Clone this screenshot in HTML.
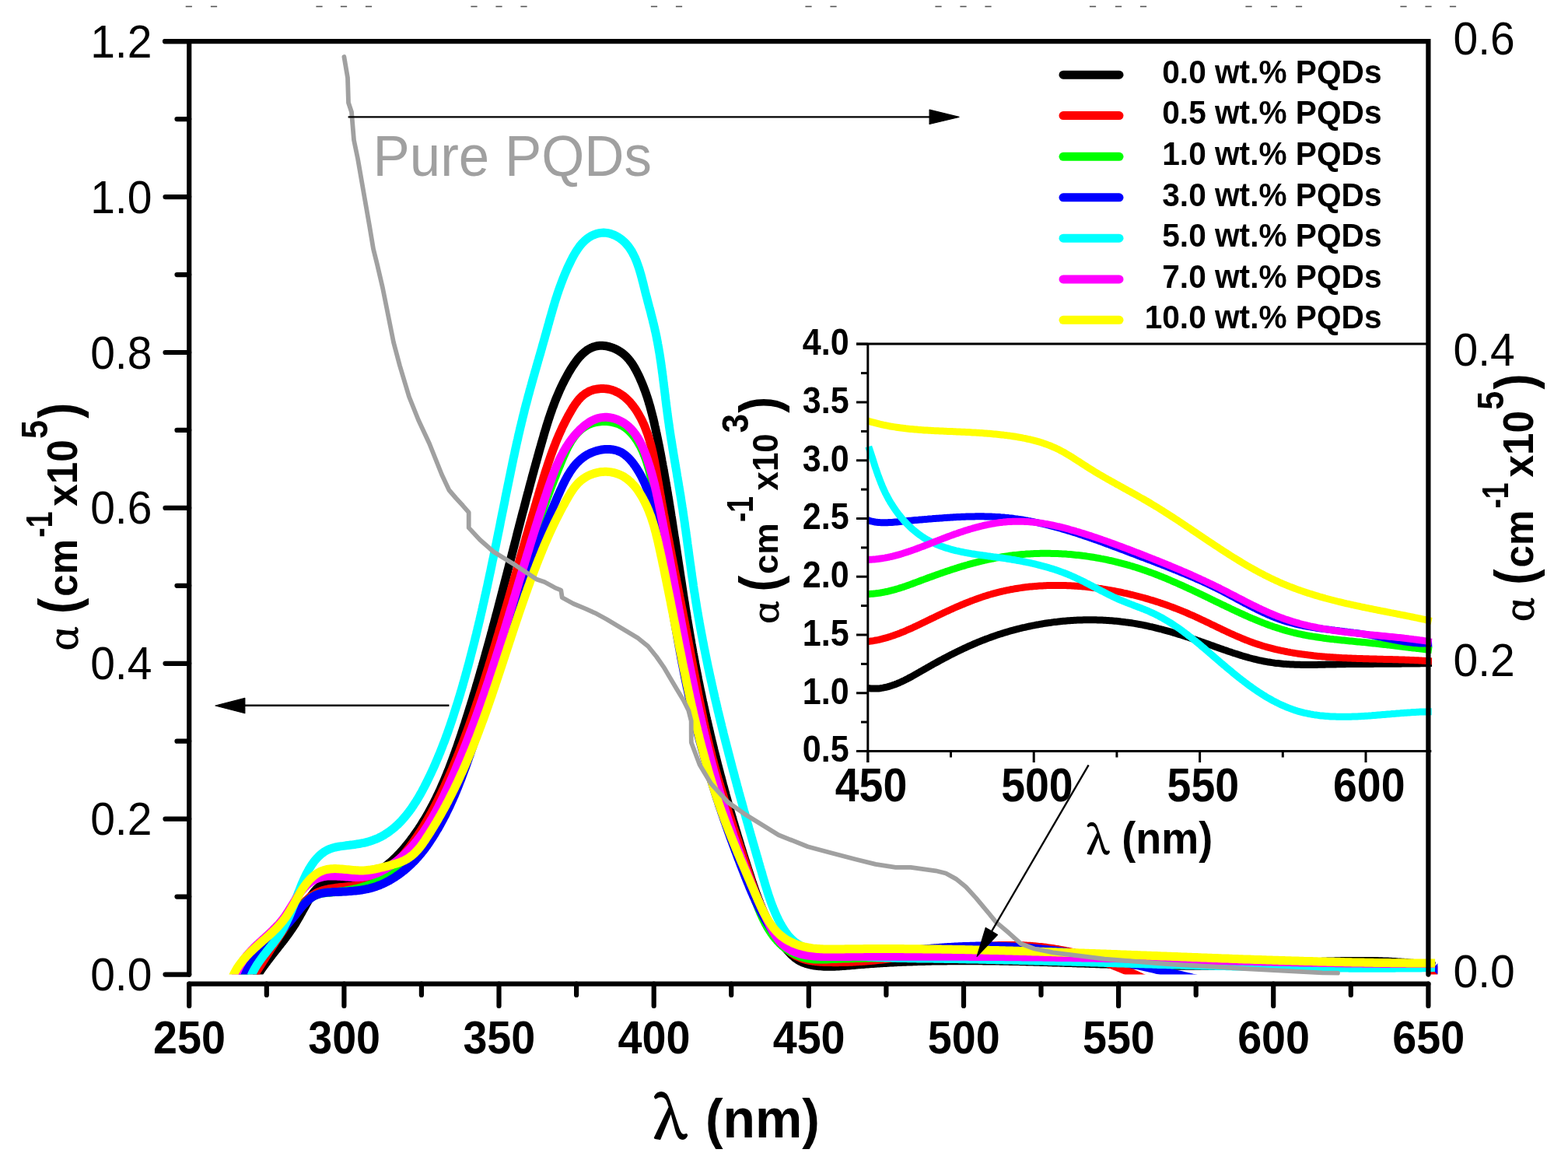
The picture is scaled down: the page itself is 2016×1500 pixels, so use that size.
<!DOCTYPE html><html><head><meta charset="utf-8"><title>Absorption coefficient</title>
<style>html,body{margin:0;padding:0;background:#fff;}svg{display:block;}text{font-family:"Liberation Sans",Arial,sans-serif;}.b{font-weight:bold;} .s{font-family:"Liberation Serif","Times New Roman",serif;font-weight:normal;}</style>
</head><body>
<svg xmlns="http://www.w3.org/2000/svg" width="2016" height="1500" viewBox="0 0 2016 1500">
<rect width="2016" height="1500" fill="#fff"/>
<defs><clipPath id="cm"><rect x="243.2" y="53.2" width="1605.2" height="1199.4"/></clipPath></defs>
<rect x="238.7" y="7.6" width="8.2" height="1.6" fill="#555"/>
<rect x="270.9" y="7.6" width="8.2" height="1.6" fill="#555"/>
<rect x="406.4" y="7.6" width="8.2" height="1.6" fill="#555"/>
<rect x="437.9" y="7.6" width="8.2" height="1.6" fill="#555"/>
<rect x="469.9" y="7.6" width="8.2" height="1.6" fill="#555"/>
<rect x="605.4" y="7.6" width="8.2" height="1.6" fill="#555"/>
<rect x="637.4" y="7.6" width="8.2" height="1.6" fill="#555"/>
<rect x="669.4" y="7.6" width="8.2" height="1.6" fill="#555"/>
<rect x="836.9" y="7.6" width="8.2" height="1.6" fill="#555"/>
<rect x="868.9" y="7.6" width="8.2" height="1.6" fill="#555"/>
<rect x="1035.4" y="7.6" width="8.2" height="1.6" fill="#555"/>
<rect x="1067.4" y="7.6" width="8.2" height="1.6" fill="#555"/>
<rect x="1202.4" y="7.6" width="8.2" height="1.6" fill="#555"/>
<rect x="1234.4" y="7.6" width="8.2" height="1.6" fill="#555"/>
<rect x="1266.4" y="7.6" width="8.2" height="1.6" fill="#555"/>
<rect x="1400.9" y="7.6" width="8.2" height="1.6" fill="#555"/>
<rect x="1433.9" y="7.6" width="8.2" height="1.6" fill="#555"/>
<rect x="1465.9" y="7.6" width="8.2" height="1.6" fill="#555"/>
<rect x="1601.4" y="7.6" width="8.2" height="1.6" fill="#555"/>
<rect x="1633.9" y="7.6" width="8.2" height="1.6" fill="#555"/>
<rect x="1665.9" y="7.6" width="8.2" height="1.6" fill="#555"/>
<rect x="1800.4" y="7.6" width="8.2" height="1.6" fill="#555"/>
<rect x="1832.4" y="7.6" width="8.2" height="1.6" fill="#555"/>
<rect x="1863.9" y="7.6" width="8.2" height="1.6" fill="#555"/>
<g clip-path="url(#cm)" fill="none" stroke-width="11" stroke-linejoin="round">
<path d="M326.1 1261.8 L327.1 1260.1 L328.1 1258.3 L329.2 1256.6 L330.2 1254.9 L331.3 1253.2 L332.4 1251.6 L333.5 1249.9 L334.6 1248.2 L335.7 1246.6 L336.8 1244.9 L338.0 1243.3 L339.1 1241.7 L340.3 1240.1 L341.5 1238.5 L342.7 1236.9 L343.9 1235.3 L345.1 1233.7 L346.3 1232.1 L347.5 1230.5 L348.7 1229.0 L349.9 1227.4 L351.2 1225.8 L352.4 1224.3 L353.6 1222.7 L354.9 1221.1 L356.1 1219.6 L357.3 1218.0 L358.6 1216.4 L359.8 1214.9 L361.0 1213.3 L362.2 1211.7 L363.4 1210.2 L364.7 1208.6 L365.9 1207.0 L367.1 1205.4 L368.3 1203.8 L369.4 1202.2 L370.6 1200.6 L371.8 1199.0 L372.9 1197.4 L374.1 1195.7 L375.2 1194.1 L376.3 1192.4 L377.4 1190.8 L378.5 1189.1 L379.5 1187.4 L380.6 1185.7 L381.6 1184.0 L382.6 1182.3 L383.7 1180.5 L384.7 1178.8 L385.6 1177.0 L386.6 1175.2 L387.6 1173.5 L388.6 1171.7 L389.6 1169.9 L390.6 1168.1 L391.6 1166.3 L392.6 1164.5 L393.6 1162.6 L394.6 1160.8 L395.7 1159.0 L396.7 1157.1 L397.8 1155.3 L398.9 1153.5 L400.0 1151.7 L401.2 1150.0 L402.4 1148.3 L403.7 1146.6 L405.0 1145.0 L406.3 1143.5 L407.7 1142.1 L409.1 1140.8 L410.6 1139.6 L412.2 1138.5 L413.8 1137.6 L415.5 1136.7 L417.3 1136.0 L419.1 1135.5 L421.0 1135.0 L422.9 1134.6 L424.9 1134.3 L426.9 1134.1 L428.9 1134.0 L431.0 1133.9 L433.0 1133.8 L435.1 1133.7 L437.2 1133.7 L439.3 1133.6 L441.4 1133.6 L443.5 1133.5 L445.6 1133.4 L447.7 1133.2 L449.7 1133.0 L451.7 1132.7 L453.7 1132.4 L455.7 1132.0 L457.6 1131.6 L459.6 1131.2 L461.5 1130.7 L463.4 1130.2 L465.3 1129.6 L467.1 1129.0 L469.0 1128.3 L470.8 1127.6 L472.6 1126.9 L474.4 1126.1 L476.2 1125.3 L477.9 1124.5 L479.7 1123.6 L481.4 1122.7 L483.1 1121.8 L484.8 1120.8 L486.4 1119.8 L488.1 1118.7 L489.7 1117.7 L491.3 1116.6 L492.9 1115.4 L494.5 1114.3 L496.0 1113.1 L497.6 1111.9 L499.1 1110.6 L500.6 1109.4 L502.1 1108.1 L503.6 1106.8 L505.1 1105.4 L506.5 1104.1 L508.0 1102.7 L509.4 1101.3 L510.8 1099.9 L512.2 1098.5 L513.6 1097.0 L514.9 1095.5 L516.3 1094.0 L517.6 1092.5 L518.9 1091.0 L520.3 1089.5 L521.5 1087.9 L522.8 1086.4 L524.1 1084.8 L525.3 1083.2 L526.6 1081.6 L527.8 1080.0 L529.0 1078.4 L530.2 1076.8 L531.4 1075.2 L532.6 1073.5 L533.7 1071.9 L534.9 1070.2 L536.0 1068.6 L537.2 1066.9 L538.3 1065.3 L539.4 1063.6 L540.5 1061.9 L541.6 1060.2 L542.6 1058.5 L543.7 1056.8 L544.7 1055.1 L545.8 1053.4 L546.8 1051.7 L547.8 1050.0 L548.8 1048.3 L549.8 1046.6 L550.8 1044.8 L551.8 1043.1 L552.7 1041.3 L553.7 1039.6 L554.6 1037.8 L555.5 1036.1 L556.5 1034.3 L557.4 1032.5 L558.3 1030.8 L559.2 1029.0 L560.1 1027.2 L561.0 1025.4 L561.8 1023.6 L562.7 1021.8 L563.6 1020.0 L564.4 1018.2 L565.2 1016.4 L566.1 1014.6 L566.9 1012.8 L567.7 1010.9 L568.5 1009.1 L569.3 1007.3 L570.1 1005.5 L570.9 1003.6 L571.7 1001.8 L572.5 999.9 L573.2 998.1 L574.0 996.3 L574.7 994.4 L575.5 992.5 L576.2 990.7 L577.0 988.8 L577.7 987.0 L578.4 985.1 L579.1 983.2 L579.8 981.4 L580.5 979.5 L581.3 977.6 L581.9 975.7 L582.6 973.9 L583.3 972.0 L584.0 970.1 L584.7 968.2 L585.4 966.3 L586.0 964.4 L586.7 962.5 L587.4 960.7 L588.0 958.8 L588.7 956.9 L589.3 955.0 L590.0 953.1 L590.6 951.2 L591.3 949.3 L591.9 947.4 L592.6 945.5 L593.2 943.6 L593.8 941.7 L594.4 939.8 L595.1 937.9 L595.7 936.0 L596.3 934.1 L596.9 932.2 L597.6 930.2 L598.2 928.3 L598.8 926.4 L599.4 924.5 L600.0 922.6 L600.6 920.7 L601.2 918.8 L601.8 916.9 L602.4 915.0 L603.0 913.1 L603.6 911.2 L604.2 909.2 L604.8 907.3 L605.4 905.4 L606.0 903.5 L606.6 901.6 L607.2 899.7 L607.8 897.8 L608.3 895.9 L608.9 893.9 L609.5 892.0 L610.1 890.1 L610.7 888.2 L611.2 886.3 L611.8 884.4 L612.4 882.4 L612.9 880.5 L613.5 878.6 L614.1 876.7 L614.6 874.8 L615.2 872.8 L615.8 870.9 L616.3 869.0 L616.9 867.1 L617.4 865.2 L618.0 863.2 L618.5 861.3 L619.1 859.4 L619.6 857.5 L620.2 855.6 L620.7 853.6 L621.3 851.7 L621.8 849.8 L622.4 847.9 L622.9 845.9 L623.5 844.0 L624.0 842.1 L624.5 840.2 L625.1 838.2 L625.6 836.3 L626.1 834.4 L626.7 832.5 L627.2 830.5 L627.7 828.6 L628.3 826.7 L628.8 824.8 L629.3 822.8 L629.9 820.9 L630.4 819.0 L630.9 817.0 L631.4 815.1 L631.9 813.2 L632.5 811.3 L633.0 809.3 L633.5 807.4 L634.0 805.5 L634.5 803.5 L635.1 801.6 L635.6 799.7 L636.1 797.7 L636.6 795.8 L637.1 793.9 L637.6 791.9 L638.1 790.0 L638.7 788.1 L639.2 786.2 L639.7 784.2 L640.2 782.3 L640.7 780.4 L641.2 778.4 L641.7 776.5 L642.2 774.6 L642.7 772.6 L643.2 770.7 L643.7 768.8 L644.2 766.8 L644.7 764.9 L645.2 763.0 L645.7 761.0 L646.2 759.1 L646.7 757.2 L647.2 755.2 L647.7 753.3 L648.2 751.4 L648.7 749.4 L649.2 747.5 L649.7 745.6 L650.2 743.6 L650.7 741.7 L651.2 739.8 L651.7 737.8 L652.2 735.9 L652.7 734.0 L653.2 732.0 L653.7 730.1 L654.2 728.2 L654.7 726.2 L655.2 724.3 L655.7 722.3 L656.2 720.4 L656.7 718.5 L657.2 716.5 L657.7 714.6 L658.2 712.7 L658.7 710.7 L659.2 708.8 L659.7 706.9 L660.2 704.9 L660.7 703.0 L661.2 701.1 L661.7 699.1 L662.2 697.2 L662.7 695.3 L663.2 693.3 L663.7 691.4 L664.2 689.5 L664.6 687.5 L665.1 685.6 L665.6 683.7 L666.1 681.7 L666.6 679.8 L667.1 677.9 L667.6 675.9 L668.1 674.0 L668.6 672.1 L669.1 670.1 L669.6 668.2 L670.1 666.3 L670.6 664.3 L671.1 662.4 L671.6 660.5 L672.1 658.5 L672.7 656.6 L673.2 654.7 L673.7 652.8 L674.2 650.8 L674.7 648.9 L675.2 647.0 L675.7 645.0 L676.2 643.1 L676.7 641.2 L677.2 639.2 L677.7 637.3 L678.2 635.4 L678.7 633.5 L679.3 631.5 L679.8 629.6 L680.3 627.7 L680.8 625.7 L681.3 623.8 L681.8 621.9 L682.3 620.0 L682.9 618.0 L683.4 616.1 L683.9 614.2 L684.4 612.2 L684.9 610.3 L685.5 608.4 L686.0 606.5 L686.5 604.5 L687.0 602.6 L687.6 600.7 L688.1 598.8 L688.6 596.8 L689.2 594.9 L689.7 593.0 L690.2 591.1 L690.8 589.2 L691.3 587.2 L691.8 585.3 L692.4 583.4 L692.9 581.5 L693.4 579.5 L694.0 577.6 L694.5 575.7 L695.1 573.8 L695.6 571.9 L696.2 569.9 L696.7 568.0 L697.3 566.1 L697.8 564.2 L698.4 562.3 L698.9 560.4 L699.5 558.4 L700.0 556.5 L700.6 554.6 L701.2 552.7 L701.8 550.8 L702.3 548.9 L702.9 547.0 L703.5 545.1 L704.1 543.2 L704.7 541.3 L705.3 539.4 L705.9 537.5 L706.6 535.6 L707.2 533.7 L707.8 531.8 L708.5 529.9 L709.2 528.0 L709.8 526.1 L710.5 524.2 L711.2 522.4 L711.9 520.5 L712.6 518.6 L713.3 516.8 L714.0 514.9 L714.8 513.0 L715.5 511.2 L716.3 509.3 L717.1 507.5 L717.9 505.6 L718.7 503.8 L719.5 501.9 L720.3 500.1 L721.2 498.3 L722.0 496.4 L722.9 494.6 L723.8 492.8 L724.7 491.0 L725.6 489.2 L726.6 487.4 L727.5 485.6 L728.5 483.8 L729.5 482.0 L730.5 480.2 L731.5 478.4 L732.6 476.6 L733.6 474.9 L734.7 473.1 L735.8 471.4 L737.0 469.7 L738.1 468.0 L739.3 466.3 L740.5 464.6 L741.7 463.0 L742.9 461.4 L744.2 459.9 L745.5 458.4 L746.9 457.0 L748.2 455.6 L749.6 454.3 L751.1 453.0 L752.5 451.9 L754.0 450.7 L755.5 449.7 L757.1 448.7 L758.7 447.8 L760.3 447.0 L762.0 446.3 L763.7 445.7 L765.5 445.2 L767.2 444.8 L769.1 444.5 L771.0 444.3 L772.9 444.2 L774.8 444.3 L776.8 444.4 L778.9 444.7 L780.9 445.1 L783.0 445.6 L785.1 446.2 L787.1 446.9 L789.2 447.7 L791.2 448.6 L793.1 449.5 L795.0 450.6 L796.9 451.7 L798.6 452.8 L800.3 454.0 L801.9 455.3 L803.5 456.7 L804.9 458.0 L806.3 459.5 L807.7 461.0 L809.0 462.5 L810.2 464.1 L811.4 465.7 L812.6 467.3 L813.7 469.0 L814.7 470.6 L815.7 472.4 L816.7 474.1 L817.7 475.9 L818.6 477.6 L819.5 479.4 L820.4 481.2 L821.3 483.0 L822.1 484.8 L822.9 486.6 L823.7 488.4 L824.5 490.2 L825.3 492.1 L826.1 493.9 L826.8 495.8 L827.5 497.6 L828.2 499.5 L828.9 501.3 L829.6 503.2 L830.3 505.1 L830.9 506.9 L831.6 508.8 L832.2 510.7 L832.8 512.6 L833.4 514.5 L834.0 516.4 L834.5 518.3 L835.1 520.2 L835.7 522.1 L836.2 524.0 L836.7 526.0 L837.2 527.9 L837.7 529.8 L838.2 531.7 L838.7 533.7 L839.2 535.6 L839.7 537.5 L840.2 539.5 L840.6 541.4 L841.1 543.4 L841.5 545.3 L841.9 547.3 L842.4 549.2 L842.8 551.2 L843.2 553.1 L843.6 555.1 L844.1 557.0 L844.5 559.0 L844.9 561.0 L845.3 562.9 L845.7 564.9 L846.1 566.8 L846.5 568.8 L846.9 570.8 L847.3 572.7 L847.7 574.7 L848.0 576.6 L848.4 578.6 L848.8 580.6 L849.2 582.5 L849.6 584.5 L849.9 586.5 L850.3 588.4 L850.7 590.4 L851.0 592.4 L851.4 594.3 L851.8 596.3 L852.1 598.3 L852.5 600.2 L852.9 602.2 L853.2 604.2 L853.6 606.1 L853.9 608.1 L854.3 610.1 L854.6 612.0 L855.0 614.0 L855.3 616.0 L855.7 618.0 L856.0 619.9 L856.3 621.9 L856.7 623.9 L857.0 625.8 L857.3 627.8 L857.7 629.8 L858.0 631.8 L858.3 633.7 L858.7 635.7 L859.0 637.7 L859.3 639.7 L859.7 641.6 L860.0 643.6 L860.3 645.6 L860.6 647.5 L860.9 649.5 L861.3 651.5 L861.6 653.5 L861.9 655.4 L862.2 657.4 L862.5 659.4 L862.8 661.4 L863.1 663.4 L863.5 665.3 L863.8 667.3 L864.1 669.3 L864.4 671.3 L864.7 673.2 L865.0 675.2 L865.3 677.2 L865.6 679.2 L865.9 681.1 L866.2 683.1 L866.5 685.1 L866.8 687.1 L867.1 689.1 L867.4 691.0 L867.8 693.0 L868.1 695.0 L868.4 697.0 L868.7 698.9 L869.0 700.9 L869.3 702.9 L869.6 704.9 L869.9 706.9 L870.2 708.8 L870.5 710.8 L870.8 712.8 L871.1 714.8 L871.4 716.7 L871.7 718.7 L872.0 720.7 L872.3 722.7 L872.6 724.7 L872.9 726.6 L873.2 728.6 L873.5 730.6 L873.8 732.6 L874.1 734.5 L874.4 736.5 L874.7 738.5 L875.0 740.5 L875.3 742.5 L875.6 744.4 L875.9 746.4 L876.2 748.4 L876.5 750.4 L876.8 752.3 L877.1 754.3 L877.4 756.3 L877.7 758.3 L878.0 760.2 L878.3 762.2 L878.6 764.2 L878.9 766.2 L879.2 768.1 L879.5 770.1 L879.8 772.1 L880.2 774.1 L880.5 776.0 L880.8 778.0 L881.1 780.0 L881.4 782.0 L881.7 783.9 L882.0 785.9 L882.4 787.9 L882.7 789.9 L883.0 791.8 L883.3 793.8 L883.6 795.8 L884.0 797.7 L884.3 799.7 L884.6 801.7 L885.0 803.7 L885.3 805.6 L885.6 807.6 L886.0 809.6 L886.3 811.5 L886.6 813.5 L887.0 815.5 L887.3 817.4 L887.6 819.4 L888.0 821.4 L888.3 823.3 L888.7 825.3 L889.0 827.3 L889.4 829.2 L889.7 831.2 L890.1 833.2 L890.4 835.1 L890.8 837.1 L891.1 839.1 L891.5 841.0 L891.9 843.0 L892.2 845.0 L892.6 846.9 L893.0 848.9 L893.3 850.8 L893.7 852.8 L894.1 854.8 L894.5 856.7 L894.8 858.7 L895.2 860.6 L895.6 862.6 L896.0 864.6 L896.4 866.5 L896.8 868.5 L897.2 870.4 L897.5 872.4 L897.9 874.3 L898.3 876.3 L898.7 878.2 L899.1 880.2 L899.5 882.2 L899.9 884.1 L900.3 886.1 L900.7 888.0 L901.1 890.0 L901.6 891.9 L902.0 893.9 L902.4 895.8 L902.8 897.8 L903.2 899.7 L903.6 901.7 L904.1 903.6 L904.5 905.6 L904.9 907.5 L905.3 909.5 L905.8 911.4 L906.2 913.4 L906.6 915.3 L907.1 917.3 L907.5 919.2 L907.9 921.2 L908.4 923.1 L908.8 925.1 L909.3 927.0 L909.7 928.9 L910.2 930.9 L910.6 932.8 L911.1 934.8 L911.5 936.7 L912.0 938.7 L912.4 940.6 L912.9 942.6 L913.3 944.5 L913.8 946.4 L914.3 948.4 L914.7 950.3 L915.2 952.3 L915.7 954.2 L916.1 956.1 L916.6 958.1 L917.1 960.0 L917.6 962.0 L918.0 963.9 L918.5 965.8 L919.0 967.8 L919.5 969.7 L920.0 971.6 L920.5 973.6 L920.9 975.5 L921.4 977.4 L921.9 979.4 L922.4 981.3 L922.9 983.3 L923.4 985.2 L923.9 987.1 L924.4 989.1 L924.9 991.0 L925.4 992.9 L925.9 994.9 L926.4 996.8 L927.0 998.7 L927.5 1000.6 L928.0 1002.6 L928.5 1004.5 L929.0 1006.4 L929.5 1008.4 L930.1 1010.3 L930.6 1012.2 L931.1 1014.2 L931.6 1016.1 L932.2 1018.0 L932.7 1019.9 L933.2 1021.9 L933.8 1023.8 L934.3 1025.7 L934.8 1027.6 L935.4 1029.6 L935.9 1031.5 L936.4 1033.4 L937.0 1035.4 L937.5 1037.3 L938.1 1039.2 L938.6 1041.1 L939.2 1043.0 L939.7 1045.0 L940.3 1046.9 L940.9 1048.8 L941.4 1050.7 L942.0 1052.7 L942.5 1054.6 L943.1 1056.5 L943.7 1058.4 L944.2 1060.3 L944.8 1062.3 L945.4 1064.2 L945.9 1066.1 L946.5 1068.0 L947.1 1069.9 L947.7 1071.9 L948.2 1073.8 L948.8 1075.7 L949.4 1077.6 L950.0 1079.5 L950.6 1081.5 L951.2 1083.4 L951.8 1085.3 L952.3 1087.2 L952.9 1089.1 L953.5 1091.0 L954.1 1092.9 L954.7 1094.9 L955.3 1096.8 L955.9 1098.7 L956.5 1100.6 L957.1 1102.5 L957.7 1104.4 L958.4 1106.3 L959.0 1108.3 L959.6 1110.2 L960.2 1112.1 L960.8 1114.0 L961.4 1115.9 L962.0 1117.8 L962.7 1119.7 L963.3 1121.6 L963.9 1123.5 L964.5 1125.5 L965.2 1127.4 L965.8 1129.3 L966.4 1131.2 L967.0 1133.1 L967.7 1135.0 L968.3 1136.9 L969.0 1138.8 L969.6 1140.7 L970.3 1142.6 L970.9 1144.5 L971.6 1146.4 L972.3 1148.3 L973.0 1150.2 L973.7 1152.0 L974.4 1153.9 L975.1 1155.8 L975.8 1157.6 L976.5 1159.5 L977.2 1161.4 L978.0 1163.2 L978.7 1165.1 L979.5 1166.9 L980.3 1168.7 L981.0 1170.6 L981.8 1172.4 L982.7 1174.2 L983.5 1176.0 L984.3 1177.8 L985.2 1179.6 L986.0 1181.4 L986.9 1183.2 L987.8 1184.9 L988.7 1186.7 L989.6 1188.4 L990.6 1190.2 L991.5 1191.9 L992.5 1193.6 L993.5 1195.3 L994.5 1197.0 L995.5 1198.7 L996.5 1200.4 L997.6 1202.1 L998.7 1203.7 L999.8 1205.4 L1000.9 1207.0 L1002.1 1208.6 L1003.2 1210.2 L1004.4 1211.8 L1005.6 1213.4 L1006.8 1215.0 L1008.1 1216.5 L1009.4 1218.1 L1010.7 1219.6 L1012.0 1221.1 L1013.3 1222.6 L1014.7 1224.1 L1016.1 1225.6 L1017.5 1227.0 L1019.0 1228.4 L1020.5 1229.7 L1022.0 1231.0 L1023.6 1232.2 L1025.2 1233.3 L1026.9 1234.4 L1028.6 1235.3 L1030.3 1236.2 L1032.1 1237.0 L1033.9 1237.7 L1035.8 1238.4 L1037.7 1238.9 L1039.6 1239.4 L1041.5 1239.9 L1043.4 1240.3 L1045.4 1240.7 L1047.3 1241.0 L1049.3 1241.3 L1051.2 1241.5 L1053.2 1241.7 L1055.2 1241.9 L1057.2 1242.1 L1059.2 1242.2 L1061.2 1242.2 L1063.2 1242.3 L1065.2 1242.3 L1067.2 1242.3 L1069.2 1242.3 L1071.2 1242.2 L1073.2 1242.2 L1075.2 1242.1 L1077.3 1242.0 L1079.3 1241.9 L1081.3 1241.7 L1083.3 1241.6 L1085.4 1241.5 L1087.4 1241.3 L1089.4 1241.1 L1091.5 1241.0 L1093.5 1240.8 L1095.5 1240.6 L1097.6 1240.4 L1099.6 1240.2 L1101.7 1240.1 L1103.7 1239.9 L1105.7 1239.7 L1107.7 1239.6 L1109.8 1239.4 L1111.8 1239.2 L1113.8 1239.1 L1115.9 1238.9 L1117.9 1238.8 L1119.9 1238.6 L1122.0 1238.5 L1124.0 1238.4 L1126.0 1238.2 L1128.0 1238.1 L1130.1 1238.0 L1132.1 1237.8 L1134.1 1237.7 L1136.1 1237.6 L1138.1 1237.5 L1140.2 1237.4 L1142.2 1237.2 L1144.2 1237.1 L1146.2 1237.0 L1148.2 1236.9 L1150.3 1236.8 L1152.3 1236.7 L1154.3 1236.6 L1156.3 1236.5 L1158.3 1236.4 L1160.3 1236.3 L1162.3 1236.3 L1164.4 1236.2 L1166.4 1236.1 L1168.4 1236.0 L1170.4 1235.9 L1172.4 1235.9 L1174.4 1235.8 L1176.4 1235.7 L1178.4 1235.7 L1180.5 1235.6 L1182.5 1235.5 L1184.5 1235.5 L1186.5 1235.4 L1188.5 1235.4 L1190.5 1235.3 L1192.5 1235.3 L1194.5 1235.2 L1196.5 1235.2 L1198.5 1235.1 L1200.5 1235.1 L1202.5 1235.1 L1204.5 1235.0 L1206.5 1235.0 L1208.5 1235.0 L1210.5 1234.9 L1212.5 1234.9 L1214.5 1234.9 L1216.5 1234.9 L1218.5 1234.8 L1220.5 1234.8 L1222.5 1234.8 L1224.5 1234.8 L1226.5 1234.8 L1228.5 1234.8 L1230.5 1234.8 L1232.5 1234.7 L1234.5 1234.7 L1236.5 1234.7 L1238.5 1234.7 L1240.5 1234.7 L1242.5 1234.7 L1244.5 1234.7 L1246.5 1234.7 L1248.5 1234.8 L1250.5 1234.8 L1252.5 1234.8 L1254.5 1234.8 L1256.5 1234.8 L1258.4 1234.8 L1260.4 1234.8 L1262.4 1234.8 L1264.4 1234.9 L1266.4 1234.9 L1268.4 1234.9 L1270.4 1234.9 L1272.4 1234.9 L1274.4 1235.0 L1276.4 1235.0 L1278.4 1235.0 L1280.3 1235.1 L1282.3 1235.1 L1284.3 1235.1 L1286.3 1235.2 L1288.3 1235.2 L1290.3 1235.2 L1292.3 1235.3 L1294.3 1235.3 L1296.2 1235.3 L1298.2 1235.4 L1300.2 1235.4 L1302.2 1235.5 L1304.2 1235.5 L1306.2 1235.6 L1308.2 1235.6 L1310.2 1235.6 L1312.1 1235.7 L1314.1 1235.7 L1316.1 1235.8 L1318.1 1235.8 L1320.1 1235.9 L1322.1 1235.9 L1324.0 1236.0 L1326.0 1236.0 L1328.0 1236.1 L1330.0 1236.2 L1332.0 1236.2 L1334.0 1236.3 L1336.0 1236.3 L1337.9 1236.4 L1339.9 1236.4 L1341.9 1236.5 L1343.9 1236.6 L1345.9 1236.6 L1347.9 1236.7 L1349.8 1236.7 L1351.8 1236.8 L1353.8 1236.9 L1355.8 1236.9 L1357.8 1237.0 L1359.8 1237.0 L1361.7 1237.1 L1363.7 1237.2 L1365.7 1237.2 L1367.7 1237.3 L1369.7 1237.4 L1371.7 1237.4 L1373.6 1237.5 L1375.6 1237.6 L1377.6 1237.6 L1379.6 1237.7 L1381.6 1237.8 L1383.6 1237.8 L1385.5 1237.9 L1387.5 1237.9 L1389.5 1238.0 L1391.5 1238.1 L1393.5 1238.1 L1395.5 1238.2 L1397.4 1238.3 L1399.4 1238.3 L1401.4 1238.4 L1403.4 1238.5 L1405.4 1238.5 L1407.4 1238.6 L1409.4 1238.7 L1411.3 1238.7 L1413.3 1238.8 L1415.3 1238.9 L1417.3 1238.9 L1419.3 1239.0 L1421.3 1239.0 L1423.2 1239.1 L1425.2 1239.2 L1427.2 1239.2 L1429.2 1239.3 L1431.2 1239.4 L1433.2 1239.4 L1435.2 1239.5 L1437.1 1239.5 L1439.1 1239.6 L1441.1 1239.7 L1443.1 1239.7 L1445.1 1239.8 L1447.1 1239.8 L1449.1 1239.9 L1451.1 1239.9 L1453.0 1240.0 L1455.0 1240.0 L1457.0 1240.1 L1459.0 1240.1 L1461.0 1240.2 L1463.0 1240.2 L1465.0 1240.3 L1467.0 1240.3 L1469.0 1240.4 L1470.9 1240.4 L1472.9 1240.5 L1474.9 1240.5 L1476.9 1240.6 L1478.9 1240.6 L1480.9 1240.7 L1482.9 1240.7 L1484.9 1240.7 L1486.9 1240.8 L1488.9 1240.8 L1490.9 1240.9 L1492.9 1240.9 L1494.9 1240.9 L1496.9 1241.0 L1498.8 1241.0 L1500.8 1241.0 L1502.8 1241.1 L1504.8 1241.1 L1506.8 1241.1 L1508.8 1241.1 L1510.8 1241.2 L1512.8 1241.2 L1514.8 1241.2 L1516.8 1241.2 L1518.8 1241.2 L1520.8 1241.3 L1522.8 1241.3 L1524.8 1241.3 L1526.8 1241.3 L1528.8 1241.3 L1530.8 1241.3 L1532.8 1241.3 L1534.8 1241.3 L1536.8 1241.3 L1538.8 1241.3 L1540.8 1241.3 L1542.8 1241.3 L1544.8 1241.3 L1546.8 1241.3 L1548.8 1241.3 L1550.8 1241.3 L1552.9 1241.3 L1554.9 1241.3 L1556.9 1241.3 L1558.9 1241.3 L1560.9 1241.3 L1562.9 1241.2 L1564.9 1241.2 L1566.9 1241.2 L1568.9 1241.2 L1570.9 1241.1 L1572.9 1241.1 L1575.0 1241.1 L1577.0 1241.0 L1579.0 1241.0 L1581.0 1241.0 L1583.0 1240.9 L1585.0 1240.9 L1587.0 1240.8 L1589.1 1240.8 L1591.1 1240.7 L1593.1 1240.7 L1595.1 1240.6 L1597.1 1240.6 L1599.1 1240.5 L1601.2 1240.5 L1603.2 1240.4 L1605.2 1240.3 L1607.2 1240.3 L1609.3 1240.2 L1611.3 1240.1 L1613.3 1240.1 L1615.3 1240.0 L1617.3 1239.9 L1619.4 1239.8 L1621.4 1239.7 L1623.4 1239.7 L1625.5 1239.6 L1627.5 1239.5 L1629.5 1239.4 L1631.5 1239.3 L1633.6 1239.2 L1635.6 1239.1 L1637.6 1239.1 L1639.6 1239.0 L1641.7 1238.9 L1643.7 1238.8 L1645.7 1238.7 L1647.8 1238.6 L1649.8 1238.5 L1651.8 1238.4 L1653.8 1238.3 L1655.9 1238.2 L1657.9 1238.1 L1659.9 1238.0 L1661.9 1237.9 L1664.0 1237.8 L1666.0 1237.8 L1668.0 1237.7 L1670.1 1237.6 L1672.1 1237.5 L1674.1 1237.4 L1676.1 1237.3 L1678.2 1237.2 L1680.2 1237.1 L1682.2 1237.0 L1684.2 1237.0 L1686.3 1236.9 L1688.3 1236.8 L1690.3 1236.7 L1692.3 1236.6 L1694.4 1236.5 L1696.4 1236.5 L1698.4 1236.4 L1700.4 1236.3 L1702.5 1236.3 L1704.5 1236.2 L1706.5 1236.1 L1708.5 1236.1 L1710.5 1236.0 L1712.6 1235.9 L1714.6 1235.9 L1716.6 1235.8 L1718.6 1235.8 L1720.6 1235.7 L1722.6 1235.7 L1724.7 1235.6 L1726.7 1235.6 L1728.7 1235.6 L1730.7 1235.5 L1732.7 1235.5 L1734.7 1235.5 L1736.7 1235.4 L1738.7 1235.4 L1740.7 1235.4 L1742.7 1235.4 L1744.7 1235.4 L1746.7 1235.4 L1748.7 1235.4 L1750.8 1235.4 L1752.8 1235.4 L1754.7 1235.4 L1756.7 1235.4 L1758.7 1235.4 L1760.7 1235.4 L1762.7 1235.5 L1764.7 1235.5 L1766.7 1235.5 L1768.7 1235.6 L1770.7 1235.6 L1772.7 1235.7 L1774.7 1235.7 L1776.7 1235.8 L1778.6 1235.9 L1780.6 1236.0 L1782.6 1236.0 L1784.6 1236.1 L1786.5 1236.2 L1788.5 1236.3 L1790.5 1236.4 L1792.5 1236.5 L1794.4 1236.6 L1796.4 1236.8 L1798.4 1236.9 L1800.3 1237.0 L1802.3 1237.2 L1804.3 1237.3 L1806.2 1237.5 L1808.2 1237.6 L1810.1 1237.8 L1812.1 1237.9 L1814.0 1238.1 L1816.0 1238.3 L1817.9 1238.5 L1819.9 1238.7 L1821.8 1238.9 L1823.8 1239.1 L1825.7 1239.4 L1827.7 1239.6 L1829.6 1239.8 L1831.5 1240.1 L1833.5 1240.3 L1835.4 1240.6 L1837.3 1240.8 L1839.2 1241.1 L1841.2 1241.4 L1843.1 1241.7 L1845.0 1242.0" stroke="#000000"/>
<path d="M321.6 1261.7 L322.7 1260.1 L323.7 1258.4 L324.8 1256.7 L325.9 1255.0 L327.0 1253.4 L328.1 1251.7 L329.1 1250.0 L330.2 1248.3 L331.3 1246.6 L332.3 1245.0 L333.4 1243.3 L334.5 1241.6 L335.5 1239.9 L336.6 1238.2 L337.7 1236.5 L338.7 1234.8 L339.8 1233.2 L340.9 1231.5 L341.9 1229.8 L343.0 1228.1 L344.1 1226.4 L345.1 1224.7 L346.2 1223.0 L347.3 1221.3 L348.3 1219.7 L349.4 1218.0 L350.5 1216.3 L351.6 1214.6 L352.6 1212.9 L353.7 1211.2 L354.8 1209.6 L355.9 1207.9 L357.0 1206.2 L358.1 1204.5 L359.2 1202.9 L360.3 1201.2 L361.4 1199.5 L362.5 1197.8 L363.7 1196.2 L364.8 1194.5 L365.9 1192.9 L367.1 1191.2 L368.2 1189.5 L369.3 1187.9 L370.5 1186.2 L371.7 1184.6 L372.8 1182.9 L374.0 1181.3 L375.2 1179.7 L376.4 1178.0 L377.6 1176.4 L378.8 1174.8 L380.0 1173.2 L381.2 1171.6 L382.5 1170.0 L383.7 1168.4 L385.0 1166.8 L386.3 1165.3 L387.6 1163.8 L388.9 1162.3 L390.2 1160.9 L391.6 1159.5 L393.0 1158.1 L394.4 1156.8 L395.9 1155.5 L397.3 1154.2 L398.9 1153.0 L400.4 1151.9 L402.0 1150.8 L403.6 1149.8 L405.2 1148.8 L406.9 1147.9 L408.6 1147.1 L410.4 1146.3 L412.2 1145.6 L414.1 1144.9 L415.9 1144.4 L417.8 1143.8 L419.8 1143.3 L421.8 1142.9 L423.7 1142.5 L425.8 1142.2 L427.8 1141.9 L429.8 1141.6 L431.9 1141.3 L434.0 1141.1 L436.0 1140.8 L438.1 1140.6 L440.2 1140.4 L442.3 1140.2 L444.3 1140.0 L446.4 1139.8 L448.5 1139.6 L450.5 1139.4 L452.6 1139.1 L454.6 1138.8 L456.6 1138.6 L458.6 1138.3 L460.6 1137.9 L462.6 1137.6 L464.6 1137.2 L466.5 1136.7 L468.4 1136.3 L470.3 1135.8 L472.2 1135.2 L474.1 1134.6 L475.9 1134.0 L477.7 1133.3 L479.5 1132.5 L481.3 1131.7 L483.0 1130.8 L484.7 1129.9 L486.4 1128.9 L488.1 1127.9 L489.7 1126.8 L491.3 1125.7 L492.9 1124.6 L494.5 1123.4 L496.0 1122.1 L497.6 1120.9 L499.1 1119.6 L500.6 1118.2 L502.0 1116.8 L503.5 1115.5 L504.9 1114.0 L506.3 1112.6 L507.7 1111.1 L509.1 1109.7 L510.5 1108.2 L511.9 1106.7 L513.2 1105.2 L514.5 1103.7 L515.9 1102.1 L517.2 1100.6 L518.5 1099.0 L519.7 1097.5 L521.0 1095.9 L522.3 1094.4 L523.5 1092.8 L524.7 1091.2 L526.0 1089.6 L527.2 1088.0 L528.4 1086.4 L529.5 1084.8 L530.7 1083.2 L531.9 1081.5 L533.0 1079.9 L534.2 1078.2 L535.3 1076.6 L536.4 1074.9 L537.5 1073.3 L538.6 1071.6 L539.7 1069.9 L540.8 1068.2 L541.9 1066.6 L542.9 1064.9 L544.0 1063.2 L545.0 1061.5 L546.0 1059.7 L547.1 1058.0 L548.1 1056.3 L549.1 1054.6 L550.1 1052.8 L551.1 1051.1 L552.1 1049.4 L553.0 1047.6 L554.0 1045.9 L555.0 1044.1 L555.9 1042.3 L556.8 1040.6 L557.8 1038.8 L558.7 1037.0 L559.6 1035.3 L560.5 1033.5 L561.4 1031.7 L562.3 1029.9 L563.2 1028.1 L564.1 1026.3 L565.0 1024.5 L565.9 1022.7 L566.7 1020.9 L567.6 1019.1 L568.5 1017.3 L569.3 1015.5 L570.2 1013.7 L571.0 1011.9 L571.9 1010.1 L572.7 1008.2 L573.5 1006.4 L574.3 1004.6 L575.2 1002.8 L576.0 1001.0 L576.8 999.1 L577.6 997.3 L578.4 995.5 L579.2 993.6 L580.0 991.8 L580.8 990.0 L581.6 988.1 L582.3 986.3 L583.1 984.4 L583.9 982.6 L584.7 980.8 L585.4 978.9 L586.2 977.1 L586.9 975.2 L587.7 973.4 L588.4 971.5 L589.2 969.7 L589.9 967.8 L590.7 966.0 L591.4 964.1 L592.1 962.2 L592.8 960.4 L593.6 958.5 L594.3 956.7 L595.0 954.8 L595.7 952.9 L596.4 951.1 L597.1 949.2 L597.8 947.3 L598.5 945.4 L599.2 943.6 L599.9 941.7 L600.6 939.8 L601.3 937.9 L602.0 936.1 L602.7 934.2 L603.3 932.3 L604.0 930.4 L604.7 928.6 L605.3 926.7 L606.0 924.8 L606.7 922.9 L607.3 921.0 L608.0 919.1 L608.6 917.2 L609.3 915.4 L609.9 913.5 L610.6 911.6 L611.2 909.7 L611.9 907.8 L612.5 905.9 L613.1 904.0 L613.8 902.1 L614.4 900.2 L615.0 898.3 L615.7 896.4 L616.3 894.5 L616.9 892.6 L617.5 890.7 L618.1 888.8 L618.8 886.9 L619.4 885.0 L620.0 883.1 L620.6 881.2 L621.2 879.3 L621.8 877.4 L622.4 875.5 L623.0 873.6 L623.6 871.7 L624.2 869.8 L624.8 867.9 L625.4 866.0 L626.0 864.0 L626.6 862.1 L627.2 860.2 L627.8 858.3 L628.4 856.4 L628.9 854.5 L629.5 852.6 L630.1 850.7 L630.7 848.8 L631.3 846.8 L631.8 844.9 L632.4 843.0 L633.0 841.1 L633.6 839.2 L634.1 837.3 L634.7 835.4 L635.3 833.4 L635.9 831.5 L636.4 829.6 L637.0 827.7 L637.6 825.8 L638.1 823.9 L638.7 821.9 L639.3 820.0 L639.8 818.1 L640.4 816.2 L641.0 814.3 L641.5 812.4 L642.1 810.4 L642.6 808.5 L643.2 806.6 L643.8 804.7 L644.3 802.8 L644.9 800.9 L645.4 798.9 L646.0 797.0 L646.6 795.1 L647.1 793.2 L647.7 791.3 L648.2 789.4 L648.8 787.4 L649.3 785.5 L649.9 783.6 L650.4 781.7 L651.0 779.8 L651.6 777.8 L652.1 775.9 L652.7 774.0 L653.2 772.1 L653.8 770.2 L654.3 768.2 L654.9 766.3 L655.4 764.4 L656.0 762.5 L656.5 760.6 L657.1 758.7 L657.6 756.7 L658.2 754.8 L658.7 752.9 L659.3 751.0 L659.8 749.1 L660.4 747.1 L660.9 745.2 L661.5 743.3 L662.0 741.4 L662.6 739.5 L663.1 737.5 L663.7 735.6 L664.2 733.7 L664.8 731.8 L665.3 729.9 L665.8 727.9 L666.4 726.0 L666.9 724.1 L667.5 722.2 L668.0 720.3 L668.6 718.3 L669.1 716.4 L669.7 714.5 L670.2 712.6 L670.8 710.7 L671.3 708.7 L671.9 706.8 L672.4 704.9 L673.0 703.0 L673.5 701.0 L674.1 699.1 L674.6 697.2 L675.2 695.3 L675.7 693.4 L676.3 691.4 L676.8 689.5 L677.4 687.6 L677.9 685.7 L678.5 683.8 L679.0 681.8 L679.6 679.9 L680.1 678.0 L680.7 676.1 L681.2 674.2 L681.8 672.2 L682.4 670.3 L682.9 668.4 L683.5 666.5 L684.0 664.6 L684.6 662.6 L685.1 660.7 L685.7 658.8 L686.3 656.9 L686.8 655.0 L687.4 653.0 L687.9 651.1 L688.5 649.2 L689.1 647.3 L689.6 645.4 L690.2 643.4 L690.7 641.5 L691.3 639.6 L691.9 637.7 L692.4 635.7 L693.0 633.8 L693.6 631.9 L694.1 630.0 L694.7 628.1 L695.3 626.1 L695.8 624.2 L696.4 622.3 L697.0 620.4 L697.6 618.5 L698.2 616.6 L698.7 614.6 L699.3 612.7 L699.9 610.8 L700.5 608.9 L701.1 607.0 L701.7 605.1 L702.3 603.2 L703.0 601.3 L703.6 599.4 L704.2 597.5 L704.8 595.6 L705.5 593.7 L706.1 591.8 L706.8 589.9 L707.4 588.0 L708.1 586.1 L708.7 584.2 L709.4 582.4 L710.1 580.5 L710.8 578.6 L711.5 576.7 L712.2 574.9 L712.9 573.0 L713.7 571.1 L714.4 569.3 L715.1 567.4 L715.9 565.6 L716.6 563.7 L717.4 561.9 L718.2 560.1 L719.0 558.2 L719.8 556.4 L720.6 554.6 L721.5 552.8 L722.3 550.9 L723.1 549.1 L724.0 547.3 L724.9 545.5 L725.8 543.7 L726.7 541.9 L727.6 540.2 L728.5 538.4 L729.5 536.6 L730.4 534.8 L731.4 533.1 L732.4 531.3 L733.4 529.6 L734.4 527.8 L735.4 526.1 L736.4 524.4 L737.5 522.6 L738.6 521.0 L739.7 519.3 L740.9 517.7 L742.1 516.1 L743.3 514.5 L744.6 513.1 L745.9 511.6 L747.3 510.2 L748.7 508.9 L750.2 507.7 L751.7 506.5 L753.3 505.4 L755.0 504.4 L756.7 503.4 L758.5 502.6 L760.4 501.9 L762.4 501.2 L764.4 500.7 L766.4 500.3 L768.5 500.0 L770.6 499.7 L772.7 499.6 L774.8 499.5 L776.9 499.6 L778.9 499.8 L780.9 500.0 L782.9 500.3 L784.8 500.8 L786.7 501.3 L788.5 501.9 L790.4 502.6 L792.1 503.4 L793.9 504.2 L795.6 505.1 L797.2 506.1 L798.8 507.1 L800.4 508.3 L802.0 509.4 L803.5 510.7 L805.0 512.0 L806.4 513.3 L807.8 514.7 L809.2 516.1 L810.6 517.6 L811.9 519.2 L813.1 520.7 L814.4 522.3 L815.6 524.0 L816.8 525.6 L817.9 527.3 L819.0 529.0 L820.1 530.8 L821.1 532.5 L822.1 534.3 L823.1 536.1 L824.1 537.9 L825.0 539.7 L825.9 541.5 L826.7 543.3 L827.6 545.2 L828.4 547.0 L829.2 548.9 L829.9 550.7 L830.6 552.6 L831.3 554.5 L832.0 556.3 L832.7 558.2 L833.3 560.1 L833.9 562.0 L834.5 563.9 L835.1 565.8 L835.6 567.8 L836.2 569.7 L836.7 571.6 L837.2 573.5 L837.7 575.5 L838.2 577.4 L838.6 579.3 L839.1 581.3 L839.5 583.2 L839.9 585.2 L840.3 587.2 L840.7 589.1 L841.1 591.1 L841.5 593.0 L841.9 595.0 L842.2 597.0 L842.6 599.0 L842.9 600.9 L843.3 602.9 L843.6 604.9 L844.0 606.9 L844.3 608.8 L844.6 610.8 L845.0 612.8 L845.3 614.8 L845.6 616.7 L846.0 618.7 L846.3 620.7 L846.7 622.7 L847.0 624.6 L847.3 626.6 L847.7 628.6 L848.0 630.5 L848.4 632.5 L848.7 634.5 L849.1 636.5 L849.4 638.4 L849.8 640.4 L850.1 642.4 L850.5 644.3 L850.8 646.3 L851.2 648.3 L851.5 650.2 L851.9 652.2 L852.3 654.2 L852.6 656.1 L853.0 658.1 L853.3 660.1 L853.7 662.0 L854.1 664.0 L854.4 666.0 L854.8 667.9 L855.1 669.9 L855.5 671.8 L855.9 673.8 L856.2 675.8 L856.6 677.7 L857.0 679.7 L857.4 681.7 L857.7 683.6 L858.1 685.6 L858.5 687.5 L858.8 689.5 L859.2 691.5 L859.6 693.4 L860.0 695.4 L860.3 697.3 L860.7 699.3 L861.1 701.3 L861.5 703.2 L861.8 705.2 L862.2 707.1 L862.6 709.1 L863.0 711.0 L863.3 713.0 L863.7 715.0 L864.1 716.9 L864.5 718.9 L864.9 720.8 L865.2 722.8 L865.6 724.8 L866.0 726.7 L866.4 728.7 L866.8 730.6 L867.1 732.6 L867.5 734.5 L867.9 736.5 L868.3 738.5 L868.7 740.4 L869.1 742.4 L869.4 744.3 L869.8 746.3 L870.2 748.3 L870.6 750.2 L871.0 752.2 L871.4 754.1 L871.7 756.1 L872.1 758.0 L872.5 760.0 L872.9 762.0 L873.3 763.9 L873.6 765.9 L874.0 767.8 L874.4 769.8 L874.8 771.8 L875.2 773.7 L875.6 775.7 L875.9 777.6 L876.3 779.6 L876.7 781.6 L877.1 783.5 L877.5 785.5 L877.9 787.4 L878.2 789.4 L878.6 791.4 L879.0 793.3 L879.4 795.3 L879.8 797.2 L880.1 799.2 L880.5 801.2 L880.9 803.1 L881.3 805.1 L881.6 807.1 L882.0 809.0 L882.4 811.0 L882.8 812.9 L883.2 814.9 L883.5 816.9 L883.9 818.8 L884.3 820.8 L884.7 822.8 L885.0 824.7 L885.4 826.7 L885.8 828.7 L886.1 830.6 L886.5 832.6 L886.9 834.5 L887.3 836.5 L887.6 838.5 L888.0 840.4 L888.4 842.4 L888.7 844.4 L889.1 846.4 L889.5 848.3 L889.8 850.3 L890.2 852.3 L890.6 854.2 L890.9 856.2 L891.3 858.2 L891.7 860.1 L892.0 862.1 L892.4 864.1 L892.8 866.0 L893.2 868.0 L893.5 870.0 L893.9 871.9 L894.3 873.9 L894.6 875.9 L895.0 877.8 L895.4 879.8 L895.8 881.8 L896.1 883.7 L896.5 885.7 L896.9 887.7 L897.3 889.6 L897.7 891.6 L898.0 893.6 L898.4 895.5 L898.8 897.5 L899.2 899.5 L899.6 901.4 L900.0 903.4 L900.4 905.4 L900.8 907.3 L901.2 909.3 L901.6 911.2 L902.0 913.2 L902.4 915.2 L902.8 917.1 L903.2 919.1 L903.6 921.0 L904.0 923.0 L904.4 925.0 L904.8 926.9 L905.2 928.9 L905.7 930.8 L906.1 932.8 L906.5 934.7 L906.9 936.7 L907.4 938.6 L907.8 940.6 L908.2 942.5 L908.7 944.5 L909.1 946.4 L909.6 948.4 L910.0 950.3 L910.5 952.3 L910.9 954.2 L911.4 956.2 L911.9 958.1 L912.3 960.0 L912.8 962.0 L913.3 963.9 L913.8 965.9 L914.3 967.8 L914.8 969.7 L915.2 971.7 L915.7 973.6 L916.2 975.5 L916.8 977.5 L917.3 979.4 L917.8 981.3 L918.3 983.3 L918.8 985.2 L919.3 987.1 L919.9 989.0 L920.4 991.0 L921.0 992.9 L921.5 994.8 L922.0 996.7 L922.6 998.6 L923.1 1000.6 L923.7 1002.5 L924.3 1004.4 L924.8 1006.3 L925.4 1008.2 L926.0 1010.1 L926.5 1012.0 L927.1 1013.9 L927.7 1015.9 L928.3 1017.8 L928.9 1019.7 L929.5 1021.6 L930.1 1023.5 L930.6 1025.4 L931.2 1027.3 L931.8 1029.2 L932.4 1031.1 L933.0 1033.0 L933.7 1034.9 L934.3 1036.8 L934.9 1038.7 L935.5 1040.6 L936.1 1042.5 L936.7 1044.4 L937.3 1046.3 L937.9 1048.2 L938.6 1050.1 L939.2 1052.0 L939.8 1053.9 L940.4 1055.8 L941.1 1057.7 L941.7 1059.6 L942.3 1061.5 L942.9 1063.4 L943.6 1065.3 L944.2 1067.2 L944.8 1069.1 L945.5 1071.0 L946.1 1072.9 L946.7 1074.8 L947.4 1076.7 L948.0 1078.6 L948.7 1080.5 L949.3 1082.4 L949.9 1084.3 L950.6 1086.2 L951.2 1088.1 L951.8 1090.0 L952.5 1091.9 L953.1 1093.8 L953.7 1095.7 L954.4 1097.6 L955.0 1099.5 L955.6 1101.4 L956.3 1103.3 L956.9 1105.2 L957.5 1107.1 L958.2 1109.0 L958.8 1110.9 L959.4 1112.8 L960.1 1114.7 L960.7 1116.6 L961.3 1118.5 L962.0 1120.4 L962.6 1122.3 L963.2 1124.2 L963.8 1126.1 L964.4 1128.0 L965.1 1129.9 L965.7 1131.8 L966.3 1133.7 L966.9 1135.6 L967.6 1137.5 L968.2 1139.4 L968.8 1141.3 L969.5 1143.2 L970.1 1145.1 L970.8 1147.0 L971.4 1148.9 L972.1 1150.8 L972.8 1152.7 L973.4 1154.6 L974.1 1156.4 L974.8 1158.3 L975.5 1160.2 L976.2 1162.0 L977.0 1163.9 L977.7 1165.7 L978.5 1167.6 L979.2 1169.4 L980.0 1171.2 L980.8 1173.1 L981.6 1174.9 L982.5 1176.7 L983.3 1178.5 L984.2 1180.3 L985.0 1182.1 L985.9 1183.8 L986.9 1185.6 L987.8 1187.4 L988.8 1189.1 L989.7 1190.8 L990.7 1192.6 L991.8 1194.3 L992.8 1196.0 L993.9 1197.7 L995.0 1199.3 L996.1 1201.0 L997.2 1202.7 L998.4 1204.3 L999.6 1205.9 L1000.8 1207.6 L1002.1 1209.2 L1003.4 1210.7 L1004.7 1212.3 L1006.0 1213.8 L1007.4 1215.3 L1008.8 1216.8 L1010.2 1218.2 L1011.7 1219.6 L1013.1 1220.9 L1014.7 1222.2 L1016.2 1223.5 L1017.8 1224.7 L1019.4 1225.8 L1021.0 1226.9 L1022.7 1227.9 L1024.4 1228.9 L1026.2 1229.7 L1027.9 1230.5 L1029.7 1231.3 L1031.6 1232.0 L1033.4 1232.6 L1035.3 1233.1 L1037.2 1233.6 L1039.1 1234.1 L1041.1 1234.5 L1043.0 1234.8 L1045.0 1235.2 L1047.0 1235.4 L1049.0 1235.7 L1051.0 1235.9 L1053.1 1236.0 L1055.1 1236.2 L1057.1 1236.3 L1059.2 1236.4 L1061.2 1236.5 L1063.2 1236.5 L1065.3 1236.6 L1067.3 1236.6 L1069.3 1236.6 L1071.3 1236.7 L1073.4 1236.7 L1075.4 1236.7 L1077.4 1236.7 L1079.4 1236.6 L1081.4 1236.6 L1083.4 1236.6 L1085.4 1236.5 L1087.4 1236.5 L1089.4 1236.4 L1091.4 1236.3 L1093.3 1236.2 L1095.3 1236.2 L1097.3 1236.1 L1099.3 1236.0 L1101.2 1235.8 L1103.2 1235.7 L1105.2 1235.6 L1107.1 1235.5 L1109.1 1235.3 L1111.0 1235.2 L1113.0 1235.0 L1114.9 1234.9 L1116.9 1234.7 L1118.8 1234.5 L1120.8 1234.4 L1122.7 1234.2 L1124.7 1234.0 L1126.6 1233.8 L1128.5 1233.6 L1130.5 1233.4 L1132.4 1233.2 L1134.3 1233.0 L1136.2 1232.7 L1138.2 1232.5 L1140.1 1232.3 L1142.0 1232.1 L1143.9 1231.8 L1145.8 1231.6 L1147.8 1231.4 L1149.7 1231.1 L1151.6 1230.9 L1153.5 1230.6 L1155.4 1230.4 L1157.3 1230.1 L1159.2 1229.8 L1161.1 1229.6 L1163.0 1229.3 L1164.9 1229.1 L1166.9 1228.8 L1168.8 1228.5 L1170.7 1228.3 L1172.6 1228.0 L1174.5 1227.7 L1176.4 1227.4 L1178.3 1227.2 L1180.2 1226.9 L1182.1 1226.6 L1184.0 1226.3 L1185.9 1226.1 L1187.8 1225.8 L1189.7 1225.5 L1191.6 1225.2 L1193.4 1225.0 L1195.3 1224.7 L1197.2 1224.4 L1199.1 1224.1 L1201.0 1223.9 L1202.9 1223.6 L1204.8 1223.3 L1206.7 1223.1 L1208.6 1222.8 L1210.5 1222.5 L1212.4 1222.3 L1214.3 1222.0 L1216.3 1221.8 L1218.2 1221.5 L1220.1 1221.3 L1222.0 1221.0 L1223.9 1220.8 L1225.8 1220.5 L1227.7 1220.3 L1229.6 1220.1 L1231.5 1219.8 L1233.4 1219.6 L1235.3 1219.4 L1237.3 1219.2 L1239.2 1218.9 L1241.1 1218.7 L1243.0 1218.5 L1244.9 1218.3 L1246.9 1218.1 L1248.8 1217.9 L1250.7 1217.8 L1252.6 1217.6 L1254.6 1217.4 L1256.5 1217.2 L1258.4 1217.1 L1260.4 1216.9 L1262.3 1216.8 L1264.3 1216.6 L1266.2 1216.5 L1268.2 1216.4 L1270.1 1216.3 L1272.1 1216.1 L1274.0 1216.0 L1276.0 1215.9 L1277.9 1215.9 L1279.9 1215.8 L1281.9 1215.7 L1283.8 1215.6 L1285.8 1215.6 L1287.8 1215.5 L1289.8 1215.5 L1291.7 1215.5 L1293.7 1215.4 L1295.7 1215.4 L1297.7 1215.4 L1299.7 1215.4 L1301.7 1215.4 L1303.7 1215.5 L1305.7 1215.5 L1307.7 1215.5 L1309.7 1215.6 L1311.8 1215.7 L1313.8 1215.8 L1315.8 1215.8 L1317.8 1215.9 L1319.9 1216.1 L1321.9 1216.2 L1324.0 1216.3 L1326.0 1216.5 L1328.1 1216.6 L1330.1 1216.8 L1332.2 1217.0 L1334.2 1217.2 L1336.3 1217.4 L1338.4 1217.6 L1340.5 1217.8 L1342.5 1218.1 L1344.6 1218.3 L1346.7 1218.6 L1348.8 1218.9 L1350.9 1219.2 L1353.0 1219.5 L1355.2 1219.8 L1357.3 1220.2 L1359.4 1220.5 L1361.5 1220.9 L1363.7 1221.3 L1365.8 1221.7 L1368.0 1222.1 L1370.1 1222.5 L1372.3 1223.0 L1374.4 1223.4 L1376.6 1223.9 L1378.8 1224.4 L1381.0 1224.9 L1383.1 1225.4 L1385.3 1226.0 L1387.5 1226.5 L1389.7 1227.1 L1392.0 1227.7 L1394.2 1228.3 L1396.4 1228.9 L1398.6 1229.6 L1400.9 1230.2 L1403.1 1230.9 L1405.4 1231.6 L1407.6 1232.3 L1409.9 1233.0 L1412.2 1233.8 L1414.4 1234.6 L1416.7 1235.3 L1419.0 1236.1 L1421.3 1237.0 L1423.6 1237.8 L1425.9 1238.7 L1428.3 1239.6 L1430.6 1240.5 L1432.9 1241.4 L1435.3 1242.3 L1437.6 1243.3 L1440.0 1244.2 L1442.3 1245.2 L1444.7 1246.2 L1447.0 1247.2 L1449.4 1248.2 L1451.8 1249.3 L1454.2 1250.3 L1456.6 1251.4 L1459.0 1252.5 L1461.4 1253.6 L1463.8 1254.7 L1466.2 1255.8 L1468.6 1256.9 L1471.0 1258.1 L1473.4 1259.2 L1475.9 1260.4 L1478.3 1261.6 L1480.7 1262.7 L1483.2 1263.9 L1485.6 1265.1 L1488.1 1266.3 L1490.5 1267.6 L1493.0 1268.8 L1495.4 1270.0 L1497.9 1271.3 L1500.3 1272.5 L1502.8 1273.8 L1505.2 1275.0 L1507.7 1276.3 L1510.2 1277.6 L1512.6 1278.9 L1515.1 1280.1 L1517.6 1281.4 L1520.1 1282.7 L1522.5 1284.0 L1525.0 1285.3 L1527.5 1286.6 L1530.0 1287.9 L1532.4 1289.2 L1534.9 1290.5 L1537.4 1291.8 L1539.9 1293.1 L1542.4 1294.4 L1544.8 1295.7 L1547.3 1297.0 L1549.8 1298.3 L1552.3 1299.7 L1554.8 1301.0 L1557.2 1302.3 L1559.7 1303.6 L1562.2 1304.9 L1564.7 1306.1 L1567.1 1307.4 L1569.6 1308.7 L1572.1 1310.0 L1574.6 1311.3 L1577.0 1312.6 L1579.5 1313.8 L1582.0 1315.1 L1584.4 1316.4 L1586.9 1317.6 L1589.3 1318.8 L1591.8 1320.1 L1594.2 1321.3 L1596.7 1322.5 L1599.1 1323.7 L1601.6 1325.0 L1604.0 1326.2 L1606.5 1327.3 L1608.9 1328.5 L1611.3 1329.7 L1613.7 1330.8 L1616.2 1332.0 L1618.6 1333.1 L1621.0 1334.2 L1623.4 1335.4 L1625.8 1336.5 L1628.2 1337.5 L1630.6 1338.6 L1633.0 1339.7 L1635.4 1340.7 L1637.7 1341.7 L1640.1 1342.8 L1642.5 1343.8 L1644.8 1344.8 L1647.2 1345.7 L1649.5 1346.7 L1651.9 1347.6 L1654.2 1348.5 L1656.5 1349.4 L1658.9 1350.3 L1661.2 1351.2 L1663.5 1352.0 L1665.8 1352.9 L1668.1 1353.7 L1670.4 1354.5 L1672.7 1355.3 L1674.9 1356.0 L1677.2 1356.7 L1679.5 1357.5 L1681.7 1358.1 L1683.9 1358.8 L1686.2 1359.5 L1688.4 1360.1 L1690.6 1360.7 L1692.8 1361.3 L1695.0 1361.8 L1697.2 1362.4 L1699.4 1362.9 L1701.6 1363.3 L1703.7 1363.8 L1705.9 1364.2 L1708.0 1364.6 L1710.2 1365.0 L1712.3 1365.4 L1714.4 1365.7 L1716.5 1366.0 L1718.6 1366.3 L1720.7 1366.5 L1722.7 1366.7 L1724.8 1366.9 L1726.9 1367.1 L1728.9 1367.2 L1730.9 1367.3 L1732.9 1367.3 L1734.9 1367.4 L1736.9 1367.4 L1738.9 1367.4 L1740.9 1367.3 L1742.8 1367.2 L1744.8 1367.1 L1746.7 1366.9 L1748.6 1366.7 L1750.5 1366.5 L1752.4 1366.2 L1754.3 1366.0 L1756.2 1365.6 L1758.0 1365.3 L1759.9 1364.9 L1761.7 1364.4 L1763.5 1364.0 L1765.3 1363.4 L1767.1 1362.9 L1768.9 1362.3 L1770.7 1361.7 L1772.4 1361.0 L1774.1 1360.3 L1775.8 1359.6 L1777.5 1358.8 L1779.2 1358.0 L1780.9 1357.2 L1782.6 1356.3 L1784.2 1355.3 L1785.8 1354.4 L1787.4 1353.3 L1789.0 1352.3 L1790.6 1351.2 L1792.2 1350.0 L1793.7 1348.8 L1795.3 1347.6 L1796.8 1346.3 L1798.3 1345.0 L1799.7 1343.6 L1801.2 1342.2 L1802.7 1340.8 L1804.1 1339.3 L1805.5 1337.7 L1806.9 1336.1 L1808.3 1334.5 L1809.6 1332.8 L1811.0 1331.1 L1812.3 1329.3 L1813.6 1327.4 L1814.9 1325.6 L1816.2 1323.6 L1817.4 1321.6 L1818.6 1319.6 L1819.9 1317.5 L1821.1 1315.4 L1822.2 1313.2 L1823.4 1311.0 L1824.5 1308.7 L1825.6 1306.4 L1826.7 1304.0 L1827.8 1301.5 L1828.9 1299.0 L1829.9 1296.5 L1830.9 1293.9 L1831.9 1291.2 L1832.9 1288.5 L1833.9 1285.7 L1834.8 1282.9 L1835.7 1280.0 L1836.6 1277.1 L1837.5 1274.1 L1838.3 1271.1 L1839.2 1268.0 L1840.0 1264.8 L1840.7 1261.6 L1841.5 1258.3 L1842.3 1255.0 L1843.0 1251.6 L1843.7 1248.1 L1844.3 1244.6 L1845.0 1241.0" stroke="#FF0000"/>
<path d="M311.9 1262.0 L312.3 1260.0 L312.8 1258.0 L313.4 1256.1 L314.1 1254.2 L314.9 1252.3 L315.7 1250.5 L316.6 1248.7 L317.6 1247.0 L318.6 1245.3 L319.7 1243.6 L320.8 1242.0 L322.0 1240.3 L323.2 1238.7 L324.4 1237.2 L325.7 1235.6 L327.0 1234.1 L328.3 1232.6 L329.6 1231.0 L331.0 1229.6 L332.3 1228.1 L333.7 1226.6 L335.0 1225.1 L336.4 1223.6 L337.7 1222.2 L339.1 1220.7 L340.5 1219.3 L341.8 1217.8 L343.2 1216.4 L344.5 1214.9 L345.9 1213.5 L347.3 1212.1 L348.6 1210.6 L350.0 1209.2 L351.3 1207.7 L352.7 1206.3 L354.0 1204.8 L355.4 1203.4 L356.7 1201.9 L358.1 1200.5 L359.4 1199.0 L360.8 1197.5 L362.1 1196.0 L363.4 1194.5 L364.8 1193.0 L366.1 1191.5 L367.4 1190.0 L368.7 1188.5 L370.0 1186.9 L371.3 1185.4 L372.6 1183.8 L373.9 1182.2 L375.2 1180.7 L376.5 1179.0 L377.8 1177.4 L379.1 1175.8 L380.3 1174.2 L381.6 1172.6 L382.9 1170.9 L384.2 1169.3 L385.5 1167.8 L386.8 1166.2 L388.1 1164.7 L389.5 1163.2 L390.9 1161.7 L392.2 1160.3 L393.7 1159.0 L395.1 1157.7 L396.6 1156.4 L398.1 1155.3 L399.6 1154.2 L401.2 1153.1 L402.8 1152.2 L404.4 1151.3 L406.1 1150.6 L407.8 1149.9 L409.6 1149.3 L411.4 1148.8 L413.3 1148.4 L415.2 1148.1 L417.1 1147.8 L419.1 1147.5 L421.1 1147.3 L423.1 1147.2 L425.1 1147.0 L427.1 1146.9 L429.1 1146.7 L431.2 1146.6 L433.2 1146.4 L435.3 1146.2 L437.3 1146.0 L439.4 1145.7 L441.4 1145.5 L443.4 1145.2 L445.5 1144.8 L447.5 1144.5 L449.5 1144.1 L451.6 1143.8 L453.6 1143.4 L455.6 1142.9 L457.6 1142.5 L459.6 1142.0 L461.6 1141.5 L463.6 1141.0 L465.5 1140.4 L467.5 1139.8 L469.5 1139.2 L471.4 1138.6 L473.3 1137.9 L475.2 1137.3 L477.1 1136.6 L479.0 1135.8 L480.9 1135.1 L482.7 1134.3 L484.6 1133.5 L486.4 1132.7 L488.2 1131.8 L490.0 1130.9 L491.8 1130.0 L493.5 1129.1 L495.2 1128.1 L496.9 1127.1 L498.6 1126.1 L500.3 1125.0 L501.9 1124.0 L503.5 1122.9 L505.1 1121.8 L506.7 1120.6 L508.3 1119.4 L509.8 1118.2 L511.3 1117.0 L512.8 1115.8 L514.3 1114.5 L515.7 1113.2 L517.2 1111.9 L518.6 1110.6 L520.0 1109.2 L521.4 1107.8 L522.7 1106.5 L524.1 1105.0 L525.4 1103.6 L526.7 1102.2 L528.0 1100.7 L529.3 1099.2 L530.6 1097.7 L531.8 1096.2 L533.1 1094.6 L534.3 1093.1 L535.5 1091.5 L536.7 1090.0 L537.9 1088.4 L539.0 1086.7 L540.2 1085.1 L541.3 1083.5 L542.5 1081.8 L543.6 1080.2 L544.7 1078.5 L545.8 1076.8 L546.9 1075.1 L547.9 1073.4 L549.0 1071.7 L550.1 1070.0 L551.1 1068.3 L552.1 1066.5 L553.2 1064.8 L554.2 1063.1 L555.2 1061.3 L556.2 1059.5 L557.1 1057.8 L558.1 1056.0 L559.1 1054.2 L560.1 1052.4 L561.0 1050.6 L562.0 1048.8 L562.9 1047.0 L563.9 1045.3 L564.8 1043.5 L565.7 1041.7 L566.6 1039.9 L567.5 1038.0 L568.5 1036.2 L569.4 1034.4 L570.3 1032.6 L571.2 1030.8 L572.0 1029.0 L572.9 1027.2 L573.8 1025.4 L574.7 1023.5 L575.5 1021.7 L576.4 1019.9 L577.3 1018.1 L578.1 1016.3 L579.0 1014.4 L579.8 1012.6 L580.6 1010.8 L581.5 1008.9 L582.3 1007.1 L583.1 1005.3 L583.9 1003.4 L584.8 1001.6 L585.6 999.8 L586.4 997.9 L587.2 996.1 L588.0 994.2 L588.8 992.4 L589.5 990.5 L590.3 988.7 L591.1 986.8 L591.9 985.0 L592.6 983.1 L593.4 981.3 L594.2 979.4 L594.9 977.6 L595.7 975.7 L596.4 973.9 L597.2 972.0 L597.9 970.1 L598.6 968.3 L599.4 966.4 L600.1 964.5 L600.8 962.7 L601.5 960.8 L602.3 958.9 L603.0 957.1 L603.7 955.2 L604.4 953.3 L605.1 951.4 L605.8 949.6 L606.5 947.7 L607.2 945.8 L607.9 943.9 L608.5 942.1 L609.2 940.2 L609.9 938.3 L610.6 936.4 L611.3 934.5 L611.9 932.6 L612.6 930.8 L613.3 928.9 L613.9 927.0 L614.6 925.1 L615.2 923.2 L615.9 921.3 L616.5 919.4 L617.2 917.5 L617.8 915.6 L618.4 913.8 L619.1 911.9 L619.7 910.0 L620.4 908.1 L621.0 906.2 L621.6 904.3 L622.2 902.4 L622.9 900.5 L623.5 898.6 L624.1 896.7 L624.7 894.8 L625.3 892.9 L625.9 891.0 L626.5 889.1 L627.1 887.2 L627.7 885.2 L628.3 883.3 L628.9 881.4 L629.5 879.5 L630.1 877.6 L630.7 875.7 L631.3 873.8 L631.9 871.9 L632.5 870.0 L633.1 868.1 L633.7 866.2 L634.3 864.3 L634.8 862.3 L635.4 860.4 L636.0 858.5 L636.6 856.6 L637.2 854.7 L637.7 852.8 L638.3 850.9 L638.9 849.0 L639.4 847.0 L640.0 845.1 L640.6 843.2 L641.1 841.3 L641.7 839.4 L642.3 837.5 L642.8 835.5 L643.4 833.6 L644.0 831.7 L644.5 829.8 L645.1 827.9 L645.7 826.0 L646.2 824.0 L646.8 822.1 L647.3 820.2 L647.9 818.3 L648.4 816.4 L649.0 814.4 L649.6 812.5 L650.1 810.6 L650.7 808.7 L651.2 806.8 L651.8 804.9 L652.3 802.9 L652.9 801.0 L653.4 799.1 L654.0 797.2 L654.5 795.3 L655.1 793.3 L655.6 791.4 L656.2 789.5 L656.8 787.6 L657.3 785.7 L657.9 783.7 L658.4 781.8 L659.0 779.9 L659.5 778.0 L660.1 776.1 L660.6 774.2 L661.2 772.2 L661.7 770.3 L662.3 768.4 L662.9 766.5 L663.4 764.6 L664.0 762.7 L664.5 760.7 L665.1 758.8 L665.6 756.9 L666.2 755.0 L666.8 753.1 L667.3 751.2 L667.9 749.3 L668.5 747.3 L669.0 745.4 L669.6 743.5 L670.2 741.6 L670.7 739.7 L671.3 737.8 L671.9 735.9 L672.4 734.0 L673.0 732.1 L673.6 730.2 L674.2 728.2 L674.7 726.3 L675.3 724.4 L675.9 722.5 L676.5 720.6 L677.1 718.7 L677.7 716.8 L678.2 714.9 L678.8 713.0 L679.4 711.1 L680.0 709.2 L680.6 707.3 L681.2 705.4 L681.8 703.5 L682.4 701.6 L683.0 699.7 L683.6 697.8 L684.2 695.9 L684.8 694.0 L685.4 692.1 L686.0 690.2 L686.7 688.3 L687.3 686.4 L687.9 684.5 L688.5 682.7 L689.1 680.8 L689.8 678.9 L690.4 677.0 L691.0 675.1 L691.7 673.2 L692.3 671.3 L692.9 669.4 L693.6 667.6 L694.2 665.7 L694.9 663.8 L695.5 661.9 L696.2 660.0 L696.8 658.1 L697.5 656.3 L698.2 654.4 L698.8 652.5 L699.5 650.6 L700.2 648.7 L700.9 646.9 L701.5 645.0 L702.2 643.1 L702.9 641.2 L703.6 639.3 L704.3 637.5 L705.0 635.6 L705.7 633.7 L706.4 631.8 L707.1 629.9 L707.8 628.0 L708.5 626.2 L709.2 624.3 L710.0 622.4 L710.7 620.5 L711.4 618.6 L712.2 616.7 L712.9 614.8 L713.7 613.0 L714.4 611.1 L715.2 609.2 L715.9 607.3 L716.7 605.4 L717.4 603.5 L718.2 601.6 L719.0 599.7 L719.8 597.8 L720.5 595.9 L721.3 594.0 L722.1 592.1 L722.9 590.2 L723.7 588.3 L724.5 586.4 L725.4 584.5 L726.2 582.6 L727.1 580.8 L727.9 578.9 L728.8 577.1 L729.7 575.2 L730.7 573.4 L731.6 571.7 L732.6 569.9 L733.6 568.2 L734.6 566.5 L735.7 564.9 L736.8 563.3 L737.9 561.7 L739.1 560.1 L740.3 558.6 L741.5 557.2 L742.8 555.8 L744.1 554.5 L745.5 553.2 L746.9 551.9 L748.3 550.7 L749.9 549.6 L751.4 548.6 L753.0 547.6 L754.7 546.7 L756.4 545.8 L758.2 545.0 L760.0 544.3 L761.9 543.7 L763.9 543.2 L765.9 542.7 L767.9 542.3 L769.9 542.0 L772.0 541.7 L774.0 541.6 L776.1 541.5 L778.2 541.5 L780.3 541.6 L782.4 541.8 L784.5 542.0 L786.5 542.3 L788.6 542.8 L790.6 543.3 L792.5 543.9 L794.5 544.5 L796.3 545.3 L798.2 546.2 L799.9 547.1 L801.6 548.1 L803.3 549.2 L804.9 550.4 L806.5 551.6 L808.0 553.0 L809.4 554.3 L810.8 555.7 L812.2 557.2 L813.5 558.7 L814.7 560.3 L816.0 561.9 L817.1 563.5 L818.3 565.1 L819.4 566.8 L820.4 568.5 L821.4 570.2 L822.4 571.9 L823.4 573.6 L824.3 575.4 L825.1 577.2 L826.0 579.0 L826.8 580.8 L827.5 582.6 L828.3 584.4 L829.0 586.2 L829.7 588.1 L830.4 589.9 L831.0 591.8 L831.6 593.7 L832.2 595.6 L832.8 597.5 L833.4 599.4 L833.9 601.3 L834.5 603.2 L835.0 605.1 L835.5 607.1 L836.0 609.0 L836.5 610.9 L837.0 612.9 L837.4 614.8 L837.9 616.8 L838.4 618.7 L838.8 620.7 L839.3 622.6 L839.7 624.6 L840.2 626.5 L840.6 628.5 L841.1 630.4 L841.5 632.4 L842.0 634.3 L842.4 636.3 L842.8 638.3 L843.3 640.2 L843.7 642.2 L844.1 644.1 L844.6 646.1 L845.0 648.0 L845.4 650.0 L845.8 652.0 L846.3 653.9 L846.7 655.9 L847.1 657.8 L847.5 659.8 L847.9 661.8 L848.3 663.7 L848.7 665.7 L849.1 667.6 L849.5 669.6 L849.9 671.6 L850.3 673.5 L850.7 675.5 L851.1 677.5 L851.5 679.4 L851.9 681.4 L852.3 683.4 L852.7 685.3 L853.1 687.3 L853.5 689.3 L853.9 691.2 L854.3 693.2 L854.6 695.2 L855.0 697.1 L855.4 699.1 L855.8 701.1 L856.2 703.1 L856.5 705.0 L856.9 707.0 L857.3 709.0 L857.7 710.9 L858.0 712.9 L858.4 714.9 L858.8 716.8 L859.2 718.8 L859.5 720.8 L859.9 722.8 L860.3 724.7 L860.6 726.7 L861.0 728.7 L861.4 730.6 L861.7 732.6 L862.1 734.6 L862.5 736.6 L862.8 738.5 L863.2 740.5 L863.6 742.5 L863.9 744.5 L864.3 746.4 L864.6 748.4 L865.0 750.4 L865.4 752.3 L865.7 754.3 L866.1 756.3 L866.4 758.3 L866.8 760.2 L867.2 762.2 L867.5 764.2 L867.9 766.2 L868.2 768.1 L868.6 770.1 L869.0 772.1 L869.3 774.0 L869.7 776.0 L870.0 778.0 L870.4 780.0 L870.7 781.9 L871.1 783.9 L871.5 785.9 L871.8 787.8 L872.2 789.8 L872.5 791.8 L872.9 793.8 L873.3 795.7 L873.6 797.7 L874.0 799.7 L874.3 801.6 L874.7 803.6 L875.1 805.6 L875.4 807.5 L875.8 809.5 L876.2 811.5 L876.5 813.4 L876.9 815.4 L877.3 817.4 L877.6 819.4 L878.0 821.3 L878.4 823.3 L878.7 825.2 L879.1 827.2 L879.5 829.2 L879.9 831.1 L880.2 833.1 L880.6 835.1 L881.0 837.0 L881.4 839.0 L881.7 841.0 L882.1 842.9 L882.5 844.9 L882.9 846.8 L883.3 848.8 L883.7 850.8 L884.0 852.7 L884.4 854.7 L884.8 856.6 L885.2 858.6 L885.6 860.6 L886.0 862.5 L886.4 864.5 L886.8 866.4 L887.2 868.4 L887.6 870.3 L888.0 872.3 L888.4 874.3 L888.8 876.2 L889.2 878.2 L889.6 880.1 L890.0 882.1 L890.4 884.0 L890.9 886.0 L891.3 887.9 L891.7 889.9 L892.1 891.8 L892.5 893.8 L893.0 895.7 L893.4 897.6 L893.8 899.6 L894.3 901.5 L894.7 903.5 L895.1 905.4 L895.6 907.4 L896.0 909.3 L896.4 911.2 L896.9 913.2 L897.3 915.1 L897.8 917.1 L898.2 919.0 L898.7 920.9 L899.1 922.9 L899.6 924.8 L900.1 926.7 L900.5 928.7 L901.0 930.6 L901.5 932.5 L901.9 934.5 L902.4 936.4 L902.9 938.3 L903.4 940.3 L903.8 942.2 L904.3 944.1 L904.8 946.0 L905.3 948.0 L905.8 949.9 L906.3 951.8 L906.8 953.7 L907.3 955.7 L907.7 957.6 L908.2 959.5 L908.7 961.4 L909.3 963.4 L909.8 965.3 L910.3 967.2 L910.8 969.1 L911.3 971.0 L911.8 973.0 L912.3 974.9 L912.8 976.8 L913.4 978.7 L913.9 980.6 L914.4 982.6 L914.9 984.5 L915.5 986.4 L916.0 988.3 L916.5 990.2 L917.1 992.1 L917.6 994.1 L918.1 996.0 L918.7 997.9 L919.2 999.8 L919.8 1001.7 L920.3 1003.6 L920.9 1005.5 L921.4 1007.4 L922.0 1009.4 L922.5 1011.3 L923.1 1013.2 L923.7 1015.1 L924.2 1017.0 L924.8 1018.9 L925.4 1020.8 L925.9 1022.7 L926.5 1024.6 L927.1 1026.5 L927.7 1028.5 L928.2 1030.4 L928.8 1032.3 L929.4 1034.2 L930.0 1036.1 L930.6 1038.0 L931.2 1039.9 L931.8 1041.8 L932.3 1043.7 L932.9 1045.6 L933.5 1047.5 L934.1 1049.4 L934.7 1051.3 L935.3 1053.3 L936.0 1055.2 L936.6 1057.1 L937.2 1059.0 L937.8 1060.9 L938.4 1062.8 L939.0 1064.7 L939.6 1066.6 L940.2 1068.5 L940.9 1070.4 L941.5 1072.3 L942.1 1074.2 L942.7 1076.1 L943.4 1078.0 L944.0 1079.9 L944.6 1081.8 L945.3 1083.7 L945.9 1085.7 L946.6 1087.6 L947.2 1089.5 L947.8 1091.4 L948.5 1093.3 L949.1 1095.2 L949.8 1097.1 L950.4 1099.0 L951.1 1100.9 L951.7 1102.8 L952.4 1104.7 L953.1 1106.6 L953.7 1108.5 L954.4 1110.4 L955.1 1112.3 L955.7 1114.2 L956.4 1116.1 L957.1 1118.1 L957.7 1120.0 L958.4 1121.9 L959.1 1123.8 L959.8 1125.7 L960.5 1127.6 L961.1 1129.5 L961.8 1131.4 L962.5 1133.3 L963.2 1135.2 L963.9 1137.1 L964.6 1139.0 L965.3 1140.9 L966.0 1142.9 L966.7 1144.8 L967.4 1146.7 L968.1 1148.6 L968.8 1150.5 L969.5 1152.4 L970.2 1154.3 L970.9 1156.2 L971.6 1158.1 L972.3 1160.0 L973.1 1161.9 L973.8 1163.8 L974.6 1165.7 L975.3 1167.6 L976.1 1169.5 L976.9 1171.3 L977.6 1173.2 L978.5 1175.0 L979.3 1176.9 L980.1 1178.7 L981.0 1180.5 L981.8 1182.3 L982.7 1184.1 L983.6 1185.9 L984.5 1187.6 L985.5 1189.3 L986.4 1191.1 L987.4 1192.8 L988.4 1194.4 L989.5 1196.1 L990.6 1197.7 L991.6 1199.3 L992.8 1200.9 L993.9 1202.5 L995.1 1204.0 L996.3 1205.5 L997.5 1207.0 L998.8 1208.5 L1000.1 1209.9 L1001.5 1211.3 L1002.8 1212.7 L1004.2 1214.0 L1005.7 1215.4 L1007.2 1216.6 L1008.7 1217.9 L1010.3 1219.1 L1011.9 1220.2 L1013.5 1221.4 L1015.1 1222.5 L1016.8 1223.5 L1018.5 1224.5 L1020.3 1225.5 L1022.1 1226.4 L1023.9 1227.2 L1025.7 1228.0 L1027.5 1228.8 L1029.4 1229.4 L1031.3 1230.1 L1033.2 1230.7 L1035.1 1231.2 L1037.0 1231.6 L1039.0 1232.0 L1040.9 1232.3 L1042.9 1232.6 L1044.9 1232.8 L1046.9 1232.9 L1048.9 1233.0 L1050.9 1233.1 L1052.9 1233.1 L1054.9 1233.1 L1056.9 1233.1 L1058.9 1233.0 L1061.0 1232.9 L1063.0 1232.9 L1065.0 1232.8 L1067.0 1232.7 L1069.1 1232.6 L1071.1 1232.6 L1073.1 1232.5 L1075.1 1232.4 L1077.2 1232.3 L1079.2 1232.3 L1081.2 1232.2 L1083.2 1232.1 L1085.3 1232.1 L1087.3 1232.0 L1089.3 1231.9 L1091.3 1231.9 L1093.4 1231.8 L1095.4 1231.7 L1097.4 1231.7 L1099.4 1231.6 L1101.4 1231.6 L1103.5 1231.5 L1105.5 1231.5 L1107.5 1231.4 L1109.5 1231.3 L1111.5 1231.3 L1113.6 1231.2 L1115.6 1231.2 L1117.6 1231.1 L1119.6 1231.1 L1121.6 1231.1 L1123.6 1231.0 L1125.7 1231.0 L1127.7 1230.9 L1129.7 1230.9 L1131.7 1230.9 L1133.7 1230.8 L1135.7 1230.8 L1137.7 1230.7 L1139.8 1230.7 L1141.8 1230.7 L1143.8 1230.6 L1145.8 1230.6 L1147.8 1230.6 L1149.8 1230.6 L1151.8 1230.5 L1153.8 1230.5 L1155.8 1230.5 L1157.9 1230.4 L1159.9 1230.4 L1161.9 1230.4 L1163.9 1230.4 L1165.9 1230.4 L1167.9 1230.3 L1169.9 1230.3 L1171.9 1230.3 L1173.9 1230.3 L1175.9 1230.3 L1177.9 1230.3 L1179.9 1230.2 L1181.9 1230.2 L1184.0 1230.2 L1186.0 1230.2 L1188.0 1230.2 L1190.0 1230.2 L1192.0 1230.2 L1194.0 1230.2 L1196.0 1230.2 L1198.0 1230.2 L1200.0 1230.2 L1202.0 1230.2 L1204.0 1230.2 L1206.0 1230.2 L1208.0 1230.2 L1210.0 1230.2 L1212.0 1230.2 L1214.0 1230.2 L1216.0 1230.2 L1218.0 1230.2 L1220.0 1230.2 L1222.0 1230.2 L1224.0 1230.2 L1226.0 1230.2 L1228.0 1230.2 L1230.0 1230.2 L1232.0 1230.2 L1234.0 1230.3 L1236.0 1230.3 L1238.0 1230.3 L1240.0 1230.3 L1242.0 1230.3 L1244.0 1230.3 L1246.0 1230.3 L1248.0 1230.4 L1250.0 1230.4 L1252.0 1230.4 L1254.0 1230.4 L1256.0 1230.4 L1258.0 1230.5 L1260.0 1230.5 L1262.0 1230.5 L1264.0 1230.5 L1266.0 1230.5 L1268.0 1230.6 L1270.0 1230.6 L1272.0 1230.6 L1273.9 1230.6 L1275.9 1230.7 L1277.9 1230.7 L1279.9 1230.7 L1281.9 1230.8 L1283.9 1230.8 L1285.9 1230.8 L1287.9 1230.8 L1289.9 1230.9 L1291.9 1230.9 L1293.9 1230.9 L1295.9 1231.0 L1297.9 1231.0 L1299.9 1231.0 L1301.9 1231.1 L1303.8 1231.1 L1305.8 1231.2 L1307.8 1231.2 L1309.8 1231.2 L1311.8 1231.3 L1313.8 1231.3 L1315.8 1231.3 L1317.8 1231.4 L1319.8 1231.4 L1321.8 1231.5 L1323.8 1231.5 L1325.7 1231.6 L1327.7 1231.6 L1329.7 1231.6 L1331.7 1231.7 L1333.7 1231.7 L1335.7 1231.8 L1337.7 1231.8 L1339.7 1231.9 L1341.7 1231.9 L1343.6 1232.0 L1345.6 1232.0 L1347.6 1232.0 L1349.6 1232.1 L1351.6 1232.1 L1353.6 1232.2 L1355.6 1232.2 L1357.6 1232.3 L1359.6 1232.3 L1361.5 1232.4 L1363.5 1232.4 L1365.5 1232.5 L1367.5 1232.5 L1369.5 1232.6 L1371.5 1232.6 L1373.5 1232.7 L1375.5 1232.8 L1377.4 1232.8 L1379.4 1232.9 L1381.4 1232.9 L1383.4 1233.0 L1385.4 1233.0 L1387.4 1233.1 L1389.4 1233.1 L1391.4 1233.2 L1393.3 1233.2 L1395.3 1233.3 L1397.3 1233.4 L1399.3 1233.4 L1401.3 1233.5 L1403.3 1233.5 L1405.3 1233.6 L1407.2 1233.6 L1409.2 1233.7 L1411.2 1233.8 L1413.2 1233.8 L1415.2 1233.9 L1417.2 1233.9 L1419.2 1234.0 L1421.1 1234.0 L1423.1 1234.1 L1425.1 1234.2 L1427.1 1234.2 L1429.1 1234.3 L1431.1 1234.3 L1433.1 1234.4 L1435.0 1234.5 L1437.0 1234.5 L1439.0 1234.6 L1441.0 1234.6 L1443.0 1234.7 L1445.0 1234.8 L1447.0 1234.8 L1449.0 1234.9 L1450.9 1234.9 L1452.9 1235.0 L1454.9 1235.1 L1456.9 1235.1 L1458.9 1235.2 L1460.9 1235.2 L1462.9 1235.3 L1464.8 1235.4 L1466.8 1235.4 L1468.8 1235.5 L1470.8 1235.6 L1472.8 1235.6 L1474.8 1235.7 L1476.8 1235.7 L1478.7 1235.8 L1480.7 1235.9 L1482.7 1235.9 L1484.7 1236.0 L1486.7 1236.0 L1488.7 1236.1 L1490.7 1236.2 L1492.6 1236.2 L1494.6 1236.3 L1496.6 1236.3 L1498.6 1236.4 L1500.6 1236.5 L1502.6 1236.5 L1504.6 1236.6 L1506.5 1236.7 L1508.5 1236.7 L1510.5 1236.8 L1512.5 1236.8 L1514.5 1236.9 L1516.5 1237.0 L1518.5 1237.0 L1520.5 1237.1 L1522.4 1237.1 L1524.4 1237.2 L1526.4 1237.3 L1528.4 1237.3 L1530.4 1237.4 L1532.4 1237.4 L1534.4 1237.5 L1536.4 1237.5 L1538.3 1237.6 L1540.3 1237.7 L1542.3 1237.7 L1544.3 1237.8 L1546.3 1237.8 L1548.3 1237.9 L1550.3 1237.9 L1552.3 1238.0 L1554.2 1238.1 L1556.2 1238.1 L1558.2 1238.2 L1560.2 1238.2 L1562.2 1238.3 L1564.2 1238.3 L1566.2 1238.4 L1568.2 1238.4 L1570.2 1238.5 L1572.2 1238.6 L1574.1 1238.6 L1576.1 1238.7 L1578.1 1238.7 L1580.1 1238.8 L1582.1 1238.8 L1584.1 1238.9 L1586.1 1238.9 L1588.1 1239.0 L1590.1 1239.0 L1592.1 1239.1 L1594.1 1239.1 L1596.0 1239.2 L1598.0 1239.2 L1600.0 1239.3 L1602.0 1239.3 L1604.0 1239.4 L1606.0 1239.4 L1608.0 1239.5 L1610.0 1239.5 L1612.0 1239.5 L1614.0 1239.6 L1616.0 1239.6 L1618.0 1239.7 L1620.0 1239.7 L1622.0 1239.8 L1623.9 1239.8 L1625.9 1239.9 L1627.9 1239.9 L1629.9 1239.9 L1631.9 1240.0 L1633.9 1240.0 L1635.9 1240.1 L1637.9 1240.1 L1639.9 1240.1 L1641.9 1240.2 L1643.9 1240.2 L1645.9 1240.3 L1647.9 1240.3 L1649.9 1240.3 L1651.9 1240.4 L1653.9 1240.4 L1655.9 1240.4 L1657.9 1240.5 L1659.9 1240.5 L1661.9 1240.5 L1663.9 1240.6 L1665.9 1240.6 L1667.9 1240.6 L1669.9 1240.6 L1671.9 1240.7 L1673.9 1240.7 L1675.9 1240.7 L1677.9 1240.8 L1679.9 1240.8 L1681.9 1240.8 L1683.9 1240.8 L1685.9 1240.9 L1687.9 1240.9 L1689.9 1240.9 L1691.9 1240.9 L1693.9 1241.0 L1695.9 1241.0 L1697.9 1241.0 L1699.9 1241.0 L1701.9 1241.0 L1703.9 1241.0 L1705.9 1241.1 L1707.9 1241.1 L1709.9 1241.1 L1711.9 1241.1 L1713.9 1241.1 L1715.9 1241.1 L1717.9 1241.2 L1719.9 1241.2 L1721.9 1241.2 L1724.0 1241.2 L1726.0 1241.2 L1728.0 1241.2 L1730.0 1241.2 L1732.0 1241.2 L1734.0 1241.2 L1736.0 1241.2 L1738.0 1241.2 L1740.0 1241.2 L1742.0 1241.2 L1744.0 1241.2 L1746.0 1241.2 L1748.1 1241.2 L1750.1 1241.2 L1752.1 1241.2 L1754.1 1241.2 L1756.1 1241.2 L1758.1 1241.2 L1760.1 1241.2 L1762.1 1241.2 L1764.2 1241.2 L1766.2 1241.2 L1768.2 1241.2 L1770.2 1241.2 L1772.2 1241.2 L1774.2 1241.1 L1776.2 1241.1 L1778.3 1241.1 L1780.3 1241.1 L1782.3 1241.1 L1784.3 1241.1 L1786.3 1241.0 L1788.3 1241.0 L1790.4 1241.0 L1792.4 1241.0 L1794.4 1241.0 L1796.4 1240.9 L1798.4 1240.9 L1800.5 1240.9 L1802.5 1240.8 L1804.5 1240.8 L1806.5 1240.8 L1808.5 1240.8 L1810.6 1240.7 L1812.6 1240.7 L1814.6 1240.7 L1816.6 1240.6 L1818.7 1240.6 L1820.7 1240.5 L1822.7 1240.5 L1824.7 1240.5 L1826.8 1240.4 L1828.8 1240.4 L1830.8 1240.3 L1832.8 1240.3 L1834.9 1240.2 L1836.9 1240.2 L1838.9 1240.2 L1840.9 1240.1 L1843.0 1240.1 L1845.0 1240.0" stroke="#00FF00"/>
<path d="M308.3 1261.8 L309.2 1259.9 L310.0 1258.1 L310.9 1256.2 L311.8 1254.4 L312.8 1252.6 L313.7 1250.9 L314.7 1249.2 L315.8 1247.5 L316.8 1245.8 L317.9 1244.1 L319.0 1242.5 L320.2 1240.9 L321.3 1239.3 L322.5 1237.7 L323.7 1236.1 L324.9 1234.6 L326.2 1233.1 L327.4 1231.5 L328.7 1230.0 L330.0 1228.6 L331.3 1227.1 L332.6 1225.6 L334.0 1224.2 L335.3 1222.7 L336.7 1221.3 L338.0 1219.9 L339.4 1218.5 L340.8 1217.0 L342.2 1215.6 L343.6 1214.2 L345.0 1212.8 L346.4 1211.4 L347.9 1210.0 L349.3 1208.6 L350.7 1207.2 L352.1 1205.8 L353.6 1204.4 L355.0 1203.0 L356.4 1201.6 L357.9 1200.2 L359.3 1198.8 L360.7 1197.4 L362.1 1195.9 L363.5 1194.5 L364.9 1193.0 L366.3 1191.6 L367.7 1190.1 L369.1 1188.6 L370.5 1187.1 L371.8 1185.6 L373.1 1184.1 L374.5 1182.5 L375.8 1181.0 L377.1 1179.4 L378.4 1177.8 L379.7 1176.2 L380.9 1174.5 L382.2 1172.9 L383.4 1171.3 L384.7 1169.7 L386.0 1168.1 L387.3 1166.5 L388.6 1165.0 L389.9 1163.5 L391.2 1162.0 L392.6 1160.6 L393.9 1159.2 L395.3 1157.9 L396.8 1156.6 L398.3 1155.4 L399.8 1154.3 L401.4 1153.2 L403.0 1152.2 L404.6 1151.3 L406.4 1150.5 L408.1 1149.8 L410.0 1149.2 L411.9 1148.6 L413.8 1148.2 L415.8 1147.8 L417.8 1147.5 L419.8 1147.3 L421.9 1147.1 L424.0 1146.9 L426.1 1146.8 L428.2 1146.6 L430.3 1146.6 L432.4 1146.5 L434.5 1146.4 L436.5 1146.3 L438.6 1146.2 L440.7 1146.1 L442.7 1146.0 L444.7 1145.9 L446.8 1145.8 L448.8 1145.6 L450.8 1145.5 L452.8 1145.3 L454.8 1145.1 L456.8 1145.0 L458.8 1144.7 L460.7 1144.5 L462.7 1144.2 L464.7 1144.0 L466.6 1143.6 L468.5 1143.3 L470.5 1142.9 L472.4 1142.5 L474.3 1142.1 L476.2 1141.6 L478.1 1141.1 L480.0 1140.6 L481.8 1140.0 L483.7 1139.4 L485.6 1138.7 L487.4 1138.0 L489.2 1137.3 L491.1 1136.5 L492.9 1135.7 L494.7 1134.8 L496.5 1133.9 L498.3 1133.0 L500.0 1132.1 L501.8 1131.1 L503.5 1130.1 L505.2 1129.0 L507.0 1128.0 L508.7 1126.9 L510.3 1125.7 L512.0 1124.6 L513.7 1123.4 L515.3 1122.2 L516.9 1120.9 L518.5 1119.7 L520.1 1118.4 L521.7 1117.1 L523.2 1115.8 L524.7 1114.4 L526.2 1113.0 L527.7 1111.7 L529.2 1110.3 L530.6 1108.8 L532.1 1107.4 L533.5 1105.9 L534.9 1104.5 L536.2 1103.0 L537.6 1101.5 L538.9 1099.9 L540.2 1098.4 L541.5 1096.9 L542.7 1095.3 L544.0 1093.7 L545.2 1092.2 L546.4 1090.6 L547.6 1089.0 L548.8 1087.4 L549.9 1085.7 L551.1 1084.1 L552.2 1082.5 L553.3 1080.8 L554.4 1079.1 L555.5 1077.5 L556.6 1075.8 L557.6 1074.1 L558.7 1072.4 L559.7 1070.7 L560.7 1069.0 L561.7 1067.3 L562.8 1065.6 L563.8 1063.9 L564.7 1062.2 L565.7 1060.5 L566.7 1058.7 L567.6 1057.0 L568.6 1055.2 L569.5 1053.5 L570.4 1051.7 L571.4 1049.9 L572.3 1048.2 L573.2 1046.4 L574.0 1044.6 L574.9 1042.8 L575.8 1041.0 L576.7 1039.3 L577.5 1037.5 L578.4 1035.7 L579.2 1033.8 L580.0 1032.0 L580.8 1030.2 L581.7 1028.4 L582.5 1026.6 L583.3 1024.7 L584.1 1022.9 L584.9 1021.1 L585.6 1019.2 L586.4 1017.4 L587.2 1015.6 L587.9 1013.7 L588.7 1011.9 L589.4 1010.0 L590.2 1008.1 L590.9 1006.3 L591.6 1004.4 L592.4 1002.5 L593.1 1000.7 L593.8 998.8 L594.5 996.9 L595.2 995.1 L595.9 993.2 L596.6 991.3 L597.3 989.4 L598.0 987.5 L598.7 985.7 L599.4 983.8 L600.1 981.9 L600.7 980.0 L601.4 978.1 L602.1 976.2 L602.7 974.3 L603.4 972.4 L604.1 970.5 L604.7 968.6 L605.4 966.7 L606.0 964.8 L606.7 962.9 L607.3 961.0 L608.0 959.1 L608.6 957.2 L609.3 955.3 L609.9 953.4 L610.5 951.5 L611.2 949.6 L611.8 947.7 L612.4 945.8 L613.0 943.9 L613.7 942.0 L614.3 940.1 L614.9 938.2 L615.5 936.3 L616.1 934.4 L616.8 932.4 L617.4 930.5 L618.0 928.6 L618.6 926.7 L619.2 924.8 L619.8 922.9 L620.4 921.0 L621.0 919.1 L621.6 917.2 L622.2 915.2 L622.8 913.3 L623.4 911.4 L624.0 909.5 L624.6 907.6 L625.2 905.7 L625.8 903.7 L626.4 901.8 L627.0 899.9 L627.6 898.0 L628.2 896.1 L628.8 894.2 L629.3 892.3 L629.9 890.3 L630.5 888.4 L631.1 886.5 L631.7 884.6 L632.3 882.7 L632.9 880.8 L633.4 878.8 L634.0 876.9 L634.6 875.0 L635.2 873.1 L635.8 871.2 L636.3 869.3 L636.9 867.3 L637.5 865.4 L638.1 863.5 L638.7 861.6 L639.2 859.7 L639.8 857.8 L640.4 855.9 L641.0 853.9 L641.6 852.0 L642.1 850.1 L642.7 848.2 L643.3 846.3 L643.9 844.4 L644.5 842.5 L645.0 840.6 L645.6 838.7 L646.2 836.7 L646.8 834.8 L647.4 832.9 L648.0 831.0 L648.5 829.1 L649.1 827.2 L649.7 825.3 L650.3 823.4 L650.9 821.5 L651.5 819.6 L652.1 817.7 L652.6 815.8 L653.2 813.9 L653.8 812.0 L654.4 810.1 L655.0 808.2 L655.6 806.3 L656.2 804.4 L656.8 802.5 L657.4 800.6 L658.0 798.7 L658.6 796.8 L659.2 794.9 L659.8 793.0 L660.4 791.1 L661.0 789.2 L661.6 787.3 L662.2 785.4 L662.8 783.5 L663.4 781.6 L664.1 779.8 L664.7 777.9 L665.3 776.0 L665.9 774.1 L666.5 772.2 L667.1 770.3 L667.8 768.4 L668.4 766.5 L669.0 764.7 L669.6 762.8 L670.3 760.9 L670.9 759.0 L671.5 757.1 L672.2 755.2 L672.8 753.3 L673.5 751.5 L674.1 749.6 L674.7 747.7 L675.4 745.8 L676.0 743.9 L676.7 742.1 L677.3 740.2 L678.0 738.3 L678.6 736.4 L679.3 734.5 L680.0 732.7 L680.6 730.8 L681.3 728.9 L682.0 727.0 L682.6 725.2 L683.3 723.3 L684.0 721.4 L684.7 719.5 L685.3 717.7 L686.0 715.8 L686.7 713.9 L687.4 712.0 L688.1 710.2 L688.8 708.3 L689.5 706.4 L690.2 704.5 L690.9 702.7 L691.6 700.8 L692.3 698.9 L693.0 697.0 L693.7 695.2 L694.4 693.3 L695.1 691.4 L695.9 689.6 L696.6 687.7 L697.3 685.8 L698.1 683.9 L698.8 682.1 L699.5 680.2 L700.3 678.3 L701.0 676.5 L701.8 674.6 L702.5 672.7 L703.3 670.8 L704.0 669.0 L704.8 667.1 L705.5 665.2 L706.3 663.4 L707.1 661.5 L707.9 659.6 L708.6 657.8 L709.4 655.9 L710.2 654.0 L711.0 652.2 L711.8 650.3 L712.6 648.4 L713.4 646.5 L714.2 644.7 L715.0 642.8 L715.8 640.9 L716.6 639.1 L717.4 637.2 L718.3 635.3 L719.1 633.5 L719.9 631.6 L720.8 629.7 L721.6 627.9 L722.5 626.0 L723.3 624.2 L724.2 622.3 L725.1 620.5 L726.0 618.7 L726.9 616.9 L727.9 615.1 L728.8 613.4 L729.8 611.6 L730.8 609.9 L731.9 608.2 L732.9 606.5 L734.0 604.9 L735.1 603.3 L736.3 601.7 L737.4 600.1 L738.7 598.6 L739.9 597.2 L741.2 595.7 L742.5 594.3 L743.9 593.0 L745.3 591.6 L746.7 590.4 L748.2 589.2 L749.7 588.0 L751.3 586.9 L752.9 585.8 L754.6 584.8 L756.3 583.8 L758.1 582.9 L759.9 582.1 L761.8 581.3 L763.7 580.6 L765.7 579.9 L767.6 579.3 L769.6 578.8 L771.7 578.4 L773.7 578.0 L775.7 577.8 L777.8 577.6 L779.8 577.5 L781.8 577.5 L783.9 577.5 L785.9 577.7 L787.8 577.9 L789.8 578.3 L791.7 578.8 L793.6 579.3 L795.4 580.0 L797.2 580.8 L798.9 581.6 L800.6 582.6 L802.2 583.7 L803.8 584.9 L805.3 586.1 L806.8 587.4 L808.2 588.8 L809.6 590.3 L811.0 591.8 L812.3 593.3 L813.6 594.9 L814.8 596.6 L816.0 598.2 L817.2 599.9 L818.3 601.6 L819.4 603.3 L820.5 605.1 L821.5 606.8 L822.6 608.6 L823.5 610.3 L824.5 612.1 L825.4 613.9 L826.3 615.7 L827.2 617.5 L828.0 619.3 L828.9 621.1 L829.7 623.0 L830.4 624.8 L831.2 626.7 L831.9 628.6 L832.7 630.4 L833.3 632.3 L834.0 634.2 L834.7 636.1 L835.3 638.0 L836.0 639.9 L836.6 641.8 L837.2 643.7 L837.8 645.6 L838.3 647.5 L838.9 649.4 L839.4 651.4 L840.0 653.3 L840.5 655.2 L841.0 657.1 L841.5 659.1 L842.0 661.0 L842.5 662.9 L843.0 664.9 L843.5 666.8 L844.0 668.7 L844.4 670.7 L844.9 672.6 L845.3 674.5 L845.8 676.5 L846.2 678.4 L846.6 680.4 L847.0 682.3 L847.4 684.3 L847.9 686.2 L848.3 688.2 L848.6 690.1 L849.0 692.1 L849.4 694.0 L849.8 696.0 L850.2 697.9 L850.5 699.9 L850.9 701.8 L851.3 703.8 L851.6 705.7 L852.0 707.7 L852.3 709.7 L852.7 711.6 L853.0 713.6 L853.4 715.5 L853.7 717.5 L854.1 719.5 L854.4 721.4 L854.7 723.4 L855.1 725.4 L855.4 727.3 L855.7 729.3 L856.1 731.3 L856.4 733.2 L856.7 735.2 L857.0 737.2 L857.4 739.1 L857.7 741.1 L858.0 743.1 L858.4 745.1 L858.7 747.0 L859.0 749.0 L859.3 751.0 L859.7 753.0 L860.0 754.9 L860.3 756.9 L860.7 758.9 L861.0 760.8 L861.3 762.8 L861.6 764.8 L862.0 766.8 L862.3 768.7 L862.6 770.7 L863.0 772.7 L863.3 774.7 L863.6 776.7 L864.0 778.6 L864.3 780.6 L864.6 782.6 L865.0 784.6 L865.3 786.5 L865.6 788.5 L866.0 790.5 L866.3 792.5 L866.6 794.4 L867.0 796.4 L867.3 798.4 L867.7 800.4 L868.0 802.3 L868.3 804.3 L868.7 806.3 L869.0 808.3 L869.4 810.3 L869.7 812.2 L870.1 814.2 L870.4 816.2 L870.8 818.2 L871.1 820.1 L871.5 822.1 L871.8 824.1 L872.2 826.1 L872.5 828.0 L872.9 830.0 L873.2 832.0 L873.6 834.0 L874.0 835.9 L874.3 837.9 L874.7 839.9 L875.1 841.8 L875.4 843.8 L875.8 845.8 L876.2 847.8 L876.6 849.7 L876.9 851.7 L877.3 853.7 L877.7 855.6 L878.1 857.6 L878.5 859.6 L878.8 861.5 L879.2 863.5 L879.6 865.5 L880.0 867.4 L880.4 869.4 L880.8 871.3 L881.2 873.3 L881.6 875.3 L882.0 877.2 L882.4 879.2 L882.8 881.2 L883.2 883.1 L883.7 885.1 L884.1 887.0 L884.5 889.0 L884.9 890.9 L885.3 892.9 L885.8 894.8 L886.2 896.8 L886.6 898.7 L887.1 900.7 L887.5 902.6 L887.9 904.6 L888.4 906.5 L888.8 908.5 L889.3 910.4 L889.7 912.4 L890.2 914.3 L890.7 916.3 L891.1 918.2 L891.6 920.1 L892.1 922.1 L892.5 924.0 L893.0 926.0 L893.5 927.9 L894.0 929.8 L894.4 931.8 L894.9 933.7 L895.4 935.6 L895.9 937.6 L896.4 939.5 L896.9 941.4 L897.4 943.3 L897.9 945.3 L898.4 947.2 L898.9 949.1 L899.4 951.0 L899.9 953.0 L900.5 954.9 L901.0 956.8 L901.5 958.7 L902.0 960.7 L902.6 962.6 L903.1 964.5 L903.6 966.4 L904.2 968.3 L904.7 970.2 L905.2 972.2 L905.8 974.1 L906.3 976.0 L906.9 977.9 L907.4 979.8 L908.0 981.7 L908.6 983.6 L909.1 985.6 L909.7 987.5 L910.3 989.4 L910.8 991.3 L911.4 993.2 L912.0 995.1 L912.5 997.0 L913.1 998.9 L913.7 1000.8 L914.3 1002.7 L914.9 1004.6 L915.5 1006.5 L916.1 1008.4 L916.7 1010.3 L917.3 1012.2 L917.9 1014.1 L918.5 1016.0 L919.1 1017.9 L919.7 1019.8 L920.3 1021.7 L920.9 1023.6 L921.5 1025.5 L922.1 1027.4 L922.8 1029.3 L923.4 1031.2 L924.0 1033.1 L924.6 1035.0 L925.3 1036.9 L925.9 1038.8 L926.6 1040.7 L927.2 1042.6 L927.8 1044.5 L928.5 1046.3 L929.1 1048.2 L929.8 1050.1 L930.4 1052.0 L931.1 1053.9 L931.7 1055.8 L932.4 1057.7 L933.1 1059.6 L933.7 1061.4 L934.4 1063.3 L935.1 1065.2 L935.7 1067.1 L936.4 1069.0 L937.1 1070.9 L937.8 1072.8 L938.4 1074.6 L939.1 1076.5 L939.8 1078.4 L940.5 1080.3 L941.2 1082.2 L941.9 1084.1 L942.6 1085.9 L943.3 1087.8 L944.0 1089.7 L944.7 1091.6 L945.4 1093.5 L946.1 1095.4 L946.8 1097.2 L947.5 1099.1 L948.2 1101.0 L948.9 1102.9 L949.6 1104.7 L950.4 1106.6 L951.1 1108.5 L951.8 1110.4 L952.5 1112.3 L953.3 1114.1 L954.0 1116.0 L954.7 1117.9 L955.5 1119.8 L956.2 1121.7 L956.9 1123.5 L957.7 1125.4 L958.4 1127.3 L959.2 1129.2 L959.9 1131.0 L960.7 1132.9 L961.4 1134.8 L962.2 1136.6 L963.0 1138.5 L963.7 1140.4 L964.5 1142.2 L965.3 1144.1 L966.1 1145.9 L966.9 1147.8 L967.7 1149.6 L968.5 1151.5 L969.3 1153.3 L970.2 1155.1 L971.0 1157.0 L971.8 1158.8 L972.7 1160.6 L973.6 1162.4 L974.4 1164.2 L975.3 1166.0 L976.2 1167.8 L977.1 1169.5 L978.1 1171.3 L979.0 1173.1 L979.9 1174.8 L980.9 1176.6 L981.9 1178.3 L982.8 1180.0 L983.8 1181.7 L984.9 1183.4 L985.9 1185.1 L986.9 1186.8 L988.0 1188.4 L989.1 1190.1 L990.2 1191.7 L991.3 1193.3 L992.4 1194.9 L993.6 1196.5 L994.7 1198.1 L995.9 1199.7 L997.1 1201.2 L998.3 1202.8 L999.6 1204.3 L1000.8 1205.8 L1002.1 1207.3 L1003.5 1208.7 L1004.8 1210.1 L1006.2 1211.5 L1007.6 1212.8 L1009.1 1214.1 L1010.6 1215.3 L1012.2 1216.4 L1013.8 1217.4 L1015.5 1218.4 L1017.2 1219.3 L1019.0 1220.1 L1020.8 1220.8 L1022.8 1221.4 L1024.7 1221.9 L1026.8 1222.3 L1028.8 1222.7 L1030.9 1223.1 L1033.0 1223.3 L1035.1 1223.6 L1037.3 1223.8 L1039.4 1224.0 L1041.5 1224.1 L1043.6 1224.3 L1045.7 1224.5 L1047.8 1224.6 L1049.8 1224.7 L1051.9 1224.9 L1053.9 1225.0 L1055.9 1225.1 L1057.9 1225.2 L1059.9 1225.3 L1061.9 1225.4 L1063.9 1225.5 L1065.8 1225.6 L1067.8 1225.7 L1069.7 1225.7 L1071.7 1225.8 L1073.6 1225.9 L1075.5 1225.9 L1077.4 1225.9 L1079.3 1226.0 L1081.2 1226.0 L1083.0 1226.0 L1084.9 1226.0 L1086.7 1226.0 L1088.6 1226.1 L1090.4 1226.0 L1092.2 1226.0 L1094.1 1226.0 L1095.9 1226.0 L1097.7 1226.0 L1099.5 1226.0 L1101.2 1225.9 L1103.0 1225.9 L1104.8 1225.8 L1106.6 1225.8 L1108.3 1225.7 L1110.1 1225.7 L1111.8 1225.6 L1113.5 1225.5 L1115.3 1225.5 L1117.0 1225.4 L1118.7 1225.3 L1120.4 1225.2 L1122.1 1225.2 L1123.8 1225.1 L1125.5 1225.0 L1127.2 1224.9 L1128.9 1224.8 L1130.6 1224.7 L1132.3 1224.6 L1134.0 1224.5 L1135.6 1224.3 L1137.3 1224.2 L1139.0 1224.1 L1140.6 1224.0 L1142.3 1223.9 L1144.0 1223.7 L1145.6 1223.6 L1147.3 1223.5 L1148.9 1223.4 L1150.6 1223.2 L1152.2 1223.1 L1153.9 1223.0 L1155.5 1222.8 L1157.2 1222.7 L1158.8 1222.5 L1160.4 1222.4 L1162.1 1222.3 L1163.7 1222.1 L1165.4 1222.0 L1167.0 1221.8 L1168.6 1221.7 L1170.3 1221.5 L1171.9 1221.4 L1173.6 1221.2 L1175.2 1221.1 L1176.9 1221.0 L1178.5 1220.8 L1180.2 1220.7 L1181.8 1220.5 L1183.5 1220.4 L1185.1 1220.2 L1186.8 1220.1 L1188.4 1219.9 L1190.1 1219.8 L1191.7 1219.7 L1193.4 1219.5 L1195.1 1219.4 L1196.8 1219.2 L1198.4 1219.1 L1200.1 1219.0 L1201.8 1218.8 L1203.5 1218.7 L1205.2 1218.6 L1206.9 1218.4 L1208.6 1218.3 L1210.3 1218.2 L1212.0 1218.1 L1213.7 1218.0 L1215.5 1217.8 L1217.2 1217.7 L1218.9 1217.6 L1220.7 1217.5 L1222.4 1217.4 L1224.2 1217.3 L1226.0 1217.2 L1227.7 1217.1 L1229.5 1217.0 L1231.3 1216.9 L1233.1 1216.8 L1234.9 1216.8 L1236.7 1216.7 L1238.5 1216.6 L1240.3 1216.5 L1242.2 1216.5 L1244.0 1216.4 L1245.9 1216.4 L1247.7 1216.3 L1249.6 1216.3 L1251.5 1216.2 L1253.4 1216.2 L1255.3 1216.1 L1257.2 1216.1 L1259.1 1216.1 L1261.0 1216.1 L1263.0 1216.1 L1264.9 1216.1 L1266.9 1216.1 L1268.9 1216.1 L1270.9 1216.1 L1272.9 1216.1 L1274.9 1216.1 L1276.9 1216.2 L1278.9 1216.2 L1281.0 1216.2 L1283.0 1216.3 L1285.1 1216.3 L1287.2 1216.4 L1289.3 1216.5 L1291.4 1216.5 L1293.6 1216.6 L1295.7 1216.7 L1297.9 1216.8 L1300.0 1216.9 L1302.2 1217.0 L1304.4 1217.2 L1306.6 1217.3 L1308.8 1217.4 L1311.1 1217.6 L1313.4 1217.7 L1315.6 1217.9 L1317.9 1218.1 L1320.2 1218.2 L1322.6 1218.4 L1324.9 1218.6 L1327.3 1218.8 L1329.6 1219.0 L1332.0 1219.2 L1334.4 1219.5 L1336.9 1219.7 L1339.3 1220.0 L1341.8 1220.2 L1344.2 1220.5 L1346.7 1220.8 L1349.2 1221.1 L1351.8 1221.4 L1354.3 1221.7 L1356.9 1222.0 L1359.5 1222.3 L1362.1 1222.6 L1364.7 1223.0 L1367.4 1223.4 L1370.1 1223.7 L1372.8 1224.1 L1375.5 1224.5 L1378.2 1224.9 L1380.9 1225.3 L1383.7 1225.7 L1386.5 1226.2 L1389.3 1226.6 L1392.2 1227.1 L1395.0 1227.6 L1397.9 1228.0 L1400.8 1228.5 L1403.7 1229.0 L1406.7 1229.6 L1409.7 1230.1 L1412.7 1230.6 L1415.7 1231.2 L1418.7 1231.8 L1421.8 1232.3 L1424.9 1232.9 L1428.0 1233.5 L1431.1 1234.2 L1434.3 1234.8 L1437.4 1235.4 L1440.6 1236.1 L1443.8 1236.7 L1447.1 1237.4 L1450.3 1238.1 L1453.6 1238.8 L1456.9 1239.5 L1460.2 1240.2 L1463.5 1240.9 L1466.9 1241.7 L1470.3 1242.4 L1473.6 1243.2 L1477.0 1243.9 L1480.4 1244.7 L1483.9 1245.5 L1487.3 1246.3 L1490.8 1247.1 L1494.2 1247.9 L1497.7 1248.7 L1501.2 1249.5 L1504.7 1250.3 L1508.2 1251.1 L1511.7 1252.0 L1515.3 1252.8 L1518.8 1253.6 L1522.4 1254.5 L1525.9 1255.4 L1529.5 1256.2 L1533.1 1257.1 L1536.7 1257.9 L1540.3 1258.8 L1543.9 1259.7 L1547.5 1260.6 L1551.1 1261.5 L1554.7 1262.3 L1558.4 1263.2 L1562.0 1264.1 L1565.6 1265.0 L1569.3 1265.9 L1572.9 1266.8 L1576.6 1267.7 L1580.2 1268.6 L1583.9 1269.5 L1587.5 1270.4 L1591.1 1271.3 L1594.8 1272.2 L1598.4 1273.1 L1602.1 1274.0 L1605.7 1274.9 L1609.4 1275.8 L1613.0 1276.7 L1616.7 1277.6 L1620.3 1278.5 L1623.9 1279.4 L1627.6 1280.3 L1631.2 1281.2 L1634.8 1282.1 L1638.4 1283.0 L1642.0 1283.9 L1645.6 1284.8 L1649.2 1285.6 L1652.8 1286.5 L1656.4 1287.4 L1659.9 1288.3 L1663.5 1289.1 L1667.1 1290.0 L1670.6 1290.8 L1674.1 1291.7 L1677.6 1292.5 L1681.2 1293.4 L1684.7 1294.2 L1688.1 1295.0 L1691.6 1295.8 L1695.1 1296.6 L1698.5 1297.4 L1701.9 1298.2 L1705.4 1299.0 L1708.8 1299.8 L1712.1 1300.6 L1715.5 1301.3 L1718.9 1302.1 L1722.2 1302.9 L1725.5 1303.6 L1728.8 1304.3 L1732.1 1305.0 L1735.4 1305.8 L1738.6 1306.5 L1741.8 1307.1 L1745.0 1307.8 L1748.2 1308.5 L1751.4 1309.2 L1754.5 1309.8 L1757.6 1310.4 L1760.7 1311.1 L1763.8 1311.7 L1766.9 1312.3 L1769.9 1312.9 L1772.9 1313.4 L1775.9 1314.0 L1778.8 1314.5 L1781.7 1315.1 L1784.6 1315.6 L1787.5 1316.1 L1790.4 1316.6 L1793.2 1317.1 L1796.0 1317.5 L1798.7 1318.0 L1801.4 1318.4 L1804.1 1318.9 L1806.8 1319.3 L1809.4 1319.6 L1812.1 1320.0 L1814.6 1320.4 L1817.2 1320.7 L1819.7 1321.0 L1822.2 1321.3 L1824.6 1321.6 L1827.0 1321.9 L1829.4 1322.1 L1831.7 1322.4 L1834.0 1322.6 L1836.3 1322.8 L1838.5 1322.9 L1840.7 1323.1 L1842.9 1323.2 L1845.0 1323.4 L1847.1 1323.5 L1849.1 1323.5 L1851.1 1323.6 L1853.1 1323.6 L1855.0 1323.6 L1856.9 1323.6 L1858.7 1323.6 L1860.5 1323.6 L1862.3 1323.5 L1864.0 1323.4 L1865.7 1323.3 L1867.3 1323.1 L1868.9 1323.0 L1870.5 1322.8 L1871.9 1322.6 L1873.4 1322.3 L1874.8 1322.1 L1876.2 1321.8 L1877.5 1321.5 L1878.7 1321.2 L1880.0 1320.8 L1881.1 1320.4 L1882.2 1320.0 L1883.3 1319.6 L1884.3 1319.1 L1885.3 1318.7 L1886.2 1318.2 L1887.1 1317.6 L1887.9 1317.1 L1888.7 1316.5 L1889.4 1315.8 L1890.0 1315.2 L1890.7 1314.5 L1891.2 1313.8 L1891.7 1313.1 L1892.1 1312.3 L1892.5 1311.5 L1892.9 1310.7 L1893.1 1309.9 L1893.4 1309.0 L1893.5 1308.1 L1893.6 1307.2 L1893.7 1306.2 L1893.7 1305.2 L1893.6 1304.2 L1893.5 1303.1 L1893.3 1302.0 L1893.0 1300.9 L1892.7 1299.7 L1892.3 1298.5 L1891.9 1297.3 L1891.4 1296.1 L1890.8 1294.8 L1890.2 1293.5 L1889.5 1292.1 L1888.8 1290.7 L1887.9 1289.3 L1887.0 1287.8 L1886.1 1286.4 L1885.1 1284.8 L1884.0 1283.3 L1882.8 1281.7 L1881.6 1280.0 L1880.3 1278.4 L1879.0 1276.7 L1877.6 1274.9 L1876.1 1273.2 L1874.5 1271.4 L1872.9 1269.5 L1871.2 1267.6 L1869.4 1265.7 L1867.5 1263.7 L1865.6 1261.7 L1863.6 1259.7 L1861.6 1257.6 L1859.4 1255.5 L1857.2 1253.4 L1854.9 1251.2 L1852.6 1248.9 L1850.1 1246.7 L1847.6 1244.4 L1845.0 1242.0" stroke="#0000FF"/>
<path d="M320.1 1262.1 L320.7 1260.2 L321.4 1258.2 L322.1 1256.3 L322.9 1254.4 L323.7 1252.6 L324.5 1250.8 L325.4 1249.0 L326.4 1247.2 L327.3 1245.4 L328.3 1243.7 L329.3 1242.0 L330.4 1240.3 L331.5 1238.6 L332.6 1237.0 L333.7 1235.3 L334.9 1233.7 L336.0 1232.1 L337.2 1230.5 L338.4 1228.9 L339.6 1227.3 L340.9 1225.7 L342.1 1224.1 L343.3 1222.5 L344.6 1220.9 L345.8 1219.4 L347.1 1217.8 L348.3 1216.2 L349.5 1214.6 L350.8 1213.1 L352.0 1211.5 L353.2 1209.9 L354.4 1208.3 L355.6 1206.7 L356.7 1205.1 L357.9 1203.4 L359.0 1201.8 L360.1 1200.1 L361.2 1198.4 L362.2 1196.7 L363.2 1195.0 L364.2 1193.3 L365.2 1191.6 L366.1 1189.8 L367.0 1188.0 L367.9 1186.2 L368.8 1184.4 L369.6 1182.6 L370.5 1180.8 L371.3 1179.0 L372.1 1177.1 L372.9 1175.3 L373.6 1173.4 L374.4 1171.5 L375.2 1169.6 L375.9 1167.8 L376.6 1165.9 L377.4 1164.0 L378.1 1162.1 L378.8 1160.2 L379.5 1158.3 L380.2 1156.4 L380.9 1154.5 L381.7 1152.6 L382.4 1150.7 L383.1 1148.8 L383.8 1146.8 L384.6 1145.0 L385.3 1143.1 L386.1 1141.2 L386.8 1139.3 L387.6 1137.4 L388.4 1135.5 L389.2 1133.7 L390.0 1131.8 L390.8 1130.0 L391.7 1128.1 L392.6 1126.3 L393.4 1124.5 L394.4 1122.7 L395.3 1120.9 L396.3 1119.1 L397.2 1117.4 L398.2 1115.7 L399.3 1114.0 L400.4 1112.3 L401.4 1110.7 L402.6 1109.1 L403.7 1107.6 L404.9 1106.0 L406.2 1104.6 L407.4 1103.1 L408.7 1101.8 L410.0 1100.4 L411.4 1099.2 L412.8 1097.9 L414.3 1096.8 L415.8 1095.7 L417.3 1094.7 L418.9 1093.7 L420.5 1092.8 L422.2 1092.0 L423.9 1091.2 L425.7 1090.6 L427.5 1090.0 L429.3 1089.5 L431.2 1089.0 L433.2 1088.6 L435.2 1088.2 L437.1 1087.9 L439.2 1087.6 L441.2 1087.4 L443.3 1087.1 L445.3 1086.8 L447.4 1086.6 L449.5 1086.3 L451.5 1086.0 L453.6 1085.8 L455.7 1085.5 L457.8 1085.1 L459.8 1084.8 L461.9 1084.5 L463.9 1084.1 L466.0 1083.7 L468.0 1083.3 L470.0 1082.8 L472.0 1082.3 L473.9 1081.8 L475.9 1081.2 L477.8 1080.6 L479.7 1079.9 L481.5 1079.2 L483.4 1078.5 L485.2 1077.7 L486.9 1076.9 L488.7 1076.0 L490.4 1075.2 L492.1 1074.2 L493.8 1073.3 L495.5 1072.2 L497.1 1071.2 L498.7 1070.1 L500.3 1069.0 L501.8 1067.9 L503.4 1066.7 L504.9 1065.5 L506.4 1064.3 L507.9 1063.0 L509.3 1061.7 L510.8 1060.4 L512.2 1059.1 L513.6 1057.7 L514.9 1056.3 L516.3 1054.9 L517.6 1053.4 L518.9 1051.9 L520.2 1050.4 L521.5 1048.9 L522.7 1047.4 L524.0 1045.8 L525.2 1044.2 L526.4 1042.6 L527.6 1041.0 L528.8 1039.4 L529.9 1037.7 L531.1 1036.0 L532.2 1034.3 L533.3 1032.6 L534.4 1030.9 L535.5 1029.2 L536.6 1027.4 L537.6 1025.7 L538.7 1023.9 L539.7 1022.1 L540.7 1020.4 L541.7 1018.6 L542.7 1016.8 L543.7 1014.9 L544.6 1013.1 L545.6 1011.3 L546.5 1009.5 L547.5 1007.6 L548.4 1005.8 L549.3 1004.0 L550.2 1002.1 L551.1 1000.3 L552.0 998.4 L552.9 996.6 L553.8 994.7 L554.6 992.9 L555.5 991.0 L556.3 989.2 L557.2 987.4 L558.0 985.5 L558.8 983.7 L559.6 981.8 L560.4 980.0 L561.2 978.1 L562.0 976.3 L562.8 974.4 L563.6 972.5 L564.3 970.7 L565.1 968.8 L565.9 967.0 L566.6 965.1 L567.3 963.3 L568.1 961.4 L568.8 959.6 L569.5 957.7 L570.2 955.8 L571.0 954.0 L571.7 952.1 L572.4 950.3 L573.1 948.4 L573.7 946.5 L574.4 944.7 L575.1 942.8 L575.8 940.9 L576.4 939.1 L577.1 937.2 L577.7 935.3 L578.4 933.5 L579.0 931.6 L579.7 929.7 L580.3 927.8 L580.9 926.0 L581.6 924.1 L582.2 922.2 L582.8 920.3 L583.4 918.4 L584.0 916.6 L584.6 914.7 L585.2 912.8 L585.8 910.9 L586.4 909.0 L587.0 907.1 L587.6 905.2 L588.2 903.4 L588.8 901.5 L589.4 899.6 L589.9 897.7 L590.5 895.8 L591.1 893.9 L591.7 892.0 L592.2 890.1 L592.8 888.2 L593.4 886.3 L593.9 884.4 L594.5 882.5 L595.0 880.6 L595.6 878.6 L596.1 876.7 L596.7 874.8 L597.2 872.9 L597.7 871.0 L598.3 869.1 L598.8 867.2 L599.3 865.2 L599.9 863.3 L600.4 861.4 L600.9 859.5 L601.4 857.6 L602.0 855.6 L602.5 853.7 L603.0 851.8 L603.5 849.9 L604.0 847.9 L604.5 846.0 L605.0 844.1 L605.5 842.2 L606.0 840.2 L606.5 838.3 L607.0 836.4 L607.5 834.4 L608.0 832.5 L608.5 830.5 L609.0 828.6 L609.5 826.7 L610.0 824.7 L610.5 822.8 L610.9 820.9 L611.4 818.9 L611.9 817.0 L612.4 815.0 L612.8 813.1 L613.3 811.1 L613.8 809.2 L614.2 807.2 L614.7 805.3 L615.2 803.3 L615.6 801.4 L616.1 799.5 L616.6 797.5 L617.0 795.6 L617.5 793.6 L617.9 791.6 L618.4 789.7 L618.8 787.7 L619.3 785.8 L619.7 783.8 L620.2 781.9 L620.6 779.9 L621.0 778.0 L621.5 776.0 L621.9 774.1 L622.4 772.1 L622.8 770.1 L623.2 768.2 L623.7 766.2 L624.1 764.3 L624.5 762.3 L625.0 760.3 L625.4 758.4 L625.8 756.4 L626.3 754.5 L626.7 752.5 L627.1 750.5 L627.5 748.6 L627.9 746.6 L628.4 744.6 L628.8 742.7 L629.2 740.7 L629.6 738.8 L630.0 736.8 L630.5 734.8 L630.9 732.9 L631.3 730.9 L631.7 728.9 L632.1 727.0 L632.5 725.0 L632.9 723.0 L633.3 721.1 L633.7 719.1 L634.2 717.1 L634.6 715.2 L635.0 713.2 L635.4 711.3 L635.8 709.3 L636.2 707.3 L636.6 705.4 L637.0 703.4 L637.4 701.4 L637.8 699.5 L638.2 697.5 L638.6 695.5 L639.0 693.6 L639.4 691.6 L639.8 689.6 L640.2 687.7 L640.6 685.7 L641.0 683.7 L641.4 681.8 L641.8 679.8 L642.2 677.8 L642.6 675.9 L643.0 673.9 L643.3 672.0 L643.7 670.0 L644.1 668.0 L644.5 666.1 L644.9 664.1 L645.3 662.1 L645.7 660.2 L646.1 658.2 L646.5 656.3 L646.9 654.3 L647.3 652.3 L647.7 650.4 L648.1 648.4 L648.5 646.5 L648.9 644.5 L649.3 642.5 L649.6 640.6 L650.0 638.6 L650.4 636.7 L650.8 634.7 L651.2 632.8 L651.6 630.8 L652.0 628.8 L652.4 626.9 L652.8 624.9 L653.2 623.0 L653.6 621.0 L654.0 619.1 L654.4 617.1 L654.8 615.2 L655.2 613.2 L655.6 611.3 L656.0 609.3 L656.4 607.4 L656.8 605.4 L657.2 603.5 L657.6 601.5 L658.0 599.6 L658.4 597.6 L658.8 595.7 L659.2 593.7 L659.6 591.8 L660.0 589.8 L660.4 587.9 L660.9 586.0 L661.3 584.0 L661.7 582.1 L662.1 580.1 L662.5 578.2 L663.0 576.2 L663.4 574.3 L663.8 572.3 L664.2 570.4 L664.7 568.5 L665.1 566.5 L665.6 564.6 L666.0 562.6 L666.4 560.7 L666.9 558.7 L667.3 556.8 L667.8 554.8 L668.2 552.9 L668.7 551.0 L669.1 549.0 L669.6 547.1 L670.1 545.1 L670.5 543.2 L671.0 541.3 L671.5 539.3 L671.9 537.4 L672.4 535.4 L672.9 533.5 L673.4 531.5 L673.9 529.6 L674.3 527.7 L674.8 525.7 L675.3 523.8 L675.8 521.8 L676.3 519.9 L676.9 518.0 L677.4 516.0 L677.9 514.1 L678.4 512.1 L678.9 510.2 L679.4 508.2 L680.0 506.3 L680.5 504.4 L681.0 502.4 L681.5 500.5 L682.1 498.5 L682.6 496.6 L683.2 494.7 L683.7 492.7 L684.2 490.8 L684.8 488.8 L685.3 486.9 L685.9 485.0 L686.4 483.0 L687.0 481.1 L687.5 479.2 L688.1 477.2 L688.6 475.3 L689.2 473.4 L689.7 471.4 L690.3 469.5 L690.8 467.6 L691.4 465.6 L691.9 463.7 L692.5 461.8 L693.0 459.8 L693.6 457.9 L694.2 456.0 L694.7 454.1 L695.3 452.1 L695.8 450.2 L696.4 448.3 L696.9 446.4 L697.4 444.4 L698.0 442.5 L698.5 440.6 L699.1 438.7 L699.6 436.8 L700.2 434.8 L700.7 432.9 L701.2 431.0 L701.8 429.1 L702.3 427.2 L702.8 425.3 L703.4 423.4 L703.9 421.5 L704.4 419.6 L704.9 417.7 L705.5 415.8 L706.0 413.8 L706.5 411.9 L707.1 410.0 L707.6 408.1 L708.1 406.2 L708.7 404.4 L709.2 402.5 L709.8 400.6 L710.3 398.7 L710.9 396.8 L711.4 394.9 L712.0 393.0 L712.6 391.1 L713.1 389.2 L713.7 387.3 L714.3 385.4 L714.9 383.5 L715.5 381.7 L716.1 379.8 L716.7 377.9 L717.4 376.0 L718.0 374.1 L718.7 372.2 L719.3 370.4 L720.0 368.5 L720.7 366.6 L721.4 364.7 L722.1 362.8 L722.8 361.0 L723.5 359.1 L724.3 357.2 L725.0 355.3 L725.8 353.4 L726.6 351.6 L727.4 349.7 L728.2 347.8 L729.0 345.9 L729.8 344.1 L730.7 342.2 L731.6 340.3 L732.5 338.5 L733.4 336.6 L734.3 334.7 L735.3 332.8 L736.2 331.0 L737.2 329.1 L738.2 327.3 L739.3 325.5 L740.4 323.7 L741.5 322.0 L742.6 320.3 L743.8 318.6 L745.0 316.9 L746.2 315.3 L747.5 313.8 L748.9 312.3 L750.2 310.9 L751.7 309.5 L753.1 308.2 L754.6 307.0 L756.2 305.8 L757.8 304.7 L759.5 303.7 L761.2 302.8 L763.0 302.0 L764.8 301.3 L766.6 300.6 L768.5 300.1 L770.4 299.7 L772.3 299.4 L774.2 299.2 L776.1 299.1 L778.0 299.2 L779.9 299.4 L781.8 299.7 L783.7 300.1 L785.6 300.6 L787.4 301.3 L789.3 302.0 L791.0 302.8 L792.8 303.7 L794.5 304.7 L796.1 305.7 L797.7 306.8 L799.3 308.0 L800.8 309.2 L802.2 310.5 L803.6 311.8 L804.9 313.2 L806.1 314.6 L807.4 316.1 L808.5 317.6 L809.7 319.2 L810.7 320.8 L811.8 322.4 L812.8 324.1 L813.7 325.9 L814.6 327.6 L815.5 329.4 L816.4 331.2 L817.2 333.1 L818.0 334.9 L818.7 336.8 L819.4 338.8 L820.1 340.7 L820.8 342.7 L821.5 344.6 L822.1 346.6 L822.7 348.6 L823.3 350.7 L823.9 352.7 L824.4 354.7 L825.0 356.7 L825.5 358.8 L826.0 360.8 L826.6 362.9 L827.1 364.9 L827.6 367.0 L828.1 369.0 L828.6 371.0 L829.1 373.0 L829.6 375.0 L830.1 377.0 L830.6 379.0 L831.2 381.0 L831.7 382.9 L832.2 384.9 L832.7 386.8 L833.2 388.8 L833.7 390.7 L834.2 392.6 L834.7 394.6 L835.3 396.5 L835.8 398.4 L836.3 400.3 L836.8 402.2 L837.2 404.1 L837.7 406.0 L838.2 407.9 L838.7 409.8 L839.2 411.7 L839.6 413.6 L840.1 415.5 L840.6 417.4 L841.0 419.3 L841.5 421.2 L841.9 423.1 L842.3 425.0 L842.8 426.9 L843.2 428.8 L843.6 430.7 L844.0 432.6 L844.4 434.5 L844.7 436.5 L845.1 438.4 L845.5 440.3 L845.8 442.3 L846.2 444.2 L846.5 446.2 L846.9 448.1 L847.2 450.1 L847.5 452.0 L847.9 454.0 L848.2 456.0 L848.5 457.9 L848.8 459.9 L849.1 461.9 L849.4 463.8 L849.7 465.8 L850.0 467.8 L850.2 469.8 L850.5 471.8 L850.8 473.7 L851.1 475.7 L851.3 477.7 L851.6 479.7 L851.9 481.7 L852.1 483.7 L852.4 485.7 L852.6 487.7 L852.9 489.7 L853.1 491.7 L853.4 493.7 L853.6 495.7 L853.9 497.7 L854.1 499.7 L854.4 501.7 L854.6 503.7 L854.9 505.7 L855.1 507.7 L855.4 509.7 L855.6 511.7 L855.8 513.7 L856.1 515.7 L856.3 517.7 L856.6 519.7 L856.8 521.7 L857.1 523.7 L857.4 525.7 L857.6 527.7 L857.9 529.7 L858.1 531.7 L858.4 533.7 L858.7 535.7 L858.9 537.7 L859.2 539.7 L859.5 541.6 L859.8 543.6 L860.1 545.6 L860.3 547.6 L860.6 549.6 L860.9 551.6 L861.2 553.5 L861.5 555.5 L861.8 557.5 L862.1 559.5 L862.4 561.5 L862.7 563.4 L863.0 565.4 L863.4 567.4 L863.7 569.3 L864.0 571.3 L864.3 573.3 L864.6 575.3 L864.9 577.2 L865.3 579.2 L865.6 581.2 L865.9 583.1 L866.2 585.1 L866.6 587.1 L866.9 589.0 L867.2 591.0 L867.5 593.0 L867.9 594.9 L868.2 596.9 L868.5 598.8 L868.9 600.8 L869.2 602.8 L869.5 604.7 L869.9 606.7 L870.2 608.7 L870.5 610.6 L870.8 612.6 L871.2 614.5 L871.5 616.5 L871.8 618.5 L872.2 620.4 L872.5 622.4 L872.8 624.3 L873.1 626.3 L873.5 628.3 L873.8 630.2 L874.1 632.2 L874.4 634.2 L874.8 636.1 L875.1 638.1 L875.4 640.1 L875.7 642.0 L876.0 644.0 L876.3 646.0 L876.6 647.9 L876.9 649.9 L877.2 651.9 L877.6 653.8 L877.9 655.8 L878.1 657.8 L878.4 659.8 L878.7 661.7 L879.0 663.7 L879.3 665.7 L879.6 667.7 L879.9 669.6 L880.2 671.6 L880.5 673.6 L880.7 675.6 L881.0 677.6 L881.3 679.5 L881.6 681.5 L881.9 683.5 L882.1 685.5 L882.4 687.5 L882.7 689.4 L883.0 691.4 L883.2 693.4 L883.5 695.4 L883.8 697.4 L884.0 699.4 L884.3 701.3 L884.6 703.3 L884.9 705.3 L885.1 707.3 L885.4 709.3 L885.7 711.3 L885.9 713.3 L886.2 715.2 L886.5 717.2 L886.8 719.2 L887.0 721.2 L887.3 723.2 L887.6 725.2 L887.9 727.2 L888.1 729.1 L888.4 731.1 L888.7 733.1 L889.0 735.1 L889.2 737.1 L889.5 739.1 L889.8 741.1 L890.1 743.0 L890.4 745.0 L890.7 747.0 L891.0 749.0 L891.3 751.0 L891.5 753.0 L891.8 754.9 L892.1 756.9 L892.4 758.9 L892.7 760.9 L893.1 762.9 L893.4 764.8 L893.7 766.8 L894.0 768.8 L894.3 770.8 L894.6 772.7 L894.9 774.7 L895.3 776.7 L895.6 778.7 L895.9 780.6 L896.2 782.6 L896.6 784.6 L896.9 786.6 L897.2 788.5 L897.6 790.5 L897.9 792.5 L898.3 794.5 L898.6 796.4 L899.0 798.4 L899.3 800.4 L899.7 802.3 L900.0 804.3 L900.4 806.3 L900.7 808.2 L901.1 810.2 L901.5 812.2 L901.8 814.1 L902.2 816.1 L902.6 818.1 L903.0 820.0 L903.3 822.0 L903.7 824.0 L904.1 825.9 L904.5 827.9 L904.8 829.8 L905.2 831.8 L905.6 833.8 L906.0 835.7 L906.4 837.7 L906.8 839.6 L907.2 841.6 L907.6 843.6 L908.0 845.5 L908.4 847.5 L908.8 849.4 L909.2 851.4 L909.6 853.3 L910.0 855.3 L910.4 857.3 L910.8 859.2 L911.3 861.2 L911.7 863.1 L912.1 865.1 L912.5 867.0 L912.9 869.0 L913.4 870.9 L913.8 872.9 L914.2 874.8 L914.7 876.8 L915.1 878.7 L915.5 880.7 L916.0 882.6 L916.4 884.6 L916.8 886.5 L917.3 888.5 L917.7 890.4 L918.2 892.4 L918.6 894.3 L919.0 896.3 L919.5 898.2 L919.9 900.2 L920.4 902.1 L920.9 904.1 L921.3 906.0 L921.8 907.9 L922.2 909.9 L922.7 911.8 L923.1 913.8 L923.6 915.7 L924.1 917.7 L924.5 919.6 L925.0 921.5 L925.5 923.5 L925.9 925.4 L926.4 927.4 L926.9 929.3 L927.4 931.2 L927.8 933.2 L928.3 935.1 L928.8 937.1 L929.3 939.0 L929.8 940.9 L930.2 942.9 L930.7 944.8 L931.2 946.8 L931.7 948.7 L932.2 950.6 L932.7 952.6 L933.2 954.5 L933.7 956.4 L934.2 958.4 L934.7 960.3 L935.2 962.2 L935.7 964.2 L936.2 966.1 L936.7 968.1 L937.2 970.0 L937.7 971.9 L938.2 973.9 L938.7 975.8 L939.2 977.7 L939.7 979.7 L940.2 981.6 L940.7 983.5 L941.2 985.5 L941.7 987.4 L942.2 989.3 L942.7 991.2 L943.3 993.2 L943.8 995.1 L944.3 997.0 L944.8 999.0 L945.3 1000.9 L945.9 1002.8 L946.4 1004.8 L946.9 1006.7 L947.4 1008.6 L947.9 1010.5 L948.5 1012.5 L949.0 1014.4 L949.5 1016.3 L950.0 1018.3 L950.6 1020.2 L951.1 1022.1 L951.6 1024.0 L952.2 1026.0 L952.7 1027.9 L953.2 1029.8 L953.8 1031.7 L954.3 1033.7 L954.8 1035.6 L955.4 1037.5 L955.9 1039.5 L956.4 1041.4 L957.0 1043.3 L957.5 1045.2 L958.1 1047.2 L958.6 1049.1 L959.1 1051.0 L959.7 1052.9 L960.2 1054.9 L960.8 1056.8 L961.3 1058.7 L961.9 1060.6 L962.4 1062.6 L962.9 1064.5 L963.5 1066.4 L964.0 1068.3 L964.6 1070.2 L965.1 1072.2 L965.7 1074.1 L966.2 1076.0 L966.8 1077.9 L967.3 1079.9 L967.9 1081.8 L968.4 1083.7 L969.0 1085.6 L969.5 1087.5 L970.1 1089.5 L970.6 1091.4 L971.2 1093.3 L971.7 1095.2 L972.3 1097.2 L972.8 1099.1 L973.4 1101.0 L974.0 1102.9 L974.5 1104.8 L975.1 1106.8 L975.6 1108.7 L976.2 1110.6 L976.7 1112.5 L977.3 1114.5 L977.8 1116.4 L978.4 1118.3 L979.0 1120.2 L979.5 1122.1 L980.1 1124.1 L980.6 1126.0 L981.2 1127.9 L981.7 1129.8 L982.3 1131.7 L982.9 1133.7 L983.4 1135.6 L984.0 1137.5 L984.6 1139.4 L985.2 1141.3 L985.8 1143.2 L986.4 1145.1 L987.0 1147.0 L987.6 1148.9 L988.2 1150.8 L988.9 1152.7 L989.5 1154.6 L990.2 1156.5 L990.8 1158.4 L991.5 1160.3 L992.2 1162.2 L992.9 1164.1 L993.7 1166.0 L994.4 1167.8 L995.2 1169.7 L996.0 1171.6 L996.8 1173.4 L997.6 1175.3 L998.4 1177.1 L999.3 1179.0 L1000.1 1180.8 L1001.0 1182.6 L1002.0 1184.5 L1002.9 1186.3 L1003.9 1188.1 L1004.9 1189.8 L1005.9 1191.6 L1007.0 1193.3 L1008.0 1195.0 L1009.2 1196.7 L1010.3 1198.3 L1011.5 1199.9 L1012.7 1201.5 L1014.0 1203.0 L1015.3 1204.5 L1016.6 1205.9 L1018.0 1207.3 L1019.4 1208.6 L1020.8 1209.9 L1022.3 1211.1 L1023.8 1212.2 L1025.4 1213.2 L1027.1 1214.2 L1028.7 1215.2 L1030.4 1216.0 L1032.2 1216.8 L1034.0 1217.6 L1035.8 1218.3 L1037.7 1218.9 L1039.5 1219.5 L1041.4 1220.1 L1043.4 1220.6 L1045.3 1221.1 L1047.3 1221.6 L1049.3 1222.0 L1051.3 1222.4 L1053.3 1222.8 L1055.3 1223.1 L1057.3 1223.4 L1059.3 1223.8 L1061.3 1224.1 L1063.3 1224.4 L1065.4 1224.7 L1067.4 1225.0 L1069.4 1225.3 L1071.4 1225.5 L1073.4 1225.8 L1075.4 1226.1 L1077.4 1226.3 L1079.5 1226.6 L1081.5 1226.8 L1083.5 1227.0 L1085.5 1227.2 L1087.5 1227.4 L1089.5 1227.7 L1091.5 1227.9 L1093.5 1228.0 L1095.5 1228.2 L1097.5 1228.4 L1099.5 1228.6 L1101.5 1228.8 L1103.5 1228.9 L1105.5 1229.1 L1107.6 1229.2 L1109.6 1229.4 L1111.6 1229.5 L1113.6 1229.6 L1115.6 1229.8 L1117.6 1229.9 L1119.6 1230.0 L1121.6 1230.1 L1123.6 1230.2 L1125.6 1230.3 L1127.6 1230.4 L1129.6 1230.5 L1131.6 1230.6 L1133.6 1230.7 L1135.6 1230.8 L1137.5 1230.9 L1139.5 1230.9 L1141.5 1231.0 L1143.5 1231.1 L1145.5 1231.1 L1147.5 1231.2 L1149.5 1231.3 L1151.5 1231.3 L1153.5 1231.4 L1155.5 1231.4 L1157.5 1231.5 L1159.5 1231.5 L1161.5 1231.6 L1163.5 1231.6 L1165.5 1231.6 L1167.5 1231.7 L1169.5 1231.7 L1171.5 1231.7 L1173.5 1231.8 L1175.5 1231.8 L1177.5 1231.8 L1179.4 1231.9 L1181.4 1231.9 L1183.4 1231.9 L1185.4 1232.0 L1187.4 1232.0 L1189.4 1232.0 L1191.4 1232.0 L1193.4 1232.1 L1195.4 1232.1 L1197.4 1232.1 L1199.4 1232.1 L1201.4 1232.2 L1203.4 1232.2 L1205.4 1232.2 L1207.4 1232.3 L1209.3 1232.3 L1211.3 1232.3 L1213.3 1232.3 L1215.3 1232.4 L1217.3 1232.4 L1219.3 1232.4 L1221.3 1232.5 L1223.3 1232.5 L1225.3 1232.5 L1227.3 1232.6 L1229.3 1232.6 L1231.3 1232.6 L1233.3 1232.7 L1235.3 1232.7 L1237.3 1232.8 L1239.3 1232.8 L1241.3 1232.8 L1243.3 1232.9 L1245.3 1232.9 L1247.2 1232.9 L1249.2 1233.0 L1251.2 1233.0 L1253.2 1233.1 L1255.2 1233.1 L1257.2 1233.1 L1259.2 1233.2 L1261.2 1233.2 L1263.2 1233.3 L1265.2 1233.3 L1267.2 1233.3 L1269.2 1233.4 L1271.2 1233.4 L1273.2 1233.5 L1275.2 1233.5 L1277.2 1233.6 L1279.2 1233.6 L1281.2 1233.7 L1283.2 1233.7 L1285.2 1233.7 L1287.2 1233.8 L1289.2 1233.8 L1291.2 1233.9 L1293.2 1233.9 L1295.2 1234.0 L1297.2 1234.0 L1299.1 1234.1 L1301.1 1234.1 L1303.1 1234.2 L1305.1 1234.2 L1307.1 1234.3 L1309.1 1234.3 L1311.1 1234.4 L1313.1 1234.4 L1315.1 1234.5 L1317.1 1234.5 L1319.1 1234.6 L1321.1 1234.6 L1323.1 1234.7 L1325.1 1234.7 L1327.1 1234.8 L1329.1 1234.8 L1331.1 1234.9 L1333.1 1234.9 L1335.1 1235.0 L1337.1 1235.0 L1339.1 1235.1 L1341.1 1235.1 L1343.1 1235.2 L1345.1 1235.2 L1347.1 1235.3 L1349.1 1235.4 L1351.1 1235.4 L1353.1 1235.5 L1355.1 1235.5 L1357.1 1235.6 L1359.1 1235.6 L1361.1 1235.7 L1363.1 1235.7 L1365.1 1235.8 L1367.1 1235.9 L1369.1 1235.9 L1371.1 1236.0 L1373.1 1236.0 L1375.1 1236.1 L1377.1 1236.1 L1379.1 1236.2 L1381.1 1236.2 L1383.1 1236.3 L1385.1 1236.4 L1387.1 1236.4 L1389.1 1236.5 L1391.1 1236.5 L1393.1 1236.6 L1395.1 1236.6 L1397.1 1236.7 L1399.1 1236.8 L1401.1 1236.8 L1403.1 1236.9 L1405.1 1236.9 L1407.0 1237.0 L1409.0 1237.0 L1411.0 1237.1 L1413.0 1237.2 L1415.0 1237.2 L1417.0 1237.3 L1419.0 1237.3 L1421.0 1237.4 L1423.0 1237.5 L1425.0 1237.5 L1427.0 1237.6 L1429.0 1237.6 L1431.0 1237.7 L1433.0 1237.7 L1435.0 1237.8 L1437.0 1237.9 L1439.0 1237.9 L1441.0 1238.0 L1443.0 1238.0 L1445.0 1238.1 L1447.0 1238.2 L1449.0 1238.2 L1451.0 1238.3 L1453.0 1238.3 L1455.0 1238.4 L1457.0 1238.4 L1459.0 1238.5 L1461.0 1238.6 L1463.0 1238.6 L1465.0 1238.7 L1467.0 1238.7 L1469.0 1238.8 L1471.0 1238.8 L1473.0 1238.9 L1475.0 1239.0 L1477.0 1239.0 L1479.0 1239.1 L1481.0 1239.1 L1483.0 1239.2 L1485.0 1239.3 L1487.0 1239.3 L1489.0 1239.4 L1491.0 1239.4 L1493.0 1239.5 L1495.0 1239.5 L1497.0 1239.6 L1499.0 1239.6 L1501.0 1239.7 L1503.0 1239.8 L1505.0 1239.8 L1507.0 1239.9 L1509.0 1239.9 L1511.0 1240.0 L1513.0 1240.0 L1515.0 1240.1 L1517.0 1240.1 L1519.0 1240.2 L1521.0 1240.3 L1523.0 1240.3 L1525.0 1240.4 L1527.1 1240.4 L1529.1 1240.5 L1531.1 1240.5 L1533.1 1240.6 L1535.1 1240.6 L1537.1 1240.7 L1539.1 1240.7 L1541.1 1240.8 L1543.1 1240.8 L1545.1 1240.9 L1547.1 1240.9 L1549.1 1241.0 L1551.1 1241.1 L1553.1 1241.1 L1555.1 1241.2 L1557.1 1241.2 L1559.1 1241.3 L1561.1 1241.3 L1563.1 1241.4 L1565.1 1241.4 L1567.1 1241.5 L1569.1 1241.5 L1571.1 1241.6 L1573.1 1241.6 L1575.1 1241.6 L1577.1 1241.7 L1579.1 1241.7 L1581.1 1241.8 L1583.1 1241.8 L1585.1 1241.9 L1587.1 1241.9 L1589.1 1242.0 L1591.1 1242.0 L1593.1 1242.1 L1595.1 1242.1 L1597.1 1242.2 L1599.1 1242.2 L1601.1 1242.2 L1603.1 1242.3 L1605.1 1242.3 L1607.1 1242.4 L1609.1 1242.4 L1611.1 1242.5 L1613.1 1242.5 L1615.1 1242.5 L1617.1 1242.6 L1619.1 1242.6 L1621.1 1242.7 L1623.1 1242.7 L1625.1 1242.7 L1627.1 1242.8 L1629.1 1242.8 L1631.1 1242.9 L1633.1 1242.9 L1635.1 1242.9 L1637.1 1243.0 L1639.1 1243.0 L1641.1 1243.0 L1643.1 1243.1 L1645.1 1243.1 L1647.1 1243.1 L1649.1 1243.2 L1651.1 1243.2 L1653.1 1243.2 L1655.1 1243.3 L1657.1 1243.3 L1659.1 1243.3 L1661.1 1243.4 L1663.1 1243.4 L1665.1 1243.4 L1667.1 1243.5 L1669.1 1243.5 L1671.1 1243.5 L1673.1 1243.6 L1675.1 1243.6 L1677.1 1243.6 L1679.1 1243.6 L1681.1 1243.7 L1683.1 1243.7 L1685.1 1243.7 L1687.1 1243.7 L1689.1 1243.8 L1691.1 1243.8 L1693.1 1243.8 L1695.1 1243.8 L1697.1 1243.9 L1699.1 1243.9 L1701.1 1243.9 L1703.1 1243.9 L1705.1 1243.9 L1707.1 1244.0 L1709.1 1244.0 L1711.1 1244.0 L1713.1 1244.0 L1715.1 1244.0 L1717.1 1244.0 L1719.1 1244.1 L1721.1 1244.1 L1723.1 1244.1 L1725.1 1244.1 L1727.1 1244.1 L1729.1 1244.1 L1731.1 1244.1 L1733.1 1244.1 L1735.1 1244.2 L1737.1 1244.2 L1739.1 1244.2 L1741.1 1244.2 L1743.1 1244.2 L1745.1 1244.2 L1747.1 1244.2 L1749.1 1244.2 L1751.1 1244.2 L1753.1 1244.2 L1755.1 1244.2 L1757.1 1244.2 L1759.1 1244.2 L1761.1 1244.2 L1763.1 1244.2 L1765.1 1244.2 L1767.1 1244.2 L1769.1 1244.2 L1771.1 1244.2 L1773.1 1244.2 L1775.1 1244.2 L1777.1 1244.2 L1779.1 1244.2 L1781.0 1244.2 L1783.0 1244.2 L1785.0 1244.2 L1787.0 1244.2 L1789.0 1244.2 L1791.0 1244.2 L1793.0 1244.2 L1795.0 1244.1 L1797.0 1244.1 L1799.0 1244.1 L1801.0 1244.1 L1803.0 1244.1 L1805.0 1244.1 L1807.0 1244.1 L1809.0 1244.0 L1811.0 1244.0 L1813.0 1244.0 L1815.0 1244.0 L1817.0 1244.0 L1819.0 1244.0 L1821.0 1243.9 L1823.0 1243.9 L1825.0 1243.9 L1827.0 1243.9 L1829.0 1243.8 L1831.0 1243.8 L1833.0 1243.8 L1835.0 1243.8 L1837.0 1243.7 L1839.0 1243.7 L1841.0 1243.7 L1843.0 1243.6 L1845.0 1243.6" stroke="#00FFFF"/>
<path d="M301.1 1262.5 L301.5 1260.2 L302.0 1258.1 L302.6 1256.0 L303.2 1253.9 L303.8 1251.9 L304.6 1249.9 L305.3 1248.0 L306.1 1246.1 L307.0 1244.3 L307.9 1242.5 L308.8 1240.7 L309.8 1239.0 L310.9 1237.3 L311.9 1235.7 L313.0 1234.0 L314.2 1232.4 L315.3 1230.9 L316.5 1229.4 L317.7 1227.8 L319.0 1226.4 L320.3 1224.9 L321.6 1223.5 L322.9 1222.0 L324.3 1220.6 L325.6 1219.2 L327.0 1217.9 L328.4 1216.5 L329.8 1215.1 L331.2 1213.8 L332.7 1212.5 L334.1 1211.1 L335.6 1209.8 L337.0 1208.5 L338.5 1207.1 L340.0 1205.8 L341.4 1204.5 L342.9 1203.2 L344.4 1201.8 L345.8 1200.5 L347.3 1199.1 L348.8 1197.7 L350.2 1196.3 L351.6 1194.9 L353.0 1193.5 L354.4 1192.1 L355.8 1190.6 L357.2 1189.2 L358.6 1187.7 L359.9 1186.1 L361.2 1184.6 L362.5 1183.0 L363.8 1181.4 L365.0 1179.8 L366.2 1178.1 L367.4 1176.4 L368.5 1174.7 L369.7 1172.9 L370.8 1171.2 L371.9 1169.4 L373.0 1167.6 L374.1 1165.9 L375.2 1164.1 L376.3 1162.3 L377.4 1160.5 L378.5 1158.7 L379.6 1157.0 L380.7 1155.2 L381.8 1153.5 L382.9 1151.8 L384.1 1150.2 L385.2 1148.5 L386.4 1146.9 L387.6 1145.3 L388.8 1143.8 L390.1 1142.3 L391.3 1140.9 L392.7 1139.5 L394.0 1138.1 L395.4 1136.9 L396.8 1135.6 L398.3 1134.5 L399.8 1133.4 L401.4 1132.4 L403.0 1131.4 L404.6 1130.6 L406.3 1129.8 L408.1 1129.1 L409.8 1128.4 L411.6 1127.9 L413.5 1127.4 L415.3 1126.9 L417.2 1126.6 L419.1 1126.3 L421.0 1126.1 L422.9 1126.0 L424.9 1125.9 L426.9 1125.9 L428.9 1125.9 L430.9 1126.0 L432.9 1126.0 L434.9 1126.2 L437.0 1126.3 L439.0 1126.4 L441.1 1126.6 L443.1 1126.8 L445.2 1126.9 L447.2 1127.1 L449.3 1127.2 L451.3 1127.3 L453.4 1127.4 L455.5 1127.5 L457.5 1127.5 L459.5 1127.5 L461.6 1127.4 L463.6 1127.3 L465.6 1127.2 L467.6 1126.9 L469.6 1126.6 L471.6 1126.3 L473.5 1125.8 L475.5 1125.3 L477.4 1124.8 L479.3 1124.2 L481.2 1123.6 L483.1 1122.9 L484.9 1122.1 L486.8 1121.3 L488.6 1120.5 L490.4 1119.6 L492.2 1118.7 L494.0 1117.7 L495.7 1116.7 L497.5 1115.7 L499.2 1114.6 L500.9 1113.5 L502.6 1112.4 L504.3 1111.2 L505.9 1110.0 L507.6 1108.8 L509.2 1107.5 L510.7 1106.3 L512.3 1105.0 L513.9 1103.7 L515.4 1102.4 L516.9 1101.1 L518.4 1099.7 L519.8 1098.3 L521.3 1097.0 L522.7 1095.6 L524.1 1094.2 L525.5 1092.7 L526.9 1091.3 L528.2 1089.8 L529.6 1088.4 L530.9 1086.9 L532.2 1085.4 L533.4 1083.9 L534.7 1082.3 L536.0 1080.8 L537.2 1079.2 L538.4 1077.7 L539.6 1076.1 L540.8 1074.5 L542.0 1072.9 L543.1 1071.3 L544.3 1069.7 L545.4 1068.0 L546.5 1066.4 L547.6 1064.7 L548.7 1063.1 L549.8 1061.4 L550.8 1059.7 L551.9 1058.0 L552.9 1056.3 L553.9 1054.6 L554.9 1052.9 L556.0 1051.2 L556.9 1049.4 L557.9 1047.7 L558.9 1045.9 L559.9 1044.2 L560.8 1042.4 L561.8 1040.6 L562.7 1038.9 L563.6 1037.1 L564.5 1035.3 L565.4 1033.5 L566.3 1031.7 L567.2 1029.9 L568.1 1028.1 L569.0 1026.3 L569.9 1024.5 L570.7 1022.7 L571.6 1020.8 L572.4 1019.0 L573.3 1017.2 L574.1 1015.4 L575.0 1013.5 L575.8 1011.7 L576.6 1009.9 L577.4 1008.0 L578.3 1006.2 L579.1 1004.4 L579.9 1002.5 L580.7 1000.7 L581.5 998.8 L582.3 997.0 L583.1 995.2 L583.9 993.3 L584.7 991.5 L585.5 989.6 L586.2 987.8 L587.0 985.9 L587.8 984.1 L588.6 982.2 L589.3 980.4 L590.1 978.6 L590.9 976.7 L591.6 974.9 L592.4 973.0 L593.1 971.1 L593.9 969.3 L594.6 967.4 L595.4 965.6 L596.1 963.7 L596.8 961.9 L597.6 960.0 L598.3 958.2 L599.0 956.3 L599.8 954.4 L600.5 952.6 L601.2 950.7 L601.9 948.8 L602.6 947.0 L603.3 945.1 L604.0 943.3 L604.7 941.4 L605.4 939.5 L606.1 937.7 L606.8 935.8 L607.5 933.9 L608.2 932.1 L608.9 930.2 L609.6 928.3 L610.3 926.4 L611.0 924.6 L611.6 922.7 L612.3 920.8 L613.0 918.9 L613.7 917.1 L614.3 915.2 L615.0 913.3 L615.7 911.4 L616.3 909.6 L617.0 907.7 L617.6 905.8 L618.3 903.9 L618.9 902.0 L619.6 900.2 L620.2 898.3 L620.9 896.4 L621.5 894.5 L622.2 892.6 L622.8 890.8 L623.4 888.9 L624.1 887.0 L624.7 885.1 L625.3 883.2 L626.0 881.3 L626.6 879.4 L627.2 877.5 L627.9 875.7 L628.5 873.8 L629.1 871.9 L629.7 870.0 L630.3 868.1 L631.0 866.2 L631.6 864.3 L632.2 862.4 L632.8 860.5 L633.4 858.6 L634.0 856.7 L634.6 854.8 L635.2 852.9 L635.8 851.0 L636.4 849.2 L637.0 847.3 L637.6 845.4 L638.2 843.5 L638.8 841.6 L639.4 839.7 L640.0 837.8 L640.6 835.9 L641.2 834.0 L641.8 832.1 L642.4 830.2 L643.0 828.3 L643.6 826.4 L644.2 824.5 L644.8 822.6 L645.3 820.6 L645.9 818.7 L646.5 816.8 L647.1 814.9 L647.7 813.0 L648.3 811.1 L648.9 809.2 L649.4 807.3 L650.0 805.4 L650.6 803.5 L651.2 801.6 L651.7 799.7 L652.3 797.8 L652.9 795.9 L653.5 794.0 L654.1 792.0 L654.6 790.1 L655.2 788.2 L655.8 786.3 L656.4 784.4 L656.9 782.5 L657.5 780.6 L658.1 778.7 L658.7 776.8 L659.2 774.8 L659.8 772.9 L660.4 771.0 L660.9 769.1 L661.5 767.2 L662.1 765.3 L662.7 763.4 L663.2 761.4 L663.8 759.5 L664.4 757.6 L665.0 755.7 L665.5 753.8 L666.1 751.9 L666.7 750.0 L667.2 748.0 L667.8 746.1 L668.4 744.2 L669.0 742.3 L669.5 740.4 L670.1 738.5 L670.7 736.5 L671.3 734.6 L671.8 732.7 L672.4 730.8 L673.0 728.9 L673.6 726.9 L674.2 725.0 L674.7 723.1 L675.3 721.2 L675.9 719.3 L676.5 717.4 L677.1 715.4 L677.6 713.5 L678.2 711.6 L678.8 709.7 L679.4 707.8 L680.0 705.8 L680.6 703.9 L681.1 702.0 L681.7 700.1 L682.3 698.2 L682.9 696.2 L683.5 694.3 L684.1 692.4 L684.7 690.5 L685.3 688.5 L685.9 686.6 L686.5 684.7 L687.1 682.8 L687.7 680.9 L688.3 678.9 L688.9 677.0 L689.5 675.1 L690.1 673.2 L690.7 671.3 L691.3 669.3 L691.9 667.4 L692.5 665.5 L693.1 663.6 L693.7 661.6 L694.3 659.7 L695.0 657.8 L695.6 655.9 L696.2 654.0 L696.8 652.0 L697.4 650.1 L698.1 648.2 L698.7 646.3 L699.3 644.3 L699.9 642.4 L700.6 640.5 L701.2 638.6 L701.8 636.7 L702.5 634.7 L703.1 632.8 L703.7 630.9 L704.4 629.0 L705.0 627.1 L705.7 625.1 L706.4 623.2 L707.0 621.3 L707.7 619.4 L708.4 617.5 L709.0 615.6 L709.7 613.7 L710.4 611.8 L711.1 609.9 L711.9 608.1 L712.6 606.2 L713.3 604.3 L714.1 602.5 L714.9 600.6 L715.6 598.8 L716.4 596.9 L717.3 595.1 L718.1 593.3 L718.9 591.5 L719.8 589.7 L720.6 587.9 L721.5 586.2 L722.5 584.4 L723.4 582.7 L724.3 580.9 L725.3 579.2 L726.3 577.5 L727.3 575.8 L728.3 574.1 L729.4 572.5 L730.5 570.8 L731.6 569.2 L732.7 567.6 L733.9 566.0 L735.0 564.4 L736.2 562.9 L737.5 561.3 L738.7 559.8 L740.0 558.3 L741.3 556.8 L742.7 555.4 L744.1 553.9 L745.5 552.5 L746.9 551.1 L748.4 549.8 L749.9 548.5 L751.4 547.2 L753.0 546.0 L754.6 544.8 L756.2 543.7 L757.8 542.6 L759.5 541.6 L761.2 540.7 L763.0 539.8 L764.7 539.1 L766.5 538.4 L768.3 537.8 L770.2 537.3 L772.1 536.9 L774.0 536.6 L775.9 536.4 L777.9 536.3 L779.9 536.3 L781.9 536.5 L783.9 536.7 L785.9 537.1 L787.9 537.5 L789.9 538.1 L791.9 538.7 L793.8 539.4 L795.7 540.2 L797.6 541.1 L799.3 542.0 L801.0 543.0 L802.7 544.0 L804.3 545.2 L805.9 546.3 L807.4 547.6 L808.8 548.9 L810.2 550.2 L811.6 551.6 L812.9 553.0 L814.2 554.5 L815.4 556.1 L816.6 557.6 L817.7 559.2 L818.8 560.9 L819.9 562.6 L820.9 564.3 L821.9 566.0 L822.9 567.8 L823.8 569.6 L824.7 571.4 L825.6 573.3 L826.4 575.2 L827.2 577.0 L828.0 578.9 L828.8 580.8 L829.5 582.8 L830.3 584.7 L831.0 586.6 L831.7 588.6 L832.3 590.5 L833.0 592.4 L833.6 594.4 L834.3 596.3 L834.9 598.3 L835.5 600.2 L836.1 602.1 L836.6 604.1 L837.2 606.0 L837.7 607.9 L838.3 609.9 L838.8 611.8 L839.3 613.8 L839.8 615.7 L840.3 617.6 L840.8 619.6 L841.3 621.5 L841.8 623.4 L842.2 625.4 L842.7 627.3 L843.1 629.3 L843.6 631.2 L844.0 633.1 L844.4 635.1 L844.8 637.0 L845.3 639.0 L845.7 640.9 L846.1 642.8 L846.5 644.8 L846.9 646.7 L847.3 648.7 L847.7 650.6 L848.1 652.5 L848.5 654.5 L848.9 656.4 L849.3 658.4 L849.7 660.3 L850.0 662.3 L850.4 664.2 L850.8 666.2 L851.2 668.1 L851.6 670.1 L852.0 672.0 L852.4 674.0 L852.7 675.9 L853.1 677.9 L853.5 679.8 L853.9 681.8 L854.3 683.7 L854.6 685.7 L855.0 687.6 L855.4 689.6 L855.8 691.5 L856.2 693.5 L856.5 695.5 L856.9 697.4 L857.3 699.4 L857.6 701.3 L858.0 703.3 L858.4 705.2 L858.8 707.2 L859.1 709.2 L859.5 711.1 L859.9 713.1 L860.2 715.0 L860.6 717.0 L861.0 719.0 L861.3 720.9 L861.7 722.9 L862.1 724.8 L862.4 726.8 L862.8 728.8 L863.2 730.7 L863.5 732.7 L863.9 734.7 L864.3 736.6 L864.6 738.6 L865.0 740.6 L865.4 742.5 L865.7 744.5 L866.1 746.4 L866.5 748.4 L866.8 750.4 L867.2 752.3 L867.5 754.3 L867.9 756.3 L868.3 758.2 L868.6 760.2 L869.0 762.2 L869.4 764.1 L869.7 766.1 L870.1 768.1 L870.5 770.0 L870.8 772.0 L871.2 774.0 L871.5 775.9 L871.9 777.9 L872.3 779.9 L872.6 781.9 L873.0 783.8 L873.4 785.8 L873.7 787.8 L874.1 789.7 L874.5 791.7 L874.8 793.7 L875.2 795.6 L875.6 797.6 L875.9 799.6 L876.3 801.5 L876.7 803.5 L877.0 805.5 L877.4 807.4 L877.8 809.4 L878.2 811.4 L878.5 813.3 L878.9 815.3 L879.3 817.3 L879.7 819.2 L880.0 821.2 L880.4 823.2 L880.8 825.1 L881.2 827.1 L881.5 829.1 L881.9 831.0 L882.3 833.0 L882.7 835.0 L883.0 836.9 L883.4 838.9 L883.8 840.9 L884.2 842.8 L884.6 844.8 L885.0 846.8 L885.4 848.7 L885.7 850.7 L886.1 852.7 L886.5 854.6 L886.9 856.6 L887.3 858.6 L887.7 860.5 L888.1 862.5 L888.5 864.4 L888.9 866.4 L889.3 868.4 L889.7 870.3 L890.1 872.3 L890.5 874.3 L890.9 876.2 L891.3 878.2 L891.7 880.1 L892.1 882.1 L892.5 884.1 L892.9 886.0 L893.3 888.0 L893.7 889.9 L894.1 891.9 L894.6 893.9 L895.0 895.8 L895.4 897.8 L895.8 899.7 L896.2 901.7 L896.7 903.6 L897.1 905.6 L897.5 907.5 L897.9 909.5 L898.4 911.4 L898.8 913.4 L899.2 915.4 L899.7 917.3 L900.1 919.3 L900.5 921.2 L901.0 923.2 L901.4 925.1 L901.9 927.1 L902.3 929.0 L902.8 930.9 L903.2 932.9 L903.7 934.8 L904.1 936.8 L904.6 938.7 L905.0 940.7 L905.5 942.6 L905.9 944.6 L906.4 946.5 L906.9 948.4 L907.3 950.4 L907.8 952.3 L908.3 954.3 L908.8 956.2 L909.2 958.1 L909.7 960.1 L910.2 962.0 L910.7 964.0 L911.2 965.9 L911.7 967.8 L912.2 969.8 L912.6 971.7 L913.1 973.6 L913.6 975.6 L914.1 977.5 L914.6 979.4 L915.1 981.3 L915.7 983.3 L916.2 985.2 L916.7 987.1 L917.2 989.0 L917.7 991.0 L918.2 992.9 L918.8 994.8 L919.3 996.7 L919.8 998.7 L920.3 1000.6 L920.9 1002.5 L921.4 1004.4 L921.9 1006.3 L922.5 1008.3 L923.0 1010.2 L923.6 1012.1 L924.1 1014.0 L924.7 1015.9 L925.2 1017.8 L925.8 1019.7 L926.4 1021.7 L926.9 1023.6 L927.5 1025.5 L928.1 1027.4 L928.6 1029.3 L929.2 1031.2 L929.8 1033.1 L930.4 1035.0 L930.9 1036.9 L931.5 1038.8 L932.1 1040.7 L932.7 1042.6 L933.3 1044.5 L933.9 1046.4 L934.5 1048.3 L935.1 1050.2 L935.7 1052.1 L936.3 1054.0 L936.9 1055.9 L937.6 1057.8 L938.2 1059.7 L938.8 1061.6 L939.4 1063.5 L940.1 1065.4 L940.7 1067.3 L941.3 1069.2 L942.0 1071.1 L942.6 1073.0 L943.2 1074.8 L943.9 1076.7 L944.5 1078.6 L945.2 1080.5 L945.9 1082.4 L946.5 1084.3 L947.2 1086.2 L947.8 1088.0 L948.5 1089.9 L949.2 1091.8 L949.9 1093.7 L950.6 1095.6 L951.2 1097.5 L951.9 1099.3 L952.6 1101.2 L953.3 1103.1 L954.0 1105.0 L954.7 1106.8 L955.4 1108.7 L956.1 1110.6 L956.8 1112.5 L957.5 1114.3 L958.3 1116.2 L959.0 1118.1 L959.7 1119.9 L960.4 1121.8 L961.2 1123.7 L961.9 1125.6 L962.7 1127.4 L963.4 1129.3 L964.1 1131.2 L964.9 1133.0 L965.6 1134.9 L966.4 1136.7 L967.2 1138.6 L967.9 1140.5 L968.7 1142.3 L969.5 1144.2 L970.3 1146.0 L971.0 1147.9 L971.8 1149.8 L972.6 1151.6 L973.4 1153.5 L974.2 1155.3 L975.0 1157.2 L975.8 1159.0 L976.6 1160.9 L977.4 1162.7 L978.2 1164.6 L979.1 1166.4 L979.9 1168.3 L980.7 1170.1 L981.5 1172.0 L982.4 1173.8 L983.2 1175.7 L984.1 1177.5 L984.9 1179.4 L985.8 1181.2 L986.6 1183.1 L987.5 1184.9 L988.4 1186.7 L989.2 1188.6 L990.1 1190.4 L991.1 1192.1 L992.0 1193.9 L993.0 1195.7 L993.9 1197.4 L995.0 1199.1 L996.0 1200.8 L997.1 1202.4 L998.2 1204.1 L999.3 1205.6 L1000.5 1207.2 L1001.7 1208.7 L1002.9 1210.1 L1004.2 1211.6 L1005.6 1212.9 L1007.0 1214.2 L1008.4 1215.5 L1009.9 1216.7 L1011.5 1217.9 L1013.1 1218.9 L1014.8 1220.0 L1016.5 1220.9 L1018.2 1221.9 L1020.0 1222.7 L1021.8 1223.5 L1023.6 1224.2 L1025.5 1224.9 L1027.3 1225.5 L1029.2 1226.1 L1031.1 1226.6 L1033.1 1227.0 L1035.0 1227.4 L1036.9 1227.8 L1038.9 1228.1 L1040.9 1228.4 L1042.9 1228.6 L1044.9 1228.8 L1046.9 1229.0 L1048.9 1229.1 L1050.9 1229.2 L1052.9 1229.3 L1055.0 1229.4 L1057.0 1229.5 L1059.1 1229.5 L1061.1 1229.5 L1063.2 1229.5 L1065.2 1229.5 L1067.3 1229.5 L1069.3 1229.5 L1071.4 1229.5 L1073.4 1229.5 L1075.5 1229.4 L1077.5 1229.4 L1079.6 1229.4 L1081.6 1229.4 L1083.7 1229.4 L1085.7 1229.4 L1087.8 1229.4 L1089.8 1229.4 L1091.8 1229.4 L1093.9 1229.4 L1095.9 1229.3 L1098.0 1229.3 L1100.0 1229.3 L1102.0 1229.3 L1104.1 1229.3 L1106.1 1229.3 L1108.1 1229.3 L1110.2 1229.3 L1112.2 1229.3 L1114.2 1229.3 L1116.3 1229.3 L1118.3 1229.3 L1120.3 1229.3 L1122.4 1229.2 L1124.4 1229.2 L1126.4 1229.2 L1128.4 1229.2 L1130.5 1229.2 L1132.5 1229.2 L1134.5 1229.2 L1136.5 1229.2 L1138.6 1229.2 L1140.6 1229.2 L1142.6 1229.2 L1144.6 1229.2 L1146.6 1229.2 L1148.7 1229.2 L1150.7 1229.2 L1152.7 1229.2 L1154.7 1229.2 L1156.7 1229.2 L1158.7 1229.2 L1160.8 1229.2 L1162.8 1229.2 L1164.8 1229.2 L1166.8 1229.2 L1168.8 1229.2 L1170.8 1229.2 L1172.8 1229.2 L1174.8 1229.2 L1176.8 1229.2 L1178.9 1229.2 L1180.9 1229.2 L1182.9 1229.2 L1184.9 1229.2 L1186.9 1229.2 L1188.9 1229.2 L1190.9 1229.2 L1192.9 1229.2 L1194.9 1229.2 L1196.9 1229.2 L1198.9 1229.2 L1200.9 1229.2 L1202.9 1229.2 L1204.9 1229.2 L1206.9 1229.2 L1208.9 1229.2 L1210.9 1229.2 L1212.9 1229.2 L1214.9 1229.2 L1216.9 1229.2 L1218.9 1229.2 L1220.9 1229.3 L1222.9 1229.3 L1224.9 1229.3 L1226.9 1229.3 L1228.9 1229.3 L1230.8 1229.3 L1232.8 1229.3 L1234.8 1229.3 L1236.8 1229.3 L1238.8 1229.3 L1240.8 1229.3 L1242.8 1229.3 L1244.8 1229.3 L1246.8 1229.4 L1248.8 1229.4 L1250.8 1229.4 L1252.8 1229.4 L1254.7 1229.4 L1256.7 1229.4 L1258.7 1229.4 L1260.7 1229.4 L1262.7 1229.4 L1264.7 1229.5 L1266.7 1229.5 L1268.7 1229.5 L1270.6 1229.5 L1272.6 1229.5 L1274.6 1229.5 L1276.6 1229.5 L1278.6 1229.6 L1280.6 1229.6 L1282.6 1229.6 L1284.5 1229.6 L1286.5 1229.6 L1288.5 1229.6 L1290.5 1229.6 L1292.5 1229.7 L1294.5 1229.7 L1296.4 1229.7 L1298.4 1229.7 L1300.4 1229.7 L1302.4 1229.7 L1304.4 1229.8 L1306.4 1229.8 L1308.3 1229.8 L1310.3 1229.8 L1312.3 1229.8 L1314.3 1229.9 L1316.3 1229.9 L1318.2 1229.9 L1320.2 1229.9 L1322.2 1229.9 L1324.2 1230.0 L1326.2 1230.0 L1328.2 1230.0 L1330.1 1230.0 L1332.1 1230.0 L1334.1 1230.1 L1336.1 1230.1 L1338.1 1230.1 L1340.0 1230.1 L1342.0 1230.2 L1344.0 1230.2 L1346.0 1230.2 L1348.0 1230.2 L1349.9 1230.3 L1351.9 1230.3 L1353.9 1230.3 L1355.9 1230.3 L1357.9 1230.4 L1359.9 1230.4 L1361.8 1230.4 L1363.8 1230.4 L1365.8 1230.5 L1367.8 1230.5 L1369.8 1230.5 L1371.7 1230.6 L1373.7 1230.6 L1375.7 1230.6 L1377.7 1230.6 L1379.7 1230.7 L1381.7 1230.7 L1383.6 1230.7 L1385.6 1230.8 L1387.6 1230.8 L1389.6 1230.8 L1391.6 1230.9 L1393.5 1230.9 L1395.5 1230.9 L1397.5 1231.0 L1399.5 1231.0 L1401.5 1231.0 L1403.5 1231.1 L1405.5 1231.1 L1407.4 1231.1 L1409.4 1231.2 L1411.4 1231.2 L1413.4 1231.2 L1415.4 1231.3 L1417.4 1231.3 L1419.4 1231.3 L1421.3 1231.4 L1423.3 1231.4 L1425.3 1231.4 L1427.3 1231.5 L1429.3 1231.5 L1431.3 1231.6 L1433.3 1231.6 L1435.3 1231.6 L1437.2 1231.7 L1439.2 1231.7 L1441.2 1231.8 L1443.2 1231.8 L1445.2 1231.8 L1447.2 1231.9 L1449.2 1231.9 L1451.2 1232.0 L1453.2 1232.0 L1455.2 1232.0 L1457.2 1232.1 L1459.1 1232.1 L1461.1 1232.2 L1463.1 1232.2 L1465.1 1232.2 L1467.1 1232.3 L1469.1 1232.3 L1471.1 1232.4 L1473.1 1232.4 L1475.1 1232.5 L1477.1 1232.5 L1479.1 1232.6 L1481.1 1232.6 L1483.1 1232.6 L1485.1 1232.7 L1487.1 1232.7 L1489.1 1232.8 L1491.1 1232.8 L1493.0 1232.9 L1495.0 1232.9 L1497.0 1233.0 L1499.0 1233.0 L1501.0 1233.0 L1503.0 1233.1 L1505.0 1233.1 L1507.0 1233.2 L1509.0 1233.2 L1511.0 1233.3 L1513.0 1233.3 L1515.0 1233.4 L1517.0 1233.4 L1519.0 1233.5 L1521.0 1233.5 L1523.0 1233.6 L1525.0 1233.6 L1527.0 1233.6 L1529.0 1233.7 L1531.0 1233.7 L1533.0 1233.8 L1535.0 1233.8 L1537.0 1233.9 L1539.0 1233.9 L1541.0 1234.0 L1543.0 1234.0 L1545.0 1234.1 L1547.0 1234.1 L1549.0 1234.2 L1551.0 1234.2 L1553.0 1234.3 L1555.0 1234.3 L1557.0 1234.4 L1559.0 1234.4 L1561.0 1234.5 L1563.0 1234.5 L1565.0 1234.5 L1567.0 1234.6 L1569.0 1234.6 L1571.0 1234.7 L1573.0 1234.7 L1575.0 1234.8 L1577.0 1234.8 L1579.0 1234.9 L1581.0 1234.9 L1583.0 1235.0 L1585.0 1235.0 L1587.0 1235.1 L1589.0 1235.1 L1591.0 1235.2 L1593.0 1235.2 L1595.0 1235.2 L1597.0 1235.3 L1599.1 1235.3 L1601.1 1235.4 L1603.1 1235.4 L1605.1 1235.5 L1607.1 1235.5 L1609.1 1235.6 L1611.1 1235.6 L1613.1 1235.7 L1615.1 1235.7 L1617.1 1235.8 L1619.1 1235.8 L1621.1 1235.8 L1623.1 1235.9 L1625.1 1235.9 L1627.1 1236.0 L1629.1 1236.0 L1631.1 1236.1 L1633.1 1236.1 L1635.1 1236.1 L1637.1 1236.2 L1639.1 1236.2 L1641.1 1236.3 L1643.1 1236.3 L1645.1 1236.4 L1647.1 1236.4 L1649.1 1236.4 L1651.1 1236.5 L1653.1 1236.5 L1655.1 1236.6 L1657.1 1236.6 L1659.1 1236.6 L1661.2 1236.7 L1663.2 1236.7 L1665.2 1236.8 L1667.2 1236.8 L1669.2 1236.8 L1671.2 1236.9 L1673.2 1236.9 L1675.2 1237.0 L1677.2 1237.0 L1679.2 1237.0 L1681.2 1237.1 L1683.2 1237.1 L1685.2 1237.1 L1687.2 1237.2 L1689.2 1237.2 L1691.2 1237.3 L1693.2 1237.3 L1695.2 1237.3 L1697.2 1237.4 L1699.2 1237.4 L1701.2 1237.4 L1703.2 1237.5 L1705.2 1237.5 L1707.2 1237.5 L1709.2 1237.6 L1711.2 1237.6 L1713.2 1237.6 L1715.2 1237.6 L1717.2 1237.7 L1719.2 1237.7 L1721.2 1237.7 L1723.2 1237.8 L1725.2 1237.8 L1727.2 1237.8 L1729.2 1237.9 L1731.2 1237.9 L1733.2 1237.9 L1735.2 1237.9 L1737.2 1238.0 L1739.2 1238.0 L1741.2 1238.0 L1743.2 1238.0 L1745.2 1238.1 L1747.2 1238.1 L1749.2 1238.1 L1751.2 1238.1 L1753.2 1238.2 L1755.2 1238.2 L1757.2 1238.2 L1759.2 1238.2 L1761.2 1238.2 L1763.2 1238.3 L1765.2 1238.3 L1767.2 1238.3 L1769.2 1238.3 L1771.2 1238.3 L1773.2 1238.3 L1775.2 1238.4 L1777.2 1238.4 L1779.2 1238.4 L1781.2 1238.4 L1783.2 1238.4 L1785.2 1238.4 L1787.2 1238.5 L1789.2 1238.5 L1791.2 1238.5 L1793.2 1238.5 L1795.2 1238.5 L1797.2 1238.5 L1799.2 1238.5 L1801.2 1238.5 L1803.1 1238.5 L1805.1 1238.5 L1807.1 1238.6 L1809.1 1238.6 L1811.1 1238.6 L1813.1 1238.6 L1815.1 1238.6 L1817.1 1238.6 L1819.1 1238.6 L1821.1 1238.6 L1823.1 1238.6 L1825.1 1238.6 L1827.1 1238.6 L1829.1 1238.6 L1831.0 1238.6 L1833.0 1238.6 L1835.0 1238.6 L1837.0 1238.6 L1839.0 1238.6 L1841.0 1238.6 L1843.0 1238.6 L1845.0 1238.6" stroke="#FF00FF"/>
<path d="M296.7 1262.1 L297.4 1260.1 L298.1 1258.1 L298.9 1256.2 L299.7 1254.3 L300.5 1252.4 L301.4 1250.6 L302.4 1248.8 L303.4 1247.0 L304.4 1245.3 L305.5 1243.6 L306.6 1241.9 L307.7 1240.3 L308.9 1238.7 L310.1 1237.1 L311.3 1235.6 L312.5 1234.0 L313.8 1232.5 L315.1 1231.1 L316.4 1229.6 L317.8 1228.2 L319.2 1226.7 L320.5 1225.3 L321.9 1223.9 L323.4 1222.6 L324.8 1221.2 L326.3 1219.8 L327.7 1218.5 L329.2 1217.1 L330.7 1215.8 L332.1 1214.5 L333.6 1213.2 L335.1 1211.8 L336.6 1210.5 L338.1 1209.2 L339.6 1207.9 L341.1 1206.6 L342.6 1205.2 L344.1 1203.9 L345.6 1202.6 L347.1 1201.2 L348.5 1199.9 L350.0 1198.5 L351.4 1197.1 L352.9 1195.7 L354.3 1194.3 L355.7 1192.9 L357.1 1191.4 L358.4 1190.0 L359.8 1188.5 L361.1 1187.0 L362.4 1185.4 L363.7 1183.9 L364.9 1182.3 L366.1 1180.7 L367.3 1179.1 L368.5 1177.4 L369.6 1175.7 L370.7 1174.0 L371.8 1172.3 L372.9 1170.5 L373.9 1168.7 L374.9 1167.0 L376.0 1165.2 L377.0 1163.4 L378.0 1161.6 L379.0 1159.8 L380.0 1157.9 L381.0 1156.1 L382.0 1154.3 L383.0 1152.6 L384.0 1150.8 L385.0 1149.0 L386.1 1147.2 L387.1 1145.5 L388.2 1143.8 L389.3 1142.1 L390.4 1140.4 L391.6 1138.8 L392.7 1137.2 L393.9 1135.6 L395.2 1134.1 L396.4 1132.6 L397.7 1131.1 L399.1 1129.7 L400.5 1128.4 L401.9 1127.1 L403.4 1125.8 L404.9 1124.6 L406.5 1123.5 L408.1 1122.4 L409.7 1121.4 L411.4 1120.6 L413.1 1119.8 L414.8 1119.1 L416.6 1118.5 L418.4 1118.0 L420.2 1117.5 L422.1 1117.2 L423.9 1117.0 L425.8 1116.8 L427.8 1116.7 L429.7 1116.6 L431.6 1116.6 L433.6 1116.7 L435.6 1116.8 L437.6 1116.9 L439.6 1117.0 L441.6 1117.2 L443.7 1117.4 L445.7 1117.6 L447.7 1117.8 L449.8 1118.0 L451.8 1118.2 L453.9 1118.4 L455.9 1118.6 L458.0 1118.7 L460.0 1118.8 L462.0 1118.9 L464.1 1119.0 L466.1 1118.9 L468.1 1118.9 L470.1 1118.7 L472.0 1118.6 L474.0 1118.3 L476.0 1118.1 L478.0 1117.8 L479.9 1117.4 L481.9 1117.1 L483.8 1116.7 L485.8 1116.2 L487.8 1115.8 L489.7 1115.3 L491.7 1114.8 L493.7 1114.3 L495.7 1113.8 L497.7 1113.3 L499.7 1112.8 L501.7 1112.2 L503.7 1111.7 L505.7 1111.1 L507.7 1110.5 L509.6 1109.9 L511.6 1109.3 L513.5 1108.6 L515.4 1107.9 L517.3 1107.1 L519.2 1106.3 L520.9 1105.4 L522.7 1104.4 L524.4 1103.4 L526.0 1102.4 L527.6 1101.2 L529.2 1100.0 L530.7 1098.8 L532.1 1097.5 L533.5 1096.1 L534.9 1094.7 L536.2 1093.3 L537.5 1091.8 L538.8 1090.3 L540.1 1088.8 L541.3 1087.2 L542.5 1085.6 L543.7 1084.0 L544.8 1082.3 L546.0 1080.7 L547.1 1079.0 L548.2 1077.3 L549.3 1075.6 L550.4 1073.9 L551.5 1072.3 L552.6 1070.6 L553.6 1068.9 L554.7 1067.1 L555.8 1065.4 L556.8 1063.7 L557.9 1062.0 L558.9 1060.3 L559.9 1058.6 L561.0 1056.9 L562.0 1055.1 L563.0 1053.4 L564.0 1051.7 L565.0 1049.9 L566.0 1048.2 L567.0 1046.5 L567.9 1044.7 L568.9 1043.0 L569.9 1041.2 L570.9 1039.5 L571.8 1037.7 L572.8 1036.0 L573.7 1034.2 L574.6 1032.4 L575.6 1030.7 L576.5 1028.9 L577.4 1027.1 L578.3 1025.3 L579.2 1023.6 L580.1 1021.8 L581.0 1020.0 L581.9 1018.2 L582.8 1016.4 L583.7 1014.7 L584.6 1012.9 L585.4 1011.1 L586.3 1009.3 L587.2 1007.5 L588.0 1005.7 L588.9 1003.9 L589.7 1002.1 L590.5 1000.3 L591.4 998.4 L592.2 996.6 L593.0 994.8 L593.9 993.0 L594.7 991.2 L595.5 989.4 L596.3 987.5 L597.1 985.7 L597.9 983.9 L598.7 982.1 L599.5 980.2 L600.3 978.4 L601.0 976.6 L601.8 974.7 L602.6 972.9 L603.3 971.0 L604.1 969.2 L604.9 967.4 L605.6 965.5 L606.4 963.7 L607.1 961.8 L607.9 960.0 L608.6 958.1 L609.4 956.2 L610.1 954.4 L610.8 952.5 L611.5 950.7 L612.3 948.8 L613.0 947.0 L613.7 945.1 L614.4 943.2 L615.1 941.4 L615.8 939.5 L616.5 937.6 L617.2 935.7 L617.9 933.9 L618.6 932.0 L619.3 930.1 L620.0 928.2 L620.7 926.4 L621.4 924.5 L622.1 922.6 L622.8 920.7 L623.4 918.9 L624.1 917.0 L624.8 915.1 L625.5 913.2 L626.1 911.3 L626.8 909.4 L627.5 907.5 L628.1 905.6 L628.8 903.8 L629.4 901.9 L630.1 900.0 L630.7 898.1 L631.4 896.2 L632.1 894.3 L632.7 892.4 L633.3 890.5 L634.0 888.6 L634.6 886.7 L635.3 884.8 L635.9 882.9 L636.6 881.0 L637.2 879.1 L637.8 877.2 L638.5 875.3 L639.1 873.4 L639.7 871.5 L640.4 869.6 L641.0 867.7 L641.6 865.8 L642.3 863.9 L642.9 862.0 L643.5 860.1 L644.2 858.2 L644.8 856.3 L645.4 854.4 L646.0 852.5 L646.7 850.6 L647.3 848.7 L647.9 846.8 L648.6 844.8 L649.2 842.9 L649.8 841.0 L650.4 839.1 L651.1 837.2 L651.7 835.3 L652.3 833.4 L652.9 831.5 L653.6 829.6 L654.2 827.7 L654.8 825.8 L655.4 823.9 L656.1 822.0 L656.7 820.1 L657.3 818.2 L657.9 816.3 L658.6 814.4 L659.2 812.4 L659.8 810.5 L660.5 808.6 L661.1 806.7 L661.7 804.8 L662.4 802.9 L663.0 801.0 L663.6 799.1 L664.3 797.2 L664.9 795.3 L665.6 793.4 L666.2 791.5 L666.8 789.6 L667.5 787.7 L668.1 785.8 L668.8 783.9 L669.4 782.0 L670.1 780.2 L670.7 778.3 L671.4 776.4 L672.0 774.5 L672.7 772.6 L673.4 770.7 L674.0 768.8 L674.7 766.9 L675.3 765.0 L676.0 763.1 L676.7 761.2 L677.4 759.4 L678.0 757.5 L678.7 755.6 L679.4 753.7 L680.1 751.8 L680.8 750.0 L681.4 748.1 L682.1 746.2 L682.8 744.3 L683.5 742.4 L684.2 740.6 L684.9 738.7 L685.6 736.8 L686.3 735.0 L687.0 733.1 L687.8 731.2 L688.5 729.4 L689.2 727.5 L689.9 725.6 L690.6 723.8 L691.4 721.9 L692.1 720.1 L692.8 718.2 L693.6 716.4 L694.3 714.5 L695.1 712.7 L695.8 710.8 L696.6 709.0 L697.3 707.1 L698.1 705.3 L698.9 703.4 L699.6 701.6 L700.4 699.8 L701.2 697.9 L702.0 696.1 L702.8 694.3 L703.6 692.4 L704.4 690.6 L705.2 688.8 L706.0 687.0 L706.8 685.1 L707.7 683.3 L708.5 681.5 L709.3 679.7 L710.2 677.9 L711.0 676.1 L711.9 674.3 L712.7 672.5 L713.6 670.7 L714.5 668.9 L715.4 667.1 L716.3 665.3 L717.2 663.6 L718.1 661.8 L719.0 660.0 L719.9 658.2 L720.8 656.5 L721.8 654.7 L722.7 652.9 L723.6 651.2 L724.6 649.4 L725.6 647.7 L726.5 645.9 L727.5 644.2 L728.5 642.4 L729.5 640.7 L730.5 639.0 L731.5 637.3 L732.6 635.5 L733.6 633.8 L734.7 632.1 L735.8 630.5 L736.9 628.8 L738.0 627.2 L739.2 625.6 L740.5 624.1 L741.8 622.6 L743.1 621.1 L744.6 619.7 L746.0 618.4 L747.6 617.1 L749.2 615.9 L750.8 614.8 L752.5 613.7 L754.2 612.6 L756.0 611.7 L757.8 610.8 L759.7 610.0 L761.6 609.3 L763.5 608.6 L765.4 608.1 L767.4 607.6 L769.4 607.1 L771.4 606.8 L773.4 606.5 L775.4 606.4 L777.5 606.3 L779.5 606.3 L781.6 606.4 L783.6 606.6 L785.7 606.9 L787.7 607.3 L789.7 607.7 L791.6 608.3 L793.6 608.9 L795.5 609.6 L797.3 610.3 L799.1 611.2 L800.9 612.1 L802.6 613.1 L804.2 614.2 L805.8 615.3 L807.4 616.5 L808.9 617.8 L810.4 619.1 L811.8 620.4 L813.2 621.9 L814.5 623.3 L815.9 624.8 L817.1 626.3 L818.4 627.9 L819.5 629.5 L820.7 631.2 L821.8 632.8 L822.9 634.5 L824.0 636.2 L825.0 637.9 L826.0 639.7 L827.0 641.4 L827.9 643.2 L828.8 644.9 L829.7 646.7 L830.6 648.5 L831.4 650.3 L832.2 652.1 L833.0 653.9 L833.8 655.7 L834.5 657.6 L835.2 659.4 L835.9 661.3 L836.6 663.1 L837.3 665.0 L837.9 666.9 L838.5 668.8 L839.1 670.7 L839.7 672.5 L840.3 674.5 L840.9 676.4 L841.4 678.3 L841.9 680.2 L842.4 682.1 L843.0 684.0 L843.5 686.0 L843.9 687.9 L844.4 689.8 L844.9 691.8 L845.4 693.7 L845.8 695.7 L846.3 697.6 L846.7 699.6 L847.1 701.5 L847.6 703.5 L848.0 705.5 L848.4 707.4 L848.9 709.4 L849.3 711.3 L849.7 713.3 L850.1 715.2 L850.6 717.2 L851.0 719.2 L851.4 721.1 L851.8 723.1 L852.2 725.1 L852.6 727.0 L853.1 729.0 L853.5 730.9 L853.9 732.9 L854.3 734.9 L854.7 736.8 L855.1 738.8 L855.5 740.8 L855.9 742.7 L856.3 744.7 L856.7 746.7 L857.1 748.6 L857.5 750.6 L857.9 752.6 L858.3 754.5 L858.7 756.5 L859.1 758.5 L859.5 760.4 L859.9 762.4 L860.3 764.4 L860.7 766.3 L861.1 768.3 L861.5 770.3 L861.9 772.2 L862.3 774.2 L862.6 776.2 L863.0 778.2 L863.4 780.1 L863.8 782.1 L864.2 784.1 L864.6 786.0 L865.0 788.0 L865.4 790.0 L865.7 791.9 L866.1 793.9 L866.5 795.9 L866.9 797.9 L867.3 799.8 L867.7 801.8 L868.1 803.8 L868.5 805.7 L868.8 807.7 L869.2 809.7 L869.6 811.7 L870.0 813.6 L870.4 815.6 L870.8 817.6 L871.2 819.5 L871.6 821.5 L871.9 823.5 L872.3 825.4 L872.7 827.4 L873.1 829.4 L873.5 831.3 L873.9 833.3 L874.3 835.3 L874.7 837.2 L875.1 839.2 L875.5 841.2 L875.9 843.1 L876.3 845.1 L876.7 847.1 L877.0 849.0 L877.4 851.0 L877.8 853.0 L878.2 854.9 L878.6 856.9 L879.0 858.9 L879.4 860.8 L879.9 862.8 L880.3 864.8 L880.7 866.7 L881.1 868.7 L881.5 870.6 L881.9 872.6 L882.3 874.6 L882.7 876.5 L883.1 878.5 L883.5 880.4 L884.0 882.4 L884.4 884.4 L884.8 886.3 L885.2 888.3 L885.6 890.2 L886.1 892.2 L886.5 894.1 L886.9 896.1 L887.3 898.0 L887.8 900.0 L888.2 901.9 L888.6 903.9 L889.1 905.8 L889.5 907.8 L890.0 909.7 L890.4 911.7 L890.8 913.6 L891.3 915.6 L891.7 917.5 L892.2 919.5 L892.6 921.4 L893.1 923.4 L893.6 925.3 L894.0 927.2 L894.5 929.2 L894.9 931.1 L895.4 933.1 L895.9 935.0 L896.4 936.9 L896.8 938.9 L897.3 940.8 L897.8 942.7 L898.3 944.7 L898.8 946.6 L899.2 948.5 L899.7 950.5 L900.2 952.4 L900.7 954.3 L901.2 956.3 L901.7 958.2 L902.2 960.1 L902.7 962.0 L903.3 964.0 L903.8 965.9 L904.3 967.8 L904.8 969.7 L905.3 971.6 L905.9 973.6 L906.4 975.5 L906.9 977.4 L907.5 979.3 L908.0 981.2 L908.5 983.1 L909.1 985.0 L909.6 986.9 L910.2 988.9 L910.7 990.8 L911.3 992.7 L911.9 994.6 L912.4 996.5 L913.0 998.4 L913.6 1000.3 L914.2 1002.2 L914.7 1004.1 L915.3 1006.0 L915.9 1007.9 L916.5 1009.8 L917.1 1011.6 L917.7 1013.5 L918.3 1015.4 L918.9 1017.3 L919.5 1019.2 L920.2 1021.1 L920.8 1023.0 L921.4 1024.8 L922.0 1026.7 L922.7 1028.6 L923.3 1030.5 L924.0 1032.4 L924.6 1034.2 L925.3 1036.1 L925.9 1038.0 L926.6 1039.8 L927.2 1041.7 L927.9 1043.6 L928.6 1045.4 L929.3 1047.3 L930.0 1049.2 L930.6 1051.0 L931.3 1052.9 L932.0 1054.7 L932.7 1056.6 L933.4 1058.5 L934.1 1060.3 L934.8 1062.2 L935.6 1064.0 L936.3 1065.9 L937.0 1067.7 L937.7 1069.6 L938.5 1071.4 L939.2 1073.3 L939.9 1075.1 L940.7 1077.0 L941.4 1078.8 L942.2 1080.7 L942.9 1082.5 L943.7 1084.4 L944.4 1086.2 L945.2 1088.1 L945.9 1089.9 L946.7 1091.8 L947.5 1093.6 L948.2 1095.5 L949.0 1097.3 L949.8 1099.2 L950.6 1101.0 L951.3 1102.9 L952.1 1104.7 L952.9 1106.6 L953.7 1108.5 L954.5 1110.3 L955.3 1112.2 L956.1 1114.0 L956.9 1115.9 L957.7 1117.8 L958.5 1119.6 L959.3 1121.5 L960.1 1123.4 L960.9 1125.2 L961.7 1127.1 L962.5 1129.0 L963.3 1130.8 L964.1 1132.7 L964.9 1134.6 L965.7 1136.5 L966.5 1138.3 L967.3 1140.2 L968.2 1142.1 L969.0 1144.0 L969.8 1145.9 L970.6 1147.8 L971.4 1149.7 L972.3 1151.6 L973.1 1153.5 L973.9 1155.4 L974.7 1157.3 L975.6 1159.2 L976.4 1161.1 L977.3 1162.9 L978.1 1164.8 L979.0 1166.7 L979.9 1168.5 L980.8 1170.4 L981.7 1172.2 L982.6 1174.0 L983.6 1175.8 L984.6 1177.6 L985.5 1179.3 L986.6 1181.1 L987.6 1182.8 L988.6 1184.5 L989.7 1186.1 L990.8 1187.8 L992.0 1189.4 L993.1 1191.0 L994.3 1192.5 L995.5 1194.0 L996.8 1195.5 L998.1 1196.9 L999.4 1198.3 L1000.8 1199.7 L1002.2 1201.0 L1003.6 1202.2 L1005.1 1203.5 L1006.7 1204.7 L1008.2 1205.8 L1009.8 1206.9 L1011.5 1207.9 L1013.2 1208.9 L1014.9 1209.8 L1016.6 1210.7 L1018.4 1211.6 L1020.2 1212.4 L1022.1 1213.2 L1023.9 1213.9 L1025.8 1214.6 L1027.7 1215.2 L1029.6 1215.8 L1031.5 1216.3 L1033.4 1216.8 L1035.3 1217.2 L1037.3 1217.6 L1039.2 1218.0 L1041.2 1218.3 L1043.1 1218.6 L1045.1 1218.9 L1047.1 1219.1 L1049.0 1219.3 L1051.0 1219.5 L1053.0 1219.6 L1055.0 1219.7 L1057.0 1219.8 L1059.0 1219.9 L1061.0 1220.0 L1062.9 1220.0 L1064.9 1220.0 L1067.0 1220.0 L1069.0 1220.0 L1071.0 1220.0 L1073.0 1220.0 L1075.0 1220.0 L1077.0 1220.0 L1079.0 1219.9 L1081.0 1219.9 L1083.0 1219.9 L1085.0 1219.9 L1087.0 1219.8 L1089.0 1219.8 L1091.1 1219.8 L1093.1 1219.8 L1095.1 1219.8 L1097.1 1219.7 L1099.1 1219.7 L1101.1 1219.7 L1103.1 1219.7 L1105.1 1219.7 L1107.1 1219.7 L1109.1 1219.7 L1111.1 1219.6 L1113.1 1219.6 L1115.2 1219.6 L1117.2 1219.6 L1119.2 1219.6 L1121.2 1219.6 L1123.2 1219.6 L1125.2 1219.6 L1127.2 1219.6 L1129.2 1219.6 L1131.2 1219.6 L1133.2 1219.6 L1135.2 1219.6 L1137.2 1219.6 L1139.2 1219.6 L1141.2 1219.6 L1143.2 1219.6 L1145.3 1219.6 L1147.3 1219.6 L1149.3 1219.6 L1151.3 1219.6 L1153.3 1219.6 L1155.3 1219.6 L1157.3 1219.6 L1159.3 1219.6 L1161.3 1219.6 L1163.3 1219.7 L1165.3 1219.7 L1167.3 1219.7 L1169.3 1219.7 L1171.3 1219.7 L1173.3 1219.7 L1175.3 1219.7 L1177.3 1219.8 L1179.3 1219.8 L1181.3 1219.8 L1183.3 1219.8 L1185.4 1219.8 L1187.4 1219.9 L1189.4 1219.9 L1191.4 1219.9 L1193.4 1219.9 L1195.4 1219.9 L1197.4 1220.0 L1199.4 1220.0 L1201.4 1220.0 L1203.4 1220.0 L1205.4 1220.1 L1207.4 1220.1 L1209.4 1220.1 L1211.4 1220.2 L1213.4 1220.2 L1215.4 1220.2 L1217.4 1220.2 L1219.4 1220.3 L1221.4 1220.3 L1223.4 1220.3 L1225.4 1220.4 L1227.4 1220.4 L1229.4 1220.4 L1231.4 1220.5 L1233.4 1220.5 L1235.4 1220.6 L1237.4 1220.6 L1239.4 1220.6 L1241.4 1220.7 L1243.4 1220.7 L1245.4 1220.8 L1247.4 1220.8 L1249.4 1220.8 L1251.4 1220.9 L1253.4 1220.9 L1255.4 1221.0 L1257.4 1221.0 L1259.4 1221.0 L1261.4 1221.1 L1263.4 1221.1 L1265.4 1221.2 L1267.4 1221.2 L1269.4 1221.3 L1271.4 1221.3 L1273.4 1221.4 L1275.4 1221.4 L1277.4 1221.5 L1279.4 1221.5 L1281.4 1221.6 L1283.4 1221.6 L1285.4 1221.7 L1287.4 1221.7 L1289.4 1221.8 L1291.4 1221.8 L1293.4 1221.9 L1295.4 1221.9 L1297.4 1222.0 L1299.4 1222.1 L1301.4 1222.1 L1303.4 1222.2 L1305.4 1222.2 L1307.4 1222.3 L1309.4 1222.3 L1311.4 1222.4 L1313.4 1222.4 L1315.4 1222.5 L1317.4 1222.6 L1319.4 1222.6 L1321.4 1222.7 L1323.4 1222.7 L1325.4 1222.8 L1327.4 1222.9 L1329.4 1222.9 L1331.4 1223.0 L1333.4 1223.1 L1335.4 1223.1 L1337.4 1223.2 L1339.4 1223.2 L1341.4 1223.3 L1343.4 1223.4 L1345.4 1223.4 L1347.4 1223.5 L1349.4 1223.6 L1351.4 1223.6 L1353.4 1223.7 L1355.4 1223.8 L1357.4 1223.8 L1359.4 1223.9 L1361.4 1224.0 L1363.4 1224.0 L1365.4 1224.1 L1367.4 1224.2 L1369.4 1224.2 L1371.4 1224.3 L1373.4 1224.4 L1375.4 1224.4 L1377.4 1224.5 L1379.4 1224.6 L1381.4 1224.7 L1383.4 1224.7 L1385.4 1224.8 L1387.4 1224.9 L1389.4 1224.9 L1391.4 1225.0 L1393.4 1225.1 L1395.4 1225.2 L1397.4 1225.2 L1399.4 1225.3 L1401.4 1225.4 L1403.4 1225.4 L1405.4 1225.5 L1407.4 1225.6 L1409.4 1225.7 L1411.3 1225.7 L1413.3 1225.8 L1415.3 1225.9 L1417.3 1226.0 L1419.3 1226.0 L1421.3 1226.1 L1423.3 1226.2 L1425.3 1226.3 L1427.3 1226.3 L1429.3 1226.4 L1431.3 1226.5 L1433.3 1226.6 L1435.3 1226.6 L1437.3 1226.7 L1439.3 1226.8 L1441.3 1226.9 L1443.3 1226.9 L1445.3 1227.0 L1447.3 1227.1 L1449.3 1227.2 L1451.3 1227.2 L1453.3 1227.3 L1455.3 1227.4 L1457.3 1227.5 L1459.3 1227.6 L1461.3 1227.6 L1463.3 1227.7 L1465.3 1227.8 L1467.3 1227.9 L1469.3 1227.9 L1471.3 1228.0 L1473.3 1228.1 L1475.2 1228.2 L1477.2 1228.2 L1479.2 1228.3 L1481.2 1228.4 L1483.2 1228.5 L1485.2 1228.6 L1487.2 1228.6 L1489.2 1228.7 L1491.2 1228.8 L1493.2 1228.9 L1495.2 1228.9 L1497.2 1229.0 L1499.2 1229.1 L1501.2 1229.2 L1503.2 1229.3 L1505.2 1229.3 L1507.2 1229.4 L1509.2 1229.5 L1511.2 1229.6 L1513.2 1229.6 L1515.2 1229.7 L1517.2 1229.8 L1519.2 1229.9 L1521.2 1230.0 L1523.2 1230.0 L1525.2 1230.1 L1527.2 1230.2 L1529.2 1230.3 L1531.2 1230.3 L1533.1 1230.4 L1535.1 1230.5 L1537.1 1230.6 L1539.1 1230.6 L1541.1 1230.7 L1543.1 1230.8 L1545.1 1230.9 L1547.1 1231.0 L1549.1 1231.0 L1551.1 1231.1 L1553.1 1231.2 L1555.1 1231.3 L1557.1 1231.3 L1559.1 1231.4 L1561.1 1231.5 L1563.1 1231.6 L1565.1 1231.6 L1567.1 1231.7 L1569.1 1231.8 L1571.1 1231.9 L1573.1 1231.9 L1575.1 1232.0 L1577.1 1232.1 L1579.1 1232.1 L1581.1 1232.2 L1583.1 1232.3 L1585.1 1232.4 L1587.1 1232.4 L1589.1 1232.5 L1591.1 1232.6 L1593.1 1232.7 L1595.0 1232.7 L1597.0 1232.8 L1599.0 1232.9 L1601.0 1232.9 L1603.0 1233.0 L1605.0 1233.1 L1607.0 1233.1 L1609.0 1233.2 L1611.0 1233.3 L1613.0 1233.4 L1615.0 1233.4 L1617.0 1233.5 L1619.0 1233.6 L1621.0 1233.6 L1623.0 1233.7 L1625.0 1233.8 L1627.0 1233.8 L1629.0 1233.9 L1631.0 1234.0 L1633.0 1234.0 L1635.0 1234.1 L1637.0 1234.2 L1639.0 1234.2 L1641.0 1234.3 L1643.0 1234.3 L1645.0 1234.4 L1647.0 1234.5 L1649.0 1234.5 L1651.0 1234.6 L1653.0 1234.7 L1655.0 1234.7 L1657.0 1234.8 L1659.0 1234.8 L1661.0 1234.9 L1663.0 1235.0 L1665.0 1235.0 L1667.0 1235.1 L1669.0 1235.1 L1671.0 1235.2 L1673.0 1235.3 L1675.0 1235.3 L1677.0 1235.4 L1679.0 1235.4 L1681.0 1235.5 L1682.9 1235.5 L1684.9 1235.6 L1686.9 1235.6 L1688.9 1235.7 L1690.9 1235.7 L1692.9 1235.8 L1694.9 1235.9 L1696.9 1235.9 L1698.9 1236.0 L1700.9 1236.0 L1702.9 1236.1 L1704.9 1236.1 L1706.9 1236.2 L1708.9 1236.2 L1710.9 1236.3 L1712.9 1236.3 L1714.9 1236.3 L1716.9 1236.4 L1718.9 1236.4 L1720.9 1236.5 L1722.9 1236.5 L1724.9 1236.6 L1726.9 1236.6 L1728.9 1236.7 L1730.9 1236.7 L1732.9 1236.7 L1734.9 1236.8 L1736.9 1236.8 L1738.9 1236.9 L1740.9 1236.9 L1742.9 1236.9 L1744.9 1237.0 L1746.9 1237.0 L1748.9 1237.1 L1750.9 1237.1 L1752.9 1237.1 L1754.9 1237.2 L1756.9 1237.2 L1758.9 1237.2 L1760.9 1237.3 L1762.9 1237.3 L1764.9 1237.3 L1766.9 1237.4 L1768.9 1237.4 L1770.9 1237.4 L1772.9 1237.5 L1774.9 1237.5 L1777.0 1237.5 L1779.0 1237.5 L1781.0 1237.6 L1783.0 1237.6 L1785.0 1237.6 L1787.0 1237.6 L1789.0 1237.7 L1791.0 1237.7 L1793.0 1237.7 L1795.0 1237.7 L1797.0 1237.7 L1799.0 1237.8 L1801.0 1237.8 L1803.0 1237.8 L1805.0 1237.8 L1807.0 1237.8 L1809.0 1237.9 L1811.0 1237.9 L1813.0 1237.9 L1815.0 1237.9 L1817.0 1237.9 L1819.0 1237.9 L1821.0 1237.9 L1823.0 1237.9 L1825.0 1237.9 L1827.0 1238.0 L1829.0 1238.0 L1831.0 1238.0 L1833.0 1238.0 L1835.0 1238.0 L1837.0 1238.0 L1839.0 1238.0 L1841.0 1238.0 L1843.0 1238.0 L1845.1 1238.0" stroke="#FFFF00"/>
</g>
<path d="M442.4 73.0 L447.0 100.0 L448.0 132.0 L452.0 144.0 L455.0 180.0 L460.0 204.0 L468.0 250.0 L475.0 290.0 L480.0 320.0 L485.0 340.0 L492.0 370.0 L500.0 410.0 L506.0 440.0 L514.0 470.0 L526.0 510.0 L538.0 540.0 L552.0 570.0 L568.0 610.0 L577.4 630.0 L586.0 640.0 L595.0 649.8 L602.7 658.6 L602.7 678.4 L617.0 693.8 L634.6 709.2 L663.2 726.8 L689.6 744.4 L700.0 748.0 L713.3 755.3 L721.3 758.7 L722.7 768.0 L737.3 776.0 L753.3 782.7 L766.7 788.7 L780.0 796.0 L793.3 804.0 L806.7 812.0 L820.0 820.0 L833.3 830.7 L844.0 844.0 L853.3 857.3 L862.7 873.3 L870.7 886.7 L878.7 900.0 L885.3 913.3 L888.7 926.7 L888.7 940.0 L888.8 954.2 L899.6 983.0 L914.0 1007.0 L935.7 1031.0 L959.7 1047.8 L1001.0 1073.3 L1038.6 1088.2 L1066.6 1095.7 L1100.0 1104.5 L1125.8 1110.9 L1151.6 1114.8 L1170.9 1114.8 L1203.2 1119.3 L1216.1 1122.5 L1229.0 1129.6 L1241.9 1140.0 L1254.8 1154.1 L1267.7 1169.6 L1280.5 1185.1 L1297.3 1199.3 L1312.5 1213.0 L1330.0 1219.5 L1354.0 1224.4 L1420.0 1232.7 L1500.0 1239.0 L1600.0 1245.0 L1700.0 1250.3 L1720.0 1250.7" fill="none" stroke="#A0A0A0" stroke-width="5.8" stroke-linejoin="round" stroke-linecap="round"/>
<g fill="none" stroke-width="9" stroke-linejoin="round">
<path d="M1115.9 884.5 L1117.9 884.7 L1119.9 884.9 L1121.8 885.0 L1123.8 885.1 L1125.7 885.1 L1127.7 885.0 L1129.6 884.9 L1131.5 884.7 L1133.4 884.4 L1135.3 884.1 L1137.2 883.7 L1139.1 883.3 L1140.9 882.9 L1142.8 882.4 L1144.6 881.8 L1146.5 881.2 L1148.3 880.6 L1150.1 880.0 L1152.0 879.3 L1153.8 878.5 L1155.6 877.8 L1157.4 877.0 L1159.2 876.2 L1161.0 875.3 L1162.8 874.5 L1164.6 873.6 L1166.3 872.7 L1168.1 871.8 L1169.9 870.8 L1171.6 869.9 L1173.4 868.9 L1175.2 867.9 L1176.9 866.9 L1178.7 865.9 L1180.4 864.9 L1182.2 863.9 L1183.9 862.9 L1185.7 861.9 L1187.5 860.9 L1189.2 859.9 L1191.0 858.9 L1192.7 857.9 L1194.5 856.9 L1196.2 855.9 L1198.0 854.9 L1199.7 853.9 L1201.5 852.9 L1203.2 852.0 L1205.0 851.0 L1206.8 850.0 L1208.5 849.1 L1210.3 848.1 L1212.1 847.2 L1213.8 846.2 L1215.6 845.3 L1217.4 844.4 L1219.1 843.4 L1220.9 842.5 L1222.7 841.6 L1224.5 840.7 L1226.2 839.8 L1228.0 838.9 L1229.8 838.0 L1231.6 837.2 L1233.4 836.3 L1235.2 835.4 L1237.0 834.6 L1238.8 833.7 L1240.6 832.9 L1242.4 832.1 L1244.2 831.2 L1246.0 830.4 L1247.8 829.6 L1249.6 828.8 L1251.5 828.0 L1253.3 827.2 L1255.1 826.5 L1256.9 825.7 L1258.8 824.9 L1260.6 824.2 L1262.5 823.4 L1264.3 822.7 L1266.2 822.0 L1268.0 821.3 L1269.9 820.6 L1271.8 819.9 L1273.6 819.2 L1275.5 818.5 L1277.4 817.9 L1279.3 817.2 L1281.1 816.6 L1283.0 815.9 L1284.9 815.3 L1286.8 814.7 L1288.7 814.1 L1290.6 813.5 L1292.6 812.9 L1294.5 812.4 L1296.4 811.8 L1298.3 811.2 L1300.2 810.7 L1302.2 810.2 L1304.1 809.6 L1306.0 809.1 L1308.0 808.6 L1309.9 808.1 L1311.9 807.7 L1313.8 807.2 L1315.8 806.7 L1317.7 806.3 L1319.7 805.8 L1321.6 805.4 L1323.6 805.0 L1325.5 804.6 L1327.5 804.2 L1329.5 803.8 L1331.4 803.4 L1333.4 803.0 L1335.4 802.7 L1337.4 802.3 L1339.3 802.0 L1341.3 801.6 L1343.3 801.3 L1345.3 801.0 L1347.3 800.7 L1349.3 800.4 L1351.2 800.2 L1353.2 799.9 L1355.2 799.6 L1357.2 799.4 L1359.2 799.2 L1361.2 798.9 L1363.2 798.7 L1365.2 798.5 L1367.2 798.3 L1369.2 798.2 L1371.2 798.0 L1373.2 797.8 L1375.2 797.7 L1377.2 797.5 L1379.2 797.4 L1381.2 797.3 L1383.2 797.2 L1385.2 797.1 L1387.2 797.0 L1389.2 796.9 L1391.2 796.9 L1393.2 796.8 L1395.2 796.8 L1397.2 796.8 L1399.2 796.7 L1401.2 796.7 L1403.2 796.7 L1405.2 796.8 L1407.2 796.8 L1409.2 796.8 L1411.2 796.9 L1413.2 796.9 L1415.2 797.0 L1417.2 797.1 L1419.2 797.2 L1421.2 797.3 L1423.2 797.4 L1425.2 797.5 L1427.2 797.7 L1429.2 797.8 L1431.2 798.0 L1433.2 798.2 L1435.2 798.3 L1437.2 798.5 L1439.1 798.7 L1441.1 799.0 L1443.1 799.2 L1445.1 799.4 L1447.1 799.7 L1449.0 799.9 L1451.0 800.2 L1453.0 800.5 L1455.0 800.8 L1456.9 801.1 L1458.9 801.4 L1460.9 801.8 L1462.8 802.1 L1464.8 802.5 L1466.7 802.8 L1468.7 803.2 L1470.6 803.6 L1472.6 804.0 L1474.5 804.4 L1476.5 804.8 L1478.4 805.3 L1480.3 805.7 L1482.3 806.2 L1484.2 806.6 L1486.1 807.1 L1488.1 807.6 L1490.0 808.1 L1491.9 808.5 L1493.9 809.0 L1495.8 809.6 L1497.7 810.1 L1499.6 810.6 L1501.5 811.1 L1503.5 811.7 L1505.4 812.2 L1507.3 812.8 L1509.2 813.4 L1511.1 813.9 L1513.0 814.5 L1514.9 815.1 L1516.8 815.7 L1518.8 816.3 L1520.7 816.9 L1522.6 817.5 L1524.5 818.1 L1526.4 818.7 L1528.3 819.3 L1530.2 820.0 L1532.1 820.6 L1534.0 821.2 L1535.9 821.9 L1537.8 822.5 L1539.7 823.2 L1541.5 823.8 L1543.4 824.5 L1545.3 825.1 L1547.2 825.8 L1549.1 826.5 L1551.0 827.1 L1552.9 827.8 L1554.8 828.5 L1556.7 829.2 L1558.6 829.8 L1560.5 830.5 L1562.3 831.2 L1564.2 831.9 L1566.1 832.5 L1568.0 833.2 L1569.9 833.9 L1571.8 834.5 L1573.7 835.2 L1575.6 835.8 L1577.5 836.5 L1579.4 837.2 L1581.3 837.8 L1583.2 838.4 L1585.1 839.1 L1587.0 839.7 L1588.9 840.3 L1590.8 840.9 L1592.7 841.5 L1594.6 842.1 L1596.5 842.7 L1598.4 843.3 L1600.3 843.8 L1602.2 844.4 L1604.1 844.9 L1606.0 845.5 L1608.0 846.0 L1609.9 846.5 L1611.8 847.0 L1613.7 847.4 L1615.7 847.9 L1617.6 848.4 L1619.5 848.8 L1621.5 849.2 L1623.4 849.6 L1625.4 850.0 L1627.3 850.3 L1629.3 850.7 L1631.2 851.0 L1633.2 851.3 L1635.1 851.6 L1637.1 851.9 L1639.1 852.2 L1641.0 852.4 L1643.0 852.6 L1645.0 852.8 L1647.0 853.0 L1649.0 853.2 L1650.9 853.4 L1652.9 853.5 L1654.9 853.7 L1656.9 853.8 L1658.9 853.9 L1660.9 854.0 L1662.9 854.1 L1664.9 854.2 L1666.9 854.2 L1668.9 854.3 L1670.9 854.3 L1672.9 854.4 L1674.9 854.4 L1676.9 854.4 L1679.0 854.4 L1681.0 854.5 L1683.0 854.5 L1685.0 854.4 L1687.0 854.4 L1689.0 854.4 L1691.0 854.4 L1693.1 854.4 L1695.1 854.3 L1697.1 854.3 L1699.1 854.3 L1701.1 854.2 L1703.1 854.2 L1705.1 854.1 L1707.2 854.1 L1709.2 854.1 L1711.2 854.0 L1713.2 854.0 L1715.2 853.9 L1717.2 853.9 L1719.2 853.8 L1721.2 853.8 L1723.2 853.8 L1725.2 853.7 L1727.2 853.7 L1729.2 853.7 L1731.2 853.6 L1733.2 853.6 L1735.2 853.6 L1737.2 853.6 L1739.2 853.5 L1741.2 853.5 L1743.2 853.5 L1745.2 853.5 L1747.2 853.5 L1749.2 853.4 L1751.2 853.4 L1753.2 853.4 L1755.2 853.4 L1757.2 853.4 L1759.2 853.4 L1761.2 853.4 L1763.1 853.4 L1765.1 853.4 L1767.1 853.3 L1769.1 853.3 L1771.1 853.3 L1773.1 853.3 L1775.1 853.3 L1777.1 853.3 L1779.1 853.3 L1781.0 853.3 L1783.0 853.3 L1785.0 853.3 L1787.0 853.3 L1789.0 853.2 L1791.0 853.2 L1793.0 853.2 L1795.0 853.2 L1797.0 853.2 L1799.0 853.2 L1800.9 853.2 L1802.9 853.1 L1804.9 853.1 L1806.9 853.1 L1808.9 853.1 L1810.9 853.1 L1812.9 853.0 L1814.9 853.0 L1816.9 853.0 L1818.9 853.0 L1820.9 852.9 L1822.9 852.9 L1824.9 852.9 L1826.9 852.8 L1828.9 852.8 L1830.9 852.7 L1833.0 852.7 L1835.0 852.6 L1837.0 852.6 L1839.0 852.5 L1841.0 852.5" stroke="#000000"/>
<path d="M1116.3 824.4 L1118.2 824.2 L1120.1 823.9 L1122.1 823.7 L1124.0 823.4 L1125.9 823.0 L1127.8 822.7 L1129.7 822.3 L1131.6 821.8 L1133.5 821.4 L1135.4 820.9 L1137.3 820.4 L1139.2 819.9 L1141.0 819.4 L1142.9 818.8 L1144.8 818.2 L1146.6 817.6 L1148.5 817.0 L1150.3 816.3 L1152.2 815.6 L1154.0 815.0 L1155.9 814.3 L1157.7 813.5 L1159.5 812.8 L1161.4 812.1 L1163.2 811.3 L1165.0 810.5 L1166.8 809.7 L1168.7 808.9 L1170.5 808.1 L1172.3 807.3 L1174.1 806.5 L1175.9 805.6 L1177.7 804.8 L1179.5 803.9 L1181.4 803.1 L1183.2 802.2 L1185.0 801.3 L1186.8 800.4 L1188.6 799.6 L1190.4 798.7 L1192.2 797.8 L1194.0 796.9 L1195.8 796.0 L1197.7 795.2 L1199.5 794.3 L1201.3 793.4 L1203.1 792.5 L1204.9 791.7 L1206.7 790.8 L1208.5 789.9 L1210.4 789.1 L1212.2 788.2 L1214.0 787.3 L1215.8 786.5 L1217.7 785.7 L1219.5 784.8 L1221.3 784.0 L1223.2 783.2 L1225.0 782.3 L1226.8 781.5 L1228.7 780.7 L1230.5 779.9 L1232.4 779.1 L1234.2 778.3 L1236.1 777.5 L1237.9 776.8 L1239.8 776.0 L1241.6 775.2 L1243.5 774.5 L1245.4 773.8 L1247.2 773.0 L1249.1 772.3 L1251.0 771.6 L1252.8 770.9 L1254.7 770.2 L1256.6 769.5 L1258.5 768.9 L1260.4 768.2 L1262.2 767.6 L1264.1 766.9 L1266.0 766.3 L1267.9 765.7 L1269.8 765.1 L1271.7 764.5 L1273.6 764.0 L1275.6 763.4 L1277.5 762.9 L1279.4 762.4 L1281.3 761.9 L1283.2 761.4 L1285.2 760.9 L1287.1 760.4 L1289.0 760.0 L1291.0 759.5 L1292.9 759.1 L1294.9 758.7 L1296.8 758.3 L1298.8 757.9 L1300.7 757.5 L1302.7 757.2 L1304.6 756.8 L1306.6 756.5 L1308.6 756.2 L1310.5 755.9 L1312.5 755.6 L1314.5 755.3 L1316.5 755.0 L1318.4 754.8 L1320.4 754.6 L1322.4 754.3 L1324.4 754.1 L1326.4 753.9 L1328.4 753.7 L1330.3 753.6 L1332.3 753.4 L1334.3 753.2 L1336.3 753.1 L1338.3 753.0 L1340.3 752.9 L1342.3 752.8 L1344.3 752.7 L1346.3 752.6 L1348.3 752.5 L1350.3 752.5 L1352.3 752.4 L1354.3 752.4 L1356.3 752.4 L1358.3 752.4 L1360.3 752.4 L1362.3 752.4 L1364.3 752.4 L1366.3 752.5 L1368.4 752.5 L1370.4 752.6 L1372.4 752.7 L1374.4 752.7 L1376.4 752.8 L1378.4 752.9 L1380.4 753.0 L1382.4 753.2 L1384.4 753.3 L1386.4 753.4 L1388.4 753.6 L1390.4 753.8 L1392.4 753.9 L1394.4 754.1 L1396.4 754.3 L1398.4 754.5 L1400.4 754.8 L1402.4 755.0 L1404.4 755.2 L1406.4 755.5 L1408.4 755.7 L1410.4 756.0 L1412.4 756.3 L1414.4 756.5 L1416.4 756.8 L1418.3 757.1 L1420.3 757.4 L1422.3 757.8 L1424.3 758.1 L1426.3 758.4 L1428.2 758.8 L1430.2 759.1 L1432.2 759.5 L1434.2 759.9 L1436.1 760.3 L1438.1 760.6 L1440.1 761.0 L1442.0 761.4 L1444.0 761.9 L1445.9 762.3 L1447.9 762.7 L1449.8 763.2 L1451.8 763.6 L1453.7 764.1 L1455.6 764.5 L1457.6 765.0 L1459.5 765.5 L1461.4 766.0 L1463.4 766.5 L1465.3 767.0 L1467.2 767.5 L1469.1 768.0 L1471.1 768.5 L1473.0 769.1 L1474.9 769.6 L1476.8 770.2 L1478.7 770.8 L1480.6 771.3 L1482.5 771.9 L1484.4 772.5 L1486.3 773.1 L1488.2 773.7 L1490.1 774.3 L1492.0 775.0 L1493.9 775.6 L1495.8 776.2 L1497.6 776.9 L1499.5 777.5 L1501.4 778.2 L1503.3 778.9 L1505.1 779.6 L1507.0 780.3 L1508.9 781.0 L1510.7 781.7 L1512.6 782.4 L1514.4 783.1 L1516.3 783.9 L1518.2 784.6 L1520.0 785.4 L1521.8 786.1 L1523.7 786.9 L1525.5 787.7 L1527.4 788.5 L1529.2 789.3 L1531.0 790.1 L1532.9 790.9 L1534.7 791.7 L1536.5 792.5 L1538.4 793.4 L1540.2 794.2 L1542.0 795.1 L1543.8 795.9 L1545.6 796.8 L1547.5 797.6 L1549.3 798.5 L1551.1 799.4 L1552.9 800.2 L1554.7 801.1 L1556.5 802.0 L1558.3 802.9 L1560.2 803.7 L1562.0 804.6 L1563.8 805.5 L1565.6 806.4 L1567.4 807.2 L1569.2 808.1 L1571.0 809.0 L1572.9 809.8 L1574.7 810.7 L1576.5 811.5 L1578.3 812.4 L1580.1 813.2 L1581.9 814.1 L1583.8 814.9 L1585.6 815.7 L1587.4 816.5 L1589.3 817.3 L1591.1 818.1 L1592.9 818.9 L1594.8 819.7 L1596.6 820.5 L1598.4 821.2 L1600.3 822.0 L1602.1 822.7 L1604.0 823.4 L1605.9 824.2 L1607.7 824.9 L1609.6 825.5 L1611.4 826.2 L1613.3 826.9 L1615.2 827.5 L1617.1 828.1 L1619.0 828.7 L1620.9 829.3 L1622.7 829.9 L1624.6 830.5 L1626.5 831.0 L1628.4 831.6 L1630.3 832.1 L1632.3 832.6 L1634.2 833.1 L1636.1 833.6 L1638.0 834.1 L1639.9 834.6 L1641.9 835.0 L1643.8 835.5 L1645.7 835.9 L1647.7 836.3 L1649.6 836.7 L1651.5 837.1 L1653.5 837.5 L1655.4 837.9 L1657.4 838.2 L1659.3 838.6 L1661.3 838.9 L1663.3 839.3 L1665.2 839.6 L1667.2 839.9 L1669.1 840.2 L1671.1 840.5 L1673.1 840.8 L1675.1 841.1 L1677.0 841.3 L1679.0 841.6 L1681.0 841.8 L1683.0 842.1 L1684.9 842.3 L1686.9 842.5 L1688.9 842.8 L1690.9 843.0 L1692.9 843.2 L1694.9 843.4 L1696.9 843.6 L1698.9 843.7 L1700.9 843.9 L1702.9 844.1 L1704.9 844.2 L1706.9 844.4 L1708.9 844.5 L1710.9 844.7 L1712.9 844.8 L1714.9 845.0 L1716.9 845.1 L1718.9 845.2 L1720.9 845.3 L1722.9 845.4 L1724.9 845.6 L1726.9 845.7 L1728.9 845.8 L1731.0 845.8 L1733.0 845.9 L1735.0 846.0 L1737.0 846.1 L1739.0 846.2 L1741.0 846.3 L1743.0 846.3 L1745.1 846.4 L1747.1 846.5 L1749.1 846.5 L1751.1 846.6 L1753.1 846.7 L1755.1 846.7 L1757.1 846.8 L1759.2 846.8 L1761.2 846.9 L1763.2 847.0 L1765.2 847.0 L1767.2 847.1 L1769.2 847.1 L1771.2 847.2 L1773.2 847.2 L1775.3 847.3 L1777.3 847.3 L1779.3 847.4 L1781.3 847.4 L1783.3 847.5 L1785.3 847.5 L1787.3 847.6 L1789.3 847.6 L1791.3 847.7 L1793.3 847.7 L1795.3 847.8 L1797.3 847.8 L1799.3 847.9 L1801.3 848.0 L1803.3 848.0 L1805.3 848.1 L1807.3 848.2 L1809.3 848.2 L1811.3 848.3 L1813.3 848.4 L1815.2 848.5 L1817.2 848.6 L1819.2 848.7 L1821.2 848.8 L1823.2 848.8 L1825.1 849.0 L1827.1 849.1 L1829.1 849.2 L1831.1 849.3 L1833.0 849.4 L1835.0 849.5 L1837.0 849.7 L1838.9 849.8 L1840.9 849.9" stroke="#FF0000"/>
<path d="M1116.1 763.5 L1118.1 763.4 L1120.1 763.3 L1122.1 763.2 L1124.1 763.0 L1126.0 762.8 L1128.0 762.5 L1130.0 762.3 L1131.9 762.0 L1133.9 761.6 L1135.8 761.3 L1137.7 760.9 L1139.7 760.5 L1141.6 760.1 L1143.5 759.6 L1145.4 759.1 L1147.4 758.6 L1149.3 758.1 L1151.2 757.6 L1153.1 757.0 L1155.0 756.5 L1156.9 755.9 L1158.8 755.3 L1160.7 754.7 L1162.6 754.0 L1164.4 753.4 L1166.3 752.7 L1168.2 752.1 L1170.1 751.4 L1172.0 750.7 L1173.9 750.0 L1175.7 749.3 L1177.6 748.6 L1179.5 747.9 L1181.4 747.2 L1183.2 746.5 L1185.1 745.8 L1187.0 745.1 L1188.9 744.4 L1190.8 743.7 L1192.6 743.0 L1194.5 742.3 L1196.4 741.6 L1198.3 741.0 L1200.2 740.3 L1202.0 739.6 L1203.9 738.9 L1205.8 738.3 L1207.7 737.6 L1209.6 736.9 L1211.5 736.3 L1213.4 735.6 L1215.2 735.0 L1217.1 734.3 L1219.0 733.7 L1220.9 733.1 L1222.8 732.4 L1224.7 731.8 L1226.6 731.2 L1228.5 730.6 L1230.4 730.0 L1232.3 729.4 L1234.2 728.8 L1236.1 728.2 L1238.0 727.7 L1239.9 727.1 L1241.8 726.5 L1243.7 726.0 L1245.7 725.4 L1247.6 724.9 L1249.5 724.4 L1251.4 723.9 L1253.3 723.4 L1255.2 722.9 L1257.2 722.4 L1259.1 721.9 L1261.0 721.4 L1263.0 720.9 L1264.9 720.5 L1266.8 720.0 L1268.8 719.6 L1270.7 719.2 L1272.6 718.8 L1274.6 718.4 L1276.5 718.0 L1278.5 717.6 L1280.4 717.2 L1282.4 716.8 L1284.3 716.5 L1286.3 716.1 L1288.2 715.8 L1290.2 715.5 L1292.2 715.2 L1294.1 714.9 L1296.1 714.6 L1298.1 714.3 L1300.1 714.1 L1302.0 713.8 L1304.0 713.6 L1306.0 713.4 L1308.0 713.2 L1310.0 713.0 L1312.0 712.8 L1313.9 712.6 L1315.9 712.4 L1317.9 712.3 L1319.9 712.1 L1321.9 712.0 L1323.9 711.9 L1325.9 711.8 L1327.9 711.7 L1329.9 711.6 L1331.9 711.5 L1333.9 711.4 L1335.9 711.4 L1337.9 711.3 L1339.9 711.3 L1341.9 711.3 L1343.9 711.3 L1345.9 711.3 L1347.9 711.3 L1349.9 711.3 L1351.9 711.4 L1354.0 711.4 L1356.0 711.5 L1358.0 711.5 L1360.0 711.6 L1362.0 711.7 L1364.0 711.8 L1366.0 711.9 L1368.0 712.0 L1370.0 712.1 L1372.0 712.3 L1374.0 712.4 L1376.0 712.6 L1378.0 712.8 L1380.0 713.0 L1382.0 713.2 L1384.0 713.4 L1386.0 713.6 L1388.0 713.8 L1390.0 714.0 L1392.0 714.3 L1394.0 714.5 L1396.0 714.8 L1398.0 715.1 L1400.0 715.4 L1402.0 715.7 L1403.9 716.0 L1405.9 716.3 L1407.9 716.6 L1409.9 717.0 L1411.9 717.3 L1413.8 717.7 L1415.8 718.1 L1417.8 718.4 L1419.8 718.8 L1421.7 719.2 L1423.7 719.6 L1425.6 720.1 L1427.6 720.5 L1429.6 720.9 L1431.5 721.4 L1433.5 721.8 L1435.4 722.3 L1437.4 722.8 L1439.3 723.3 L1441.2 723.8 L1443.2 724.3 L1445.1 724.8 L1447.0 725.3 L1448.9 725.9 L1450.9 726.4 L1452.8 727.0 L1454.7 727.5 L1456.6 728.1 L1458.5 728.7 L1460.4 729.3 L1462.3 729.9 L1464.2 730.5 L1466.1 731.1 L1468.0 731.8 L1469.8 732.4 L1471.7 733.0 L1473.6 733.7 L1475.5 734.4 L1477.3 735.0 L1479.2 735.7 L1481.1 736.4 L1482.9 737.1 L1484.8 737.8 L1486.6 738.5 L1488.5 739.2 L1490.3 740.0 L1492.2 740.7 L1494.0 741.4 L1495.8 742.2 L1497.7 742.9 L1499.5 743.7 L1501.3 744.5 L1503.2 745.2 L1505.0 746.0 L1506.8 746.8 L1508.6 747.6 L1510.4 748.4 L1512.3 749.2 L1514.1 750.0 L1515.9 750.8 L1517.7 751.6 L1519.5 752.4 L1521.3 753.2 L1523.1 754.1 L1524.9 754.9 L1526.7 755.7 L1528.6 756.6 L1530.4 757.4 L1532.2 758.2 L1534.0 759.1 L1535.8 759.9 L1537.6 760.8 L1539.4 761.6 L1541.2 762.5 L1543.0 763.4 L1544.8 764.2 L1546.6 765.1 L1548.4 765.9 L1550.2 766.8 L1552.0 767.7 L1553.8 768.5 L1555.6 769.4 L1557.3 770.3 L1559.1 771.2 L1560.9 772.0 L1562.7 772.9 L1564.5 773.8 L1566.4 774.7 L1568.2 775.5 L1570.0 776.4 L1571.8 777.3 L1573.6 778.1 L1575.4 779.0 L1577.2 779.9 L1579.0 780.7 L1580.8 781.6 L1582.6 782.5 L1584.4 783.3 L1586.2 784.2 L1588.0 785.0 L1589.9 785.9 L1591.7 786.7 L1593.5 787.6 L1595.3 788.4 L1597.1 789.2 L1599.0 790.0 L1600.8 790.9 L1602.6 791.7 L1604.4 792.5 L1606.3 793.3 L1608.1 794.1 L1609.9 794.9 L1611.8 795.6 L1613.6 796.4 L1615.5 797.2 L1617.3 797.9 L1619.2 798.7 L1621.0 799.4 L1622.9 800.2 L1624.7 800.9 L1626.6 801.6 L1628.4 802.3 L1630.3 803.0 L1632.2 803.7 L1634.0 804.3 L1635.9 805.0 L1637.8 805.7 L1639.7 806.3 L1641.6 806.9 L1643.5 807.5 L1645.3 808.1 L1647.2 808.7 L1649.1 809.3 L1651.0 809.9 L1653.0 810.4 L1654.9 811.0 L1656.8 811.5 L1658.7 812.0 L1660.6 812.5 L1662.5 813.0 L1664.5 813.5 L1666.4 813.9 L1668.3 814.4 L1670.3 814.8 L1672.2 815.2 L1674.2 815.6 L1676.1 816.0 L1678.1 816.4 L1680.1 816.8 L1682.0 817.1 L1684.0 817.5 L1685.9 817.8 L1687.9 818.1 L1689.9 818.4 L1691.9 818.7 L1693.8 819.0 L1695.8 819.3 L1697.8 819.6 L1699.8 819.9 L1701.8 820.2 L1703.8 820.4 L1705.7 820.7 L1707.7 820.9 L1709.7 821.2 L1711.7 821.4 L1713.7 821.6 L1715.7 821.9 L1717.7 822.1 L1719.7 822.3 L1721.7 822.5 L1723.7 822.7 L1725.7 822.9 L1727.7 823.1 L1729.7 823.3 L1731.7 823.5 L1733.7 823.7 L1735.7 823.9 L1737.7 824.1 L1739.7 824.3 L1741.7 824.5 L1743.7 824.7 L1745.7 824.9 L1747.7 825.1 L1749.7 825.3 L1751.7 825.5 L1753.7 825.6 L1755.7 825.8 L1757.7 826.0 L1759.7 826.2 L1761.7 826.5 L1763.7 826.7 L1765.7 826.9 L1767.7 827.1 L1769.7 827.3 L1771.6 827.5 L1773.6 827.7 L1775.6 828.0 L1777.6 828.2 L1779.6 828.4 L1781.6 828.6 L1783.5 828.9 L1785.5 829.1 L1787.5 829.3 L1789.5 829.6 L1791.5 829.8 L1793.4 830.0 L1795.4 830.3 L1797.4 830.5 L1799.4 830.7 L1801.3 831.0 L1803.3 831.2 L1805.3 831.5 L1807.3 831.7 L1809.3 831.9 L1811.2 832.2 L1813.2 832.4 L1815.2 832.7 L1817.2 832.9 L1819.1 833.1 L1821.1 833.4 L1823.1 833.6 L1825.1 833.8 L1827.0 834.1 L1829.0 834.3 L1831.0 834.5 L1833.0 834.8 L1834.9 835.0 L1836.9 835.2 L1838.9 835.4 L1840.9 835.7" stroke="#00FF00"/>
<path d="M1115.9 668.6 L1117.7 669.2 L1119.6 669.8 L1121.5 670.2 L1123.4 670.6 L1125.3 671.0 L1127.3 671.2 L1129.2 671.4 L1131.1 671.6 L1133.1 671.7 L1135.0 671.7 L1137.0 671.7 L1139.0 671.7 L1140.9 671.7 L1142.9 671.6 L1144.9 671.5 L1146.8 671.4 L1148.8 671.2 L1150.8 671.0 L1152.8 670.9 L1154.8 670.7 L1156.8 670.5 L1158.8 670.3 L1160.7 670.1 L1162.7 669.9 L1164.7 669.7 L1166.7 669.5 L1168.7 669.3 L1170.7 669.2 L1172.7 669.0 L1174.6 668.8 L1176.6 668.6 L1178.6 668.4 L1180.6 668.3 L1182.6 668.1 L1184.6 667.9 L1186.6 667.7 L1188.6 667.6 L1190.5 667.4 L1192.5 667.3 L1194.5 667.1 L1196.5 666.9 L1198.5 666.8 L1200.5 666.6 L1202.5 666.5 L1204.5 666.3 L1206.5 666.2 L1208.5 666.0 L1210.5 665.9 L1212.5 665.7 L1214.5 665.6 L1216.5 665.5 L1218.5 665.3 L1220.5 665.2 L1222.5 665.1 L1224.5 665.0 L1226.5 664.8 L1228.5 664.7 L1230.5 664.6 L1232.5 664.5 L1234.5 664.4 L1236.5 664.3 L1238.5 664.3 L1240.5 664.2 L1242.5 664.1 L1244.5 664.1 L1246.5 664.0 L1248.6 663.9 L1250.6 663.9 L1252.6 663.9 L1254.6 663.8 L1256.6 663.8 L1258.6 663.8 L1260.6 663.8 L1262.6 663.8 L1264.6 663.8 L1266.6 663.9 L1268.6 663.9 L1270.6 664.0 L1272.6 664.0 L1274.5 664.1 L1276.5 664.2 L1278.5 664.3 L1280.5 664.4 L1282.5 664.5 L1284.5 664.6 L1286.5 664.8 L1288.5 664.9 L1290.4 665.1 L1292.4 665.3 L1294.4 665.4 L1296.4 665.6 L1298.3 665.9 L1300.3 666.1 L1302.3 666.3 L1304.2 666.6 L1306.2 666.9 L1308.2 667.1 L1310.1 667.4 L1312.1 667.7 L1314.1 668.0 L1316.0 668.3 L1318.0 668.7 L1319.9 669.0 L1321.9 669.4 L1323.8 669.7 L1325.8 670.1 L1327.7 670.5 L1329.7 670.9 L1331.6 671.3 L1333.5 671.7 L1335.5 672.1 L1337.4 672.6 L1339.4 673.0 L1341.3 673.5 L1343.2 673.9 L1345.2 674.4 L1347.1 674.9 L1349.0 675.3 L1351.0 675.8 L1352.9 676.3 L1354.8 676.8 L1356.7 677.4 L1358.6 677.9 L1360.6 678.4 L1362.5 679.0 L1364.4 679.5 L1366.3 680.1 L1368.2 680.6 L1370.2 681.2 L1372.1 681.8 L1374.0 682.3 L1375.9 682.9 L1377.8 683.5 L1379.7 684.1 L1381.6 684.7 L1383.5 685.3 L1385.4 685.9 L1387.3 686.6 L1389.2 687.2 L1391.1 687.8 L1393.0 688.5 L1394.9 689.1 L1396.8 689.7 L1398.7 690.4 L1400.6 691.0 L1402.5 691.7 L1404.4 692.4 L1406.3 693.0 L1408.2 693.7 L1410.1 694.4 L1412.0 695.1 L1413.8 695.7 L1415.7 696.4 L1417.6 697.1 L1419.5 697.8 L1421.4 698.5 L1423.3 699.2 L1425.2 699.9 L1427.0 700.6 L1428.9 701.3 L1430.8 702.0 L1432.7 702.7 L1434.5 703.4 L1436.4 704.1 L1438.3 704.8 L1440.2 705.5 L1442.1 706.2 L1443.9 706.9 L1445.8 707.6 L1447.7 708.4 L1449.5 709.1 L1451.4 709.8 L1453.3 710.5 L1455.2 711.2 L1457.0 711.9 L1458.9 712.6 L1460.8 713.3 L1462.6 714.0 L1464.5 714.8 L1466.4 715.5 L1468.2 716.2 L1470.1 716.9 L1472.0 717.6 L1473.8 718.3 L1475.7 719.0 L1477.6 719.7 L1479.4 720.4 L1481.3 721.1 L1483.1 721.9 L1485.0 722.6 L1486.8 723.3 L1488.7 724.0 L1490.6 724.7 L1492.4 725.4 L1494.3 726.2 L1496.1 726.9 L1498.0 727.6 L1499.8 728.3 L1501.7 729.0 L1503.5 729.8 L1505.4 730.5 L1507.2 731.2 L1509.1 732.0 L1510.9 732.7 L1512.7 733.5 L1514.6 734.2 L1516.4 735.0 L1518.2 735.7 L1520.1 736.5 L1521.9 737.2 L1523.7 738.0 L1525.6 738.8 L1527.4 739.5 L1529.2 740.3 L1531.1 741.1 L1532.9 741.9 L1534.7 742.7 L1536.5 743.5 L1538.3 744.3 L1540.2 745.1 L1542.0 745.9 L1543.8 746.7 L1545.6 747.5 L1547.4 748.3 L1549.2 749.2 L1551.0 750.0 L1552.8 750.8 L1554.6 751.7 L1556.4 752.6 L1558.2 753.4 L1560.0 754.3 L1561.8 755.2 L1563.6 756.0 L1565.4 756.9 L1567.2 757.8 L1569.0 758.7 L1570.8 759.6 L1572.5 760.5 L1574.3 761.5 L1576.1 762.4 L1577.9 763.3 L1579.6 764.3 L1581.4 765.2 L1583.2 766.2 L1584.9 767.1 L1586.7 768.1 L1588.5 769.0 L1590.3 770.0 L1592.0 770.9 L1593.8 771.9 L1595.6 772.8 L1597.3 773.8 L1599.1 774.7 L1600.9 775.7 L1602.6 776.6 L1604.4 777.5 L1606.2 778.5 L1608.0 779.4 L1609.8 780.3 L1611.5 781.2 L1613.3 782.1 L1615.1 783.0 L1616.9 783.9 L1618.7 784.8 L1620.5 785.7 L1622.3 786.5 L1624.1 787.4 L1625.9 788.2 L1627.7 789.0 L1629.5 789.8 L1631.3 790.6 L1633.2 791.4 L1635.0 792.2 L1636.8 792.9 L1638.7 793.7 L1640.5 794.4 L1642.4 795.1 L1644.2 795.8 L1646.1 796.4 L1648.0 797.1 L1649.8 797.7 L1651.7 798.3 L1653.6 798.9 L1655.5 799.4 L1657.4 800.0 L1659.3 800.5 L1661.2 801.0 L1663.1 801.5 L1665.1 802.0 L1667.0 802.4 L1668.9 802.9 L1670.9 803.3 L1672.8 803.7 L1674.8 804.1 L1676.7 804.5 L1678.7 804.9 L1680.6 805.2 L1682.6 805.6 L1684.6 805.9 L1686.5 806.2 L1688.5 806.6 L1690.5 806.9 L1692.5 807.2 L1694.4 807.5 L1696.4 807.7 L1698.4 808.0 L1700.4 808.3 L1702.4 808.5 L1704.4 808.8 L1706.4 809.1 L1708.4 809.3 L1710.4 809.5 L1712.4 809.8 L1714.4 810.0 L1716.4 810.3 L1718.4 810.5 L1720.4 810.7 L1722.4 811.0 L1724.4 811.2 L1726.4 811.4 L1728.4 811.7 L1730.4 811.9 L1732.4 812.2 L1734.4 812.4 L1736.4 812.7 L1738.4 812.9 L1740.4 813.2 L1742.3 813.4 L1744.3 813.7 L1746.3 814.0 L1748.3 814.3 L1750.3 814.6 L1752.3 814.9 L1754.2 815.2 L1756.2 815.5 L1758.2 815.8 L1760.2 816.1 L1762.1 816.5 L1764.1 816.9 L1766.0 817.2 L1768.0 817.6 L1770.0 818.0 L1771.9 818.4 L1773.9 818.8 L1775.8 819.2 L1777.7 819.6 L1779.7 820.0 L1781.6 820.4 L1783.6 820.8 L1785.5 821.2 L1787.5 821.6 L1789.4 821.9 L1791.4 822.3 L1793.3 822.7 L1795.3 823.1 L1797.2 823.4 L1799.2 823.8 L1801.1 824.1 L1803.1 824.4 L1805.0 824.8 L1807.0 825.1 L1809.0 825.3 L1810.9 825.6 L1812.9 825.8 L1814.9 826.1 L1816.9 826.3 L1818.8 826.5 L1820.8 826.6 L1822.8 826.8 L1824.8 826.9 L1826.8 827.0 L1828.9 827.0 L1830.9 827.1 L1832.9 827.1 L1834.9 827.0 L1837.0 827.0 L1839.0 826.9 L1841.1 826.8" stroke="#0000FF"/>
<path d="M1116.8 574.0 L1117.4 576.0 L1118.1 577.9 L1118.7 579.8 L1119.3 581.7 L1119.9 583.6 L1120.6 585.5 L1121.2 587.4 L1121.8 589.3 L1122.4 591.2 L1123.0 593.1 L1123.6 595.0 L1124.2 596.9 L1124.8 598.8 L1125.4 600.7 L1126.1 602.6 L1126.7 604.4 L1127.3 606.3 L1128.0 608.2 L1128.6 610.0 L1129.3 611.9 L1130.0 613.7 L1130.7 615.6 L1131.4 617.4 L1132.1 619.3 L1132.8 621.1 L1133.6 622.9 L1134.3 624.8 L1135.1 626.6 L1135.9 628.4 L1136.7 630.2 L1137.6 632.0 L1138.4 633.8 L1139.3 635.5 L1140.2 637.3 L1141.2 639.1 L1142.1 640.9 L1143.1 642.6 L1144.1 644.4 L1145.1 646.1 L1146.2 647.8 L1147.3 649.5 L1148.4 651.2 L1149.5 652.9 L1150.7 654.6 L1151.8 656.3 L1153.0 657.9 L1154.2 659.5 L1155.5 661.2 L1156.7 662.8 L1158.0 664.3 L1159.3 665.9 L1160.6 667.4 L1162.0 669.0 L1163.3 670.5 L1164.7 671.9 L1166.1 673.4 L1167.5 674.8 L1169.0 676.2 L1170.4 677.6 L1171.9 679.0 L1173.4 680.3 L1174.9 681.6 L1176.5 682.9 L1178.0 684.2 L1179.6 685.4 L1181.2 686.6 L1182.8 687.8 L1184.4 688.9 L1186.0 690.0 L1187.7 691.1 L1189.3 692.1 L1191.0 693.1 L1192.7 694.1 L1194.4 695.0 L1196.2 696.0 L1197.9 696.8 L1199.6 697.7 L1201.4 698.5 L1203.2 699.3 L1205.0 700.1 L1206.8 700.8 L1208.6 701.5 L1210.5 702.2 L1212.3 702.8 L1214.1 703.5 L1216.0 704.1 L1217.9 704.7 L1219.8 705.2 L1221.7 705.8 L1223.6 706.3 L1225.5 706.8 L1227.4 707.3 L1229.3 707.8 L1231.3 708.2 L1233.2 708.7 L1235.2 709.1 L1237.1 709.5 L1239.1 709.9 L1241.0 710.3 L1243.0 710.6 L1245.0 711.0 L1247.0 711.3 L1249.0 711.7 L1251.0 712.0 L1253.0 712.3 L1255.0 712.6 L1257.0 712.9 L1259.0 713.2 L1261.0 713.5 L1263.0 713.8 L1265.0 714.1 L1267.0 714.3 L1269.0 714.6 L1271.0 714.9 L1273.0 715.1 L1275.0 715.4 L1277.1 715.7 L1279.1 715.9 L1281.1 716.2 L1283.1 716.5 L1285.1 716.8 L1287.1 717.0 L1289.1 717.3 L1291.1 717.6 L1293.1 717.9 L1295.1 718.2 L1297.1 718.5 L1299.0 718.8 L1301.0 719.2 L1303.0 719.5 L1305.0 719.8 L1306.9 720.2 L1308.9 720.5 L1310.9 720.9 L1312.8 721.2 L1314.8 721.6 L1316.7 722.0 L1318.7 722.4 L1320.6 722.8 L1322.6 723.2 L1324.5 723.6 L1326.4 724.0 L1328.4 724.5 L1330.3 724.9 L1332.2 725.4 L1334.1 725.8 L1336.0 726.3 L1337.9 726.8 L1339.8 727.3 L1341.7 727.8 L1343.6 728.3 L1345.5 728.9 L1347.4 729.4 L1349.3 730.0 L1351.2 730.6 L1353.1 731.1 L1354.9 731.7 L1356.8 732.3 L1358.7 733.0 L1360.5 733.6 L1362.4 734.3 L1364.2 734.9 L1366.1 735.6 L1367.9 736.3 L1369.8 737.0 L1371.6 737.7 L1373.4 738.5 L1375.3 739.2 L1377.1 740.0 L1378.9 740.8 L1380.7 741.6 L1382.5 742.4 L1384.3 743.3 L1386.1 744.1 L1387.9 745.0 L1389.7 745.8 L1391.5 746.7 L1393.3 747.6 L1395.1 748.5 L1396.8 749.4 L1398.6 750.3 L1400.4 751.3 L1402.2 752.2 L1404.0 753.1 L1405.7 754.1 L1407.5 755.0 L1409.3 755.9 L1411.1 756.9 L1412.9 757.8 L1414.7 758.7 L1416.5 759.7 L1418.3 760.6 L1420.1 761.5 L1421.9 762.4 L1423.7 763.4 L1425.5 764.3 L1427.3 765.2 L1429.1 766.0 L1430.9 766.9 L1432.8 767.8 L1434.6 768.6 L1436.4 769.5 L1438.3 770.3 L1440.1 771.1 L1442.0 771.9 L1443.9 772.7 L1445.7 773.4 L1447.6 774.2 L1449.5 774.9 L1451.4 775.7 L1453.3 776.4 L1455.2 777.1 L1457.1 777.8 L1458.9 778.6 L1460.8 779.3 L1462.7 780.0 L1464.6 780.7 L1466.5 781.4 L1468.3 782.2 L1470.2 782.9 L1472.1 783.7 L1473.9 784.4 L1475.8 785.2 L1477.6 786.0 L1479.4 786.8 L1481.2 787.6 L1483.0 788.4 L1484.8 789.3 L1486.6 790.2 L1488.3 791.1 L1490.1 792.0 L1491.8 792.9 L1493.5 793.8 L1495.3 794.8 L1497.0 795.8 L1498.7 796.8 L1500.4 797.8 L1502.0 798.8 L1503.7 799.8 L1505.4 800.9 L1507.0 801.9 L1508.7 803.0 L1510.3 804.1 L1511.9 805.2 L1513.5 806.3 L1515.2 807.4 L1516.8 808.5 L1518.4 809.7 L1520.0 810.8 L1521.5 812.0 L1523.1 813.2 L1524.7 814.4 L1526.3 815.5 L1527.8 816.8 L1529.4 818.0 L1531.0 819.2 L1532.5 820.4 L1534.1 821.6 L1535.6 822.9 L1537.1 824.1 L1538.7 825.4 L1540.2 826.7 L1541.8 827.9 L1543.3 829.2 L1544.8 830.5 L1546.3 831.8 L1547.9 833.1 L1549.4 834.3 L1550.9 835.6 L1552.4 836.9 L1554.0 838.2 L1555.5 839.6 L1557.0 840.9 L1558.5 842.2 L1560.1 843.5 L1561.6 844.8 L1563.1 846.1 L1564.6 847.4 L1566.2 848.7 L1567.7 850.1 L1569.2 851.4 L1570.8 852.7 L1572.3 854.0 L1573.8 855.3 L1575.4 856.6 L1576.9 857.9 L1578.5 859.2 L1580.0 860.5 L1581.6 861.8 L1583.2 863.1 L1584.7 864.4 L1586.3 865.7 L1587.9 867.0 L1589.4 868.2 L1591.0 869.5 L1592.6 870.8 L1594.2 872.0 L1595.8 873.3 L1597.4 874.5 L1599.0 875.7 L1600.6 877.0 L1602.2 878.2 L1603.8 879.4 L1605.4 880.6 L1607.0 881.8 L1608.7 882.9 L1610.3 884.1 L1611.9 885.2 L1613.6 886.4 L1615.2 887.5 L1616.9 888.6 L1618.5 889.7 L1620.2 890.8 L1621.9 891.9 L1623.6 893.0 L1625.2 894.0 L1626.9 895.0 L1628.6 896.1 L1630.3 897.1 L1632.0 898.0 L1633.8 899.0 L1635.5 900.0 L1637.2 900.9 L1639.0 901.8 L1640.7 902.7 L1642.4 903.6 L1644.2 904.5 L1646.0 905.3 L1647.7 906.1 L1649.5 906.9 L1651.3 907.7 L1653.1 908.5 L1654.9 909.2 L1656.7 909.9 L1658.5 910.6 L1660.4 911.3 L1662.2 911.9 L1664.0 912.6 L1665.9 913.2 L1667.8 913.8 L1669.6 914.3 L1671.5 914.8 L1673.4 915.3 L1675.3 915.8 L1677.2 916.3 L1679.1 916.7 L1681.0 917.1 L1682.9 917.5 L1684.9 917.9 L1686.8 918.2 L1688.8 918.6 L1690.7 918.9 L1692.7 919.1 L1694.6 919.4 L1696.6 919.7 L1698.6 919.9 L1700.6 920.1 L1702.5 920.3 L1704.5 920.5 L1706.5 920.6 L1708.5 920.7 L1710.5 920.9 L1712.6 921.0 L1714.6 921.1 L1716.6 921.1 L1718.6 921.2 L1720.6 921.2 L1722.7 921.3 L1724.7 921.3 L1726.7 921.3 L1728.8 921.3 L1730.8 921.3 L1732.9 921.3 L1734.9 921.2 L1736.9 921.2 L1739.0 921.1 L1741.0 921.0 L1743.1 921.0 L1745.1 920.9 L1747.2 920.8 L1749.2 920.7 L1751.3 920.6 L1753.4 920.5 L1755.4 920.3 L1757.5 920.2 L1759.5 920.1 L1761.6 919.9 L1763.6 919.8 L1765.7 919.6 L1767.7 919.5 L1769.8 919.3 L1771.8 919.1 L1773.8 919.0 L1775.9 918.8 L1777.9 918.6 L1780.0 918.5 L1782.0 918.3 L1784.0 918.1 L1786.0 917.9 L1788.1 917.8 L1790.1 917.6 L1792.1 917.4 L1794.1 917.3 L1796.1 917.1 L1798.1 916.9 L1800.1 916.8 L1802.1 916.6 L1804.1 916.5 L1806.1 916.3 L1808.0 916.2 L1810.0 916.0 L1812.0 915.9 L1813.9 915.8 L1815.9 915.6 L1817.8 915.5 L1819.8 915.4 L1821.7 915.3 L1823.6 915.2 L1825.5 915.1 L1827.5 915.1 L1829.4 915.0 L1831.3 914.9 L1833.1 914.9 L1835.0 914.9 L1836.9 914.8 L1838.7 914.8 L1840.6 914.8" stroke="#00FFFF"/>
<path d="M1116.2 719.4 L1118.2 719.3 L1120.1 719.2 L1122.1 719.1 L1124.1 718.9 L1126.0 718.8 L1128.0 718.6 L1129.9 718.3 L1131.9 718.0 L1133.8 717.8 L1135.7 717.4 L1137.7 717.1 L1139.6 716.7 L1141.5 716.4 L1143.4 716.0 L1145.4 715.5 L1147.3 715.1 L1149.2 714.6 L1151.1 714.1 L1153.0 713.6 L1154.9 713.1 L1156.8 712.6 L1158.7 712.0 L1160.5 711.4 L1162.4 710.8 L1164.3 710.2 L1166.2 709.6 L1168.1 709.0 L1170.0 708.4 L1171.9 707.7 L1173.7 707.1 L1175.6 706.4 L1177.5 705.7 L1179.4 705.0 L1181.2 704.3 L1183.1 703.6 L1185.0 702.9 L1186.9 702.2 L1188.7 701.5 L1190.6 700.7 L1192.5 700.0 L1194.4 699.3 L1196.2 698.5 L1198.1 697.8 L1200.0 697.1 L1201.9 696.3 L1203.7 695.6 L1205.6 694.9 L1207.5 694.1 L1209.4 693.4 L1211.3 692.7 L1213.2 691.9 L1215.1 691.2 L1217.0 690.5 L1218.8 689.8 L1220.7 689.1 L1222.6 688.4 L1224.5 687.7 L1226.4 687.0 L1228.4 686.3 L1230.3 685.7 L1232.2 685.0 L1234.1 684.3 L1236.0 683.7 L1237.9 683.1 L1239.8 682.4 L1241.7 681.8 L1243.7 681.2 L1245.6 680.6 L1247.5 680.0 L1249.4 679.5 L1251.4 678.9 L1253.3 678.4 L1255.2 677.8 L1257.1 677.3 L1259.1 676.8 L1261.0 676.3 L1263.0 675.9 L1264.9 675.4 L1266.8 675.0 L1268.8 674.6 L1270.7 674.2 L1272.7 673.8 L1274.6 673.4 L1276.6 673.0 L1278.5 672.7 L1280.5 672.4 L1282.4 672.1 L1284.4 671.8 L1286.3 671.6 L1288.3 671.4 L1290.2 671.1 L1292.2 671.0 L1294.2 670.8 L1296.1 670.6 L1298.1 670.5 L1300.1 670.4 L1302.0 670.3 L1304.0 670.3 L1306.0 670.2 L1307.9 670.2 L1309.9 670.2 L1311.9 670.2 L1313.8 670.3 L1315.8 670.3 L1317.8 670.4 L1319.7 670.5 L1321.7 670.6 L1323.7 670.8 L1325.6 670.9 L1327.6 671.1 L1329.6 671.3 L1331.5 671.5 L1333.5 671.7 L1335.5 672.0 L1337.4 672.2 L1339.4 672.5 L1341.3 672.8 L1343.3 673.2 L1345.2 673.5 L1347.2 673.8 L1349.1 674.2 L1351.1 674.6 L1353.0 675.0 L1355.0 675.4 L1356.9 675.8 L1358.9 676.3 L1360.8 676.7 L1362.8 677.2 L1364.7 677.7 L1366.6 678.2 L1368.6 678.7 L1370.5 679.2 L1372.4 679.7 L1374.4 680.2 L1376.3 680.8 L1378.2 681.3 L1380.1 681.8 L1382.1 682.4 L1384.0 683.0 L1385.9 683.5 L1387.8 684.1 L1389.7 684.7 L1391.7 685.3 L1393.6 685.9 L1395.5 686.5 L1397.4 687.1 L1399.3 687.7 L1401.2 688.3 L1403.1 688.9 L1405.0 689.6 L1406.9 690.2 L1408.8 690.8 L1410.7 691.5 L1412.6 692.1 L1414.5 692.8 L1416.4 693.4 L1418.3 694.1 L1420.2 694.8 L1422.1 695.4 L1424.0 696.1 L1425.9 696.8 L1427.7 697.5 L1429.6 698.1 L1431.5 698.8 L1433.4 699.5 L1435.3 700.2 L1437.2 700.9 L1439.0 701.6 L1440.9 702.3 L1442.8 703.0 L1444.7 703.7 L1446.5 704.4 L1448.4 705.1 L1450.3 705.8 L1452.1 706.5 L1454.0 707.2 L1455.9 708.0 L1457.8 708.7 L1459.6 709.4 L1461.5 710.1 L1463.3 710.8 L1465.2 711.5 L1467.1 712.3 L1468.9 713.0 L1470.8 713.7 L1472.6 714.4 L1474.5 715.2 L1476.4 715.9 L1478.2 716.6 L1480.1 717.4 L1481.9 718.1 L1483.8 718.8 L1485.6 719.6 L1487.5 720.3 L1489.3 721.0 L1491.1 721.8 L1493.0 722.5 L1494.8 723.3 L1496.7 724.0 L1498.5 724.8 L1500.4 725.5 L1502.2 726.3 L1504.0 727.0 L1505.9 727.8 L1507.7 728.6 L1509.5 729.3 L1511.4 730.1 L1513.2 730.9 L1515.0 731.6 L1516.8 732.4 L1518.7 733.2 L1520.5 734.0 L1522.3 734.8 L1524.1 735.5 L1526.0 736.3 L1527.8 737.1 L1529.6 737.9 L1531.4 738.7 L1533.2 739.5 L1535.0 740.3 L1536.9 741.2 L1538.7 742.0 L1540.5 742.8 L1542.3 743.6 L1544.1 744.5 L1545.9 745.3 L1547.7 746.1 L1549.5 747.0 L1551.3 747.8 L1553.1 748.7 L1554.9 749.5 L1556.7 750.4 L1558.5 751.2 L1560.3 752.1 L1562.1 753.0 L1563.9 753.8 L1565.7 754.7 L1567.5 755.6 L1569.2 756.5 L1571.0 757.4 L1572.8 758.3 L1574.6 759.2 L1576.4 760.1 L1578.2 761.0 L1579.9 761.9 L1581.7 762.9 L1583.5 763.8 L1585.3 764.7 L1587.1 765.6 L1588.8 766.5 L1590.6 767.5 L1592.4 768.4 L1594.2 769.3 L1596.0 770.2 L1597.7 771.1 L1599.5 772.1 L1601.3 773.0 L1603.1 773.9 L1604.9 774.8 L1606.7 775.7 L1608.4 776.6 L1610.2 777.5 L1612.0 778.4 L1613.8 779.2 L1615.6 780.1 L1617.4 781.0 L1619.2 781.9 L1621.0 782.7 L1622.8 783.6 L1624.6 784.4 L1626.4 785.2 L1628.2 786.0 L1630.1 786.9 L1631.9 787.7 L1633.7 788.4 L1635.5 789.2 L1637.4 790.0 L1639.2 790.7 L1641.0 791.5 L1642.9 792.2 L1644.7 792.9 L1646.6 793.6 L1648.4 794.3 L1650.3 795.0 L1652.2 795.7 L1654.0 796.3 L1655.9 796.9 L1657.8 797.5 L1659.7 798.1 L1661.6 798.7 L1663.4 799.3 L1665.3 799.9 L1667.2 800.4 L1669.2 800.9 L1671.1 801.5 L1673.0 802.0 L1674.9 802.5 L1676.8 803.0 L1678.7 803.4 L1680.7 803.9 L1682.6 804.3 L1684.5 804.8 L1686.5 805.2 L1688.4 805.6 L1690.4 806.0 L1692.3 806.4 L1694.3 806.8 L1696.2 807.2 L1698.2 807.6 L1700.1 807.9 L1702.1 808.3 L1704.1 808.6 L1706.0 808.9 L1708.0 809.3 L1710.0 809.6 L1711.9 809.9 L1713.9 810.2 L1715.9 810.5 L1717.9 810.8 L1719.9 811.1 L1721.8 811.3 L1723.8 811.6 L1725.8 811.9 L1727.8 812.1 L1729.8 812.4 L1731.8 812.6 L1733.8 812.9 L1735.8 813.1 L1737.8 813.3 L1739.8 813.6 L1741.8 813.8 L1743.8 814.0 L1745.8 814.2 L1747.7 814.4 L1749.7 814.6 L1751.7 814.8 L1753.7 815.1 L1755.7 815.3 L1757.7 815.5 L1759.7 815.7 L1761.7 815.9 L1763.7 816.0 L1765.7 816.2 L1767.7 816.4 L1769.7 816.6 L1771.7 816.8 L1773.7 817.0 L1775.7 817.2 L1777.7 817.4 L1779.7 817.6 L1781.7 817.8 L1783.7 818.0 L1785.7 818.2 L1787.7 818.4 L1789.7 818.6 L1791.7 818.8 L1793.7 819.0 L1795.7 819.2 L1797.6 819.4 L1799.6 819.6 L1801.6 819.8 L1803.6 820.0 L1805.6 820.3 L1807.5 820.5 L1809.5 820.7 L1811.5 821.0 L1813.5 821.2 L1815.4 821.4 L1817.4 821.7 L1819.4 821.9 L1821.3 822.2 L1823.3 822.5 L1825.2 822.8 L1827.2 823.0 L1829.1 823.3 L1831.1 823.6 L1833.0 823.9 L1835.0 824.2 L1836.9 824.5 L1838.8 824.9 L1840.7 825.2" stroke="#FF00FF"/>
<path d="M1115.8 541.0 L1117.7 541.6 L1119.7 542.1 L1121.6 542.7 L1123.5 543.2 L1125.4 543.7 L1127.3 544.2 L1129.3 544.7 L1131.2 545.2 L1133.1 545.6 L1135.1 546.0 L1137.0 546.5 L1139.0 546.8 L1140.9 547.2 L1142.9 547.6 L1144.8 548.0 L1146.8 548.3 L1148.7 548.6 L1150.7 548.9 L1152.6 549.2 L1154.6 549.5 L1156.6 549.8 L1158.5 550.1 L1160.5 550.3 L1162.5 550.5 L1164.5 550.8 L1166.4 551.0 L1168.4 551.2 L1170.4 551.4 L1172.4 551.6 L1174.4 551.8 L1176.3 552.0 L1178.3 552.1 L1180.3 552.3 L1182.3 552.4 L1184.3 552.6 L1186.3 552.7 L1188.3 552.9 L1190.3 553.0 L1192.2 553.1 L1194.2 553.2 L1196.2 553.3 L1198.2 553.4 L1200.2 553.6 L1202.2 553.7 L1204.2 553.8 L1206.2 553.8 L1208.2 553.9 L1210.2 554.0 L1212.2 554.1 L1214.2 554.2 L1216.2 554.3 L1218.2 554.4 L1220.2 554.5 L1222.2 554.6 L1224.2 554.6 L1226.2 554.7 L1228.2 554.8 L1230.2 554.9 L1232.2 555.0 L1234.2 555.1 L1236.2 555.2 L1238.2 555.3 L1240.2 555.3 L1242.2 555.4 L1244.2 555.5 L1246.2 555.6 L1248.2 555.7 L1250.2 555.9 L1252.2 556.0 L1254.2 556.1 L1256.2 556.2 L1258.2 556.3 L1260.2 556.5 L1262.2 556.6 L1264.2 556.7 L1266.2 556.9 L1268.2 557.0 L1270.2 557.2 L1272.2 557.3 L1274.2 557.5 L1276.1 557.7 L1278.1 557.9 L1280.1 558.1 L1282.1 558.3 L1284.1 558.5 L1286.1 558.7 L1288.1 558.9 L1290.0 559.1 L1292.0 559.4 L1294.0 559.6 L1296.0 559.9 L1298.0 560.1 L1299.9 560.4 L1301.9 560.7 L1303.9 561.0 L1305.9 561.3 L1307.8 561.6 L1309.8 562.0 L1311.8 562.3 L1313.7 562.7 L1315.7 563.1 L1317.6 563.4 L1319.6 563.8 L1321.5 564.3 L1323.4 564.7 L1325.4 565.2 L1327.3 565.6 L1329.2 566.1 L1331.1 566.6 L1333.1 567.1 L1335.0 567.7 L1336.8 568.2 L1338.7 568.8 L1340.6 569.4 L1342.5 570.1 L1344.4 570.7 L1346.2 571.4 L1348.1 572.1 L1349.9 572.8 L1351.7 573.5 L1353.5 574.3 L1355.4 575.1 L1357.2 575.9 L1358.9 576.7 L1360.7 577.6 L1362.5 578.5 L1364.2 579.4 L1366.0 580.4 L1367.7 581.3 L1369.5 582.3 L1371.2 583.3 L1372.9 584.3 L1374.6 585.3 L1376.3 586.4 L1378.0 587.4 L1379.7 588.5 L1381.4 589.6 L1383.1 590.7 L1384.8 591.8 L1386.5 592.8 L1388.2 593.9 L1389.8 595.0 L1391.5 596.1 L1393.2 597.2 L1394.9 598.3 L1396.6 599.4 L1398.3 600.5 L1400.0 601.6 L1401.7 602.6 L1403.4 603.7 L1405.1 604.7 L1406.8 605.8 L1408.5 606.8 L1410.2 607.8 L1411.9 608.9 L1413.6 609.9 L1415.4 610.9 L1417.1 611.9 L1418.8 612.9 L1420.5 613.9 L1422.3 614.9 L1424.0 615.9 L1425.7 616.8 L1427.5 617.8 L1429.2 618.8 L1431.0 619.8 L1432.7 620.7 L1434.4 621.7 L1436.2 622.7 L1437.9 623.6 L1439.7 624.6 L1441.4 625.6 L1443.1 626.5 L1444.9 627.5 L1446.6 628.4 L1448.4 629.4 L1450.1 630.4 L1451.8 631.3 L1453.6 632.3 L1455.3 633.2 L1457.1 634.2 L1458.8 635.2 L1460.5 636.1 L1462.3 637.1 L1464.0 638.1 L1465.7 639.1 L1467.5 640.1 L1469.2 641.0 L1470.9 642.0 L1472.6 643.0 L1474.4 644.0 L1476.1 645.0 L1477.8 646.0 L1479.5 647.0 L1481.2 648.1 L1482.9 649.1 L1484.6 650.1 L1486.3 651.2 L1488.0 652.2 L1489.7 653.2 L1491.4 654.3 L1493.1 655.4 L1494.8 656.4 L1496.5 657.5 L1498.2 658.6 L1499.9 659.6 L1501.6 660.7 L1503.2 661.8 L1504.9 662.9 L1506.6 664.0 L1508.3 665.0 L1509.9 666.1 L1511.6 667.2 L1513.3 668.3 L1515.0 669.4 L1516.6 670.5 L1518.3 671.6 L1520.0 672.8 L1521.6 673.9 L1523.3 675.0 L1525.0 676.1 L1526.6 677.2 L1528.3 678.3 L1530.0 679.4 L1531.6 680.5 L1533.3 681.7 L1534.9 682.8 L1536.6 683.9 L1538.3 685.0 L1539.9 686.1 L1541.6 687.3 L1543.2 688.4 L1544.9 689.5 L1546.6 690.6 L1548.2 691.7 L1549.9 692.9 L1551.6 694.0 L1553.2 695.1 L1554.9 696.2 L1556.5 697.3 L1558.2 698.4 L1559.9 699.5 L1561.5 700.6 L1563.2 701.7 L1564.9 702.8 L1566.6 703.9 L1568.2 705.0 L1569.9 706.1 L1571.6 707.2 L1573.2 708.3 L1574.9 709.4 L1576.6 710.4 L1578.3 711.5 L1580.0 712.6 L1581.7 713.7 L1583.3 714.7 L1585.0 715.8 L1586.7 716.8 L1588.4 717.9 L1590.1 718.9 L1591.8 720.0 L1593.5 721.0 L1595.2 722.0 L1596.9 723.1 L1598.6 724.1 L1600.3 725.1 L1602.0 726.1 L1603.7 727.1 L1605.5 728.1 L1607.2 729.1 L1608.9 730.1 L1610.6 731.0 L1612.4 732.0 L1614.1 732.9 L1615.8 733.9 L1617.6 734.8 L1619.3 735.8 L1621.1 736.7 L1622.8 737.6 L1624.6 738.5 L1626.3 739.4 L1628.1 740.3 L1629.9 741.2 L1631.6 742.1 L1633.4 743.0 L1635.2 743.8 L1637.0 744.7 L1638.8 745.5 L1640.6 746.4 L1642.4 747.2 L1644.2 748.0 L1646.0 748.8 L1647.8 749.6 L1649.6 750.4 L1651.4 751.1 L1653.3 751.9 L1655.1 752.6 L1656.9 753.4 L1658.8 754.1 L1660.6 754.8 L1662.5 755.5 L1664.3 756.2 L1666.2 756.9 L1668.0 757.6 L1669.9 758.3 L1671.8 758.9 L1673.7 759.6 L1675.5 760.2 L1677.4 760.9 L1679.3 761.5 L1681.2 762.1 L1683.1 762.7 L1685.0 763.3 L1686.9 763.9 L1688.8 764.5 L1690.7 765.1 L1692.6 765.7 L1694.5 766.2 L1696.4 766.8 L1698.4 767.3 L1700.3 767.9 L1702.2 768.4 L1704.1 769.0 L1706.1 769.5 L1708.0 770.0 L1709.9 770.5 L1711.9 771.0 L1713.8 771.5 L1715.8 772.0 L1717.7 772.5 L1719.6 773.0 L1721.6 773.5 L1723.5 773.9 L1725.5 774.4 L1727.4 774.9 L1729.4 775.3 L1731.4 775.8 L1733.3 776.2 L1735.3 776.7 L1737.2 777.1 L1739.2 777.5 L1741.2 778.0 L1743.1 778.4 L1745.1 778.8 L1747.0 779.2 L1749.0 779.7 L1751.0 780.1 L1752.9 780.5 L1754.9 780.9 L1756.9 781.3 L1758.8 781.7 L1760.8 782.1 L1762.8 782.5 L1764.8 782.9 L1766.7 783.3 L1768.7 783.7 L1770.7 784.1 L1772.6 784.5 L1774.6 784.9 L1776.6 785.3 L1778.5 785.6 L1780.5 786.0 L1782.5 786.4 L1784.4 786.8 L1786.4 787.2 L1788.3 787.6 L1790.3 787.9 L1792.3 788.3 L1794.2 788.7 L1796.2 789.1 L1798.1 789.5 L1800.1 789.9 L1802.0 790.3 L1804.0 790.6 L1805.9 791.0 L1807.9 791.4 L1809.8 791.8 L1811.8 792.2 L1813.7 792.6 L1815.7 793.0 L1817.6 793.4 L1819.5 793.8 L1821.5 794.2 L1823.4 794.6 L1825.3 795.0 L1827.2 795.4 L1829.2 795.8 L1831.1 796.2 L1833.0 796.6 L1834.9 797.1 L1836.8 797.5 L1838.7 797.9 L1840.6 798.3" stroke="#FFFF00"/>
</g>
<g stroke="#000" stroke-width="6.2" stroke-linecap="round" fill="none">
<path d="M212.0 53.2 H1836.4 V1252.6"/>
<path d="M243.2 53.2 V1252.6"/>
<path d="M243.2 1264.7 H1836.4"/>
<path d="M212.5 1252.6 H243.2"/>
<path d="M227.5 1152.6 H243.2"/>
<path d="M212.5 1052.7 H243.2"/>
<path d="M227.5 952.7 H243.2"/>
<path d="M212.5 852.8 H243.2"/>
<path d="M227.5 752.8 H243.2"/>
<path d="M212.5 652.9 H243.2"/>
<path d="M227.5 552.9 H243.2"/>
<path d="M212.5 453.0 H243.2"/>
<path d="M227.5 353.1 H243.2"/>
<path d="M212.5 253.1 H243.2"/>
<path d="M227.5 153.1 H243.2"/>
<path d="M212.5 53.2 H243.2"/>
<path d="M243.2 1264.7 V1293.0"/>
<path d="M342.8 1264.7 V1279.0"/>
<path d="M442.4 1264.7 V1293.0"/>
<path d="M541.9 1264.7 V1279.0"/>
<path d="M641.5 1264.7 V1293.0"/>
<path d="M741.1 1264.7 V1279.0"/>
<path d="M840.7 1264.7 V1293.0"/>
<path d="M940.2 1264.7 V1279.0"/>
<path d="M1039.8 1264.7 V1293.0"/>
<path d="M1139.4 1264.7 V1279.0"/>
<path d="M1239.0 1264.7 V1293.0"/>
<path d="M1338.5 1264.7 V1279.0"/>
<path d="M1438.1 1264.7 V1293.0"/>
<path d="M1537.7 1264.7 V1279.0"/>
<path d="M1637.2 1264.7 V1293.0"/>
<path d="M1736.8 1264.7 V1279.0"/>
<path d="M1836.4 1264.7 V1293.0"/>
</g>
<g stroke="#000" stroke-width="3" stroke-linecap="butt" fill="none">
<path d="M1101.0 442.0 H1836.4"/>
<path d="M1115.8 442.0 V980.0"/>
<path d="M1101.0 965.5 H1840.3"/>
<path d="M1101.0 965.5 H1115.8"/>
<path d="M1107.0 928.1 H1115.8"/>
<path d="M1101.0 890.8 H1115.8"/>
<path d="M1107.0 853.4 H1115.8"/>
<path d="M1101.0 816.0 H1115.8"/>
<path d="M1107.0 778.6 H1115.8"/>
<path d="M1101.0 741.2 H1115.8"/>
<path d="M1107.0 703.9 H1115.8"/>
<path d="M1101.0 666.5 H1115.8"/>
<path d="M1107.0 629.1 H1115.8"/>
<path d="M1101.0 591.8 H1115.8"/>
<path d="M1107.0 554.4 H1115.8"/>
<path d="M1101.0 517.0 H1115.8"/>
<path d="M1107.0 479.6 H1115.8"/>
<path d="M1101.0 442.2 H1115.8"/>
<path d="M1115.8 965.5 V980.0"/>
<path d="M1222.5 965.5 V973.5"/>
<path d="M1329.2 965.5 V980.0"/>
<path d="M1435.9 965.5 V973.5"/>
<path d="M1542.6 965.5 V980.0"/>
<path d="M1649.3 965.5 V973.5"/>
<path d="M1756.0 965.5 V980.0"/>
</g>
<g stroke="#000" stroke-width="2.4" fill="none">
<path d="M447.6 150.4 H1197"/>
<path d="M577.4 906.8 H313"/>
<path d="M1399.6 983.3 L1275 1197"/>
</g>
<g fill="#000" stroke="#000" stroke-width="1.2" stroke-linejoin="round">
<path d="M1233 150.4 L1195.1 141.1 L1195.1 159.5 Z"/>
<path d="M276.9 907 L314.8 897.4 L314.8 916.7 Z"/>
<path d="M1256.1 1229.3 L1267.3 1192.4 L1282.5 1201.5 Z"/>
</g>
<text transform="translate(195.40 1273.10) scale(0.955 1)" font-size="59.7" text-anchor="end">0.0</text>
<text transform="translate(195.40 1073.20) scale(0.955 1)" font-size="59.7" text-anchor="end">0.2</text>
<text transform="translate(195.40 873.30) scale(0.955 1)" font-size="59.7" text-anchor="end">0.4</text>
<text transform="translate(195.40 673.40) scale(0.955 1)" font-size="59.7" text-anchor="end">0.6</text>
<text transform="translate(195.40 473.50) scale(0.955 1)" font-size="59.7" text-anchor="end">0.8</text>
<text transform="translate(195.40 273.60) scale(0.955 1)" font-size="59.7" text-anchor="end">1.0</text>
<text transform="translate(195.40 73.70) scale(0.955 1)" font-size="59.7" text-anchor="end">1.2</text>
<text transform="translate(1868.50 1269.10) scale(0.955 1)" font-size="59.7">0.0</text>
<text transform="translate(1868.50 869.30) scale(0.955 1)" font-size="59.7">0.2</text>
<text transform="translate(1868.50 469.50) scale(0.955 1)" font-size="59.7">0.4</text>
<text transform="translate(1868.50 69.70) scale(0.955 1)" font-size="59.7">0.6</text>
<text transform="translate(243.50 1353.70) scale(0.927 1)" font-size="60.0" text-anchor="middle" font-weight="bold">250</text>
<text transform="translate(442.65 1353.70) scale(0.927 1)" font-size="60.0" text-anchor="middle" font-weight="bold">300</text>
<text transform="translate(641.80 1353.70) scale(0.927 1)" font-size="60.0" text-anchor="middle" font-weight="bold">350</text>
<text transform="translate(840.95 1353.70) scale(0.927 1)" font-size="60.0" text-anchor="middle" font-weight="bold">400</text>
<text transform="translate(1040.10 1353.70) scale(0.927 1)" font-size="60.0" text-anchor="middle" font-weight="bold">450</text>
<text transform="translate(1239.25 1353.70) scale(0.927 1)" font-size="60.0" text-anchor="middle" font-weight="bold">500</text>
<text transform="translate(1438.40 1353.70) scale(0.927 1)" font-size="60.0" text-anchor="middle" font-weight="bold">550</text>
<text transform="translate(1637.55 1353.70) scale(0.927 1)" font-size="60.0" text-anchor="middle" font-weight="bold">600</text>
<text transform="translate(1836.70 1353.70) scale(0.927 1)" font-size="60.0" text-anchor="middle" font-weight="bold">650</text>
<text transform="translate(1091.60 979.40) scale(0.904 1)" font-size="47.6" text-anchor="end" font-weight="bold">0.5</text>
<text transform="translate(1091.60 904.65) scale(0.904 1)" font-size="47.6" text-anchor="end" font-weight="bold">1.0</text>
<text transform="translate(1091.60 829.90) scale(0.904 1)" font-size="47.6" text-anchor="end" font-weight="bold">1.5</text>
<text transform="translate(1091.60 755.15) scale(0.904 1)" font-size="47.6" text-anchor="end" font-weight="bold">2.0</text>
<text transform="translate(1091.60 680.40) scale(0.904 1)" font-size="47.6" text-anchor="end" font-weight="bold">2.5</text>
<text transform="translate(1091.60 605.65) scale(0.904 1)" font-size="47.6" text-anchor="end" font-weight="bold">3.0</text>
<text transform="translate(1091.60 530.90) scale(0.904 1)" font-size="47.6" text-anchor="end" font-weight="bold">3.5</text>
<text transform="translate(1091.60 456.15) scale(0.904 1)" font-size="47.6" text-anchor="end" font-weight="bold">4.0</text>
<text transform="translate(1120.00 1030.40) scale(0.920 1)" font-size="60.3" text-anchor="middle" font-weight="bold">450</text>
<text transform="translate(1333.40 1030.40) scale(0.920 1)" font-size="60.3" text-anchor="middle" font-weight="bold">500</text>
<text transform="translate(1546.80 1030.40) scale(0.920 1)" font-size="60.3" text-anchor="middle" font-weight="bold">550</text>
<text transform="translate(1760.20 1030.40) scale(0.920 1)" font-size="60.3" text-anchor="middle" font-weight="bold">600</text>
<path d="M1367 96.2 H1439" stroke="#000000" stroke-width="11" stroke-linecap="round"/>
<text transform="translate(1776.50 107.00) scale(0.945 1)" font-size="43.0" text-anchor="end" font-weight="bold">0.0 wt.% PQDs</text>
<path d="M1367 148.6 H1439" stroke="#FF0000" stroke-width="11" stroke-linecap="round"/>
<text transform="translate(1776.50 159.40) scale(0.945 1)" font-size="43.0" text-anchor="end" font-weight="bold">0.5 wt.% PQDs</text>
<path d="M1367 201.3 H1439" stroke="#00FF00" stroke-width="11" stroke-linecap="round"/>
<text transform="translate(1776.50 212.10) scale(0.945 1)" font-size="43.0" text-anchor="end" font-weight="bold">1.0 wt.% PQDs</text>
<path d="M1367 253.8 H1439" stroke="#0000FF" stroke-width="11" stroke-linecap="round"/>
<text transform="translate(1776.50 264.60) scale(0.945 1)" font-size="43.0" text-anchor="end" font-weight="bold">3.0 wt.% PQDs</text>
<path d="M1367 306.2 H1439" stroke="#00FFFF" stroke-width="11" stroke-linecap="round"/>
<text transform="translate(1776.50 317.00) scale(0.945 1)" font-size="43.0" text-anchor="end" font-weight="bold">5.0 wt.% PQDs</text>
<path d="M1367 358.9 H1439" stroke="#FF00FF" stroke-width="11" stroke-linecap="round"/>
<text transform="translate(1776.50 369.70) scale(0.945 1)" font-size="43.0" text-anchor="end" font-weight="bold">7.0 wt.% PQDs</text>
<path d="M1367 411.3 H1439" stroke="#FFFF00" stroke-width="11" stroke-linecap="round"/>
<text transform="translate(1776.50 422.10) scale(0.945 1)" font-size="43.0" text-anchor="end" font-weight="bold">10.0 wt.% PQDs</text>
<text transform="translate(479.60 226.30) scale(0.960 1)" font-size="73.8" fill="#A0A0A0">Pure PQDs</text>
<text transform="translate(840.25 1462.60)" font-size="73.0" style='font-family:"Noto Serif CJK SC","Liberation Serif",serif' stroke="#000" stroke-width="2.2" stroke-linejoin="round">&#955;</text>
<text transform="translate(906.90 1461.90) scale(0.970 1)" font-size="70.0" font-weight="bold">(nm)</text>
<text transform="translate(1397.25 1097.40)" font-size="49.3" style='font-family:"Noto Serif CJK SC","Liberation Serif",serif' stroke="#000" stroke-width="1.6" stroke-linejoin="round">&#955;</text>
<text transform="translate(1442.30 1097.00) scale(0.955 1)" font-size="56.5" font-weight="bold">(nm)</text>
<text transform="translate(99.00 835.95) rotate(-90) scale(1.051 1)" font-size="47.5" style='font-family:"Noto Serif CJK SC","Liberation Serif",serif' stroke="#000" stroke-width="1.5" stroke-linejoin="round">&#945;</text>
<text transform="translate(98.90 789.05) rotate(-90) scale(0.866 1)" font-size="70.5" font-weight="bold">(</text>
<text transform="translate(99.00 766.75) rotate(-90) scale(0.949 1)" font-size="53.9" font-weight="bold">cm</text>
<text transform="translate(66.80 690.79) rotate(-90) scale(0.781 1)" font-size="47.8" font-weight="bold">-1</text>
<text transform="translate(99.20 650.71) rotate(-90) scale(0.936 1)" font-size="54.8" font-weight="bold">x10</text>
<text transform="translate(60.90 563.90) rotate(-90) scale(0.900 1)" font-size="48.0" font-weight="bold">5</text>
<text transform="translate(98.90 537.70) rotate(-90) scale(0.851 1)" font-size="70.5" font-weight="bold">)</text>
<text transform="translate(1970.80 798.75) rotate(-90) scale(1.051 1)" font-size="47.5" style='font-family:"Noto Serif CJK SC","Liberation Serif",serif' stroke="#000" stroke-width="1.5" stroke-linejoin="round">&#945;</text>
<text transform="translate(1970.70 751.85) rotate(-90) scale(0.866 1)" font-size="70.5" font-weight="bold">(</text>
<text transform="translate(1970.80 729.55) rotate(-90) scale(0.949 1)" font-size="53.9" font-weight="bold">cm</text>
<text transform="translate(1938.60 653.59) rotate(-90) scale(0.781 1)" font-size="47.8" font-weight="bold">-1</text>
<text transform="translate(1971.00 613.51) rotate(-90) scale(0.936 1)" font-size="54.8" font-weight="bold">x10</text>
<text transform="translate(1932.70 526.70) rotate(-90) scale(0.900 1)" font-size="48.0" font-weight="bold">5</text>
<text transform="translate(1970.70 500.50) rotate(-90) scale(0.851 1)" font-size="70.5" font-weight="bold">)</text>
<text transform="translate(1000.40 801.43) rotate(-90) scale(1.101 1)" font-size="43.0" style='font-family:"Noto Serif CJK SC","Liberation Serif",serif' stroke="#000" stroke-width="1.4" stroke-linejoin="round">&#945;</text>
<text transform="translate(1000.20 760.42) rotate(-90) scale(0.887 1)" font-size="70.5" font-weight="bold">(</text>
<text transform="translate(999.90 738.02) rotate(-90) scale(1.007 1)" font-size="45.2" font-weight="bold">cm</text>
<text transform="translate(968.20 671.09) rotate(-90) scale(0.777 1)" font-size="48.0" font-weight="bold">-1</text>
<text transform="translate(1000.30 630.44) rotate(-90) scale(0.943 1)" font-size="46.5" font-weight="bold">x10</text>
<text transform="translate(962.30 556.50) rotate(-90) scale(0.918 1)" font-size="48.0" font-weight="bold">3</text>
<text transform="translate(1000.30 530.71) rotate(-90) scale(0.892 1)" font-size="70.5" font-weight="bold">)</text>
</svg></body></html>
